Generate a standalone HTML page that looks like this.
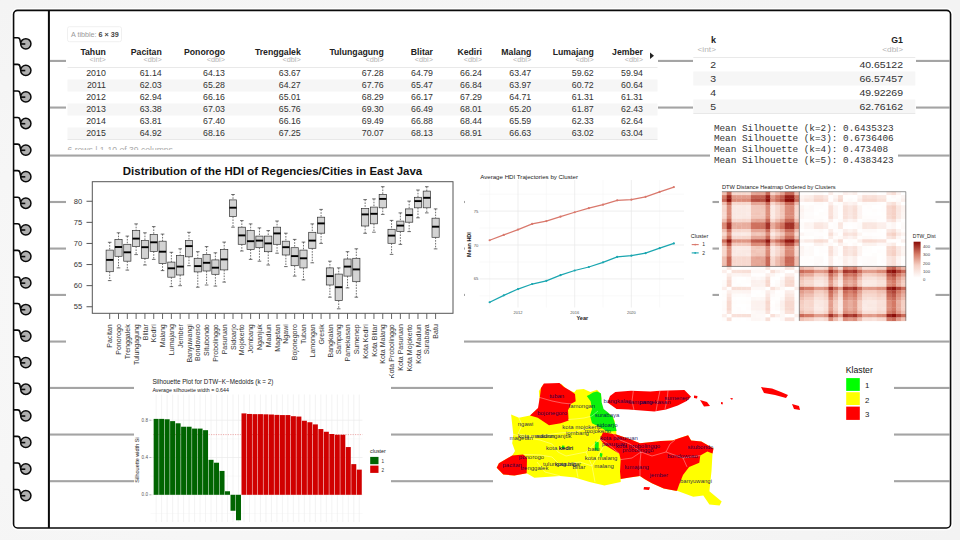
<!DOCTYPE html>
<html><head><meta charset="utf-8"><style>
html,body{margin:0;padding:0;width:960px;height:540px;overflow:hidden;background:#eee}
svg{display:block}
</style></head><body>
<svg width="960" height="540" viewBox="0 0 960 540" font-family="Liberation Sans, sans-serif">
<defs><radialGradient id="bgg" cx="30%" cy="60%" r="80%"><stop offset="0" stop-color="#f9f9f9"/><stop offset="1" stop-color="#f3f3f3"/></radialGradient></defs>
<rect x="0" y="0" width="960" height="540" fill="url(#bgg)"/>
<rect x="13.56" y="10.33" width="937" height="517.63" rx="4" fill="none" stroke="#ffffff" stroke-width="4.5"/>
<rect x="13.56" y="10.33" width="937" height="517.63" rx="4" fill="#fff" stroke="#0a0a0a" stroke-width="1.6"/>
<rect x="50" y="59.88" width="900" height="2.1" fill="#a4a4a4"/>
<rect x="50" y="106.51" width="900" height="2.1" fill="#a4a4a4"/>
<rect x="50" y="154.51" width="900" height="2.1" fill="#a4a4a4"/>
<rect x="50" y="200.95" width="900" height="2.1" fill="#a4a4a4"/>
<rect x="50" y="247.51" width="900" height="2.1" fill="#a4a4a4"/>
<rect x="50" y="293.88" width="900" height="2.1" fill="#a4a4a4"/>
<rect x="50" y="340.51" width="900" height="2.1" fill="#a4a4a4"/>
<rect x="50" y="386.88" width="900" height="2.1" fill="#a4a4a4"/>
<rect x="50" y="433.5" width="900" height="2.1" fill="#a4a4a4"/>
<rect x="50" y="480.14" width="900" height="2.1" fill="#a4a4a4"/>
<rect x="47.9" y="10.33" width="2" height="517.63" fill="#0a0a0a"/>
<path d="M13.8,37.78 H17.6 Q19.8,37.78 20.1,40.48 Q20.4,43.98 22,43.98 H25.3" fill="none" stroke="#0a0a0a" stroke-width="1.6"/>
<circle cx="25.8" cy="43.78" r="5.15" fill="#b0b0b0" stroke="#0a0a0a" stroke-width="1.5"/>
<path d="M20.6,43.98 H25.3" stroke="#0a0a0a" stroke-width="1.6"/>
<path d="M13.8,64.36 H17.6 Q19.8,64.36 20.1,67.06 Q20.4,70.56 22,70.56 H25.3" fill="none" stroke="#0a0a0a" stroke-width="1.6"/>
<circle cx="25.8" cy="70.36" r="5.15" fill="#b0b0b0" stroke="#0a0a0a" stroke-width="1.5"/>
<path d="M20.6,70.56 H25.3" stroke="#0a0a0a" stroke-width="1.6"/>
<path d="M13.8,90.93 H17.6 Q19.8,90.93 20.1,93.63 Q20.4,97.13 22,97.13 H25.3" fill="none" stroke="#0a0a0a" stroke-width="1.6"/>
<circle cx="25.8" cy="96.93" r="5.15" fill="#b0b0b0" stroke="#0a0a0a" stroke-width="1.5"/>
<path d="M20.6,97.13 H25.3" stroke="#0a0a0a" stroke-width="1.6"/>
<path d="M13.8,117.5 H17.6 Q19.8,117.5 20.1,120.2 Q20.4,123.7 22,123.7 H25.3" fill="none" stroke="#0a0a0a" stroke-width="1.6"/>
<circle cx="25.8" cy="123.5" r="5.15" fill="#b0b0b0" stroke="#0a0a0a" stroke-width="1.5"/>
<path d="M20.6,123.7 H25.3" stroke="#0a0a0a" stroke-width="1.6"/>
<path d="M13.8,144.08 H17.6 Q19.8,144.08 20.1,146.78 Q20.4,150.28 22,150.28 H25.3" fill="none" stroke="#0a0a0a" stroke-width="1.6"/>
<circle cx="25.8" cy="150.08" r="5.15" fill="#b0b0b0" stroke="#0a0a0a" stroke-width="1.5"/>
<path d="M20.6,150.28 H25.3" stroke="#0a0a0a" stroke-width="1.6"/>
<path d="M13.8,170.66 H17.6 Q19.8,170.66 20.1,173.35 Q20.4,176.85 22,176.85 H25.3" fill="none" stroke="#0a0a0a" stroke-width="1.6"/>
<circle cx="25.8" cy="176.66" r="5.15" fill="#b0b0b0" stroke="#0a0a0a" stroke-width="1.5"/>
<path d="M20.6,176.85 H25.3" stroke="#0a0a0a" stroke-width="1.6"/>
<path d="M13.8,197.23 H17.6 Q19.8,197.23 20.1,199.93 Q20.4,203.43 22,203.43 H25.3" fill="none" stroke="#0a0a0a" stroke-width="1.6"/>
<circle cx="25.8" cy="203.23" r="5.15" fill="#b0b0b0" stroke="#0a0a0a" stroke-width="1.5"/>
<path d="M20.6,203.43 H25.3" stroke="#0a0a0a" stroke-width="1.6"/>
<path d="M13.8,223.81 H17.6 Q19.8,223.81 20.1,226.5 Q20.4,230 22,230 H25.3" fill="none" stroke="#0a0a0a" stroke-width="1.6"/>
<circle cx="25.8" cy="229.81" r="5.15" fill="#b0b0b0" stroke="#0a0a0a" stroke-width="1.5"/>
<path d="M20.6,230 H25.3" stroke="#0a0a0a" stroke-width="1.6"/>
<path d="M13.8,250.38 H17.6 Q19.8,250.38 20.1,253.08 Q20.4,256.58 22,256.58 H25.3" fill="none" stroke="#0a0a0a" stroke-width="1.6"/>
<circle cx="25.8" cy="256.38" r="5.15" fill="#b0b0b0" stroke="#0a0a0a" stroke-width="1.5"/>
<path d="M20.6,256.58 H25.3" stroke="#0a0a0a" stroke-width="1.6"/>
<path d="M13.8,276.95 H17.6 Q19.8,276.95 20.1,279.65 Q20.4,283.15 22,283.15 H25.3" fill="none" stroke="#0a0a0a" stroke-width="1.6"/>
<circle cx="25.8" cy="282.95" r="5.15" fill="#b0b0b0" stroke="#0a0a0a" stroke-width="1.5"/>
<path d="M20.6,283.15 H25.3" stroke="#0a0a0a" stroke-width="1.6"/>
<path d="M13.8,303.53 H17.6 Q19.8,303.53 20.1,306.23 Q20.4,309.73 22,309.73 H25.3" fill="none" stroke="#0a0a0a" stroke-width="1.6"/>
<circle cx="25.8" cy="309.53" r="5.15" fill="#b0b0b0" stroke="#0a0a0a" stroke-width="1.5"/>
<path d="M20.6,309.73 H25.3" stroke="#0a0a0a" stroke-width="1.6"/>
<path d="M13.8,330.11 H17.6 Q19.8,330.11 20.1,332.81 Q20.4,336.31 22,336.31 H25.3" fill="none" stroke="#0a0a0a" stroke-width="1.6"/>
<circle cx="25.8" cy="336.11" r="5.15" fill="#b0b0b0" stroke="#0a0a0a" stroke-width="1.5"/>
<path d="M20.6,336.31 H25.3" stroke="#0a0a0a" stroke-width="1.6"/>
<path d="M13.8,356.68 H17.6 Q19.8,356.68 20.1,359.38 Q20.4,362.88 22,362.88 H25.3" fill="none" stroke="#0a0a0a" stroke-width="1.6"/>
<circle cx="25.8" cy="362.68" r="5.15" fill="#b0b0b0" stroke="#0a0a0a" stroke-width="1.5"/>
<path d="M20.6,362.88 H25.3" stroke="#0a0a0a" stroke-width="1.6"/>
<path d="M13.8,383.25 H17.6 Q19.8,383.25 20.1,385.95 Q20.4,389.45 22,389.45 H25.3" fill="none" stroke="#0a0a0a" stroke-width="1.6"/>
<circle cx="25.8" cy="389.25" r="5.15" fill="#b0b0b0" stroke="#0a0a0a" stroke-width="1.5"/>
<path d="M20.6,389.45 H25.3" stroke="#0a0a0a" stroke-width="1.6"/>
<path d="M13.8,409.83 H17.6 Q19.8,409.83 20.1,412.53 Q20.4,416.03 22,416.03 H25.3" fill="none" stroke="#0a0a0a" stroke-width="1.6"/>
<circle cx="25.8" cy="415.83" r="5.15" fill="#b0b0b0" stroke="#0a0a0a" stroke-width="1.5"/>
<path d="M20.6,416.03 H25.3" stroke="#0a0a0a" stroke-width="1.6"/>
<path d="M13.8,436.4 H17.6 Q19.8,436.4 20.1,439.1 Q20.4,442.6 22,442.6 H25.3" fill="none" stroke="#0a0a0a" stroke-width="1.6"/>
<circle cx="25.8" cy="442.4" r="5.15" fill="#b0b0b0" stroke="#0a0a0a" stroke-width="1.5"/>
<path d="M20.6,442.6 H25.3" stroke="#0a0a0a" stroke-width="1.6"/>
<path d="M13.8,462.98 H17.6 Q19.8,462.98 20.1,465.68 Q20.4,469.18 22,469.18 H25.3" fill="none" stroke="#0a0a0a" stroke-width="1.6"/>
<circle cx="25.8" cy="468.98" r="5.15" fill="#b0b0b0" stroke="#0a0a0a" stroke-width="1.5"/>
<path d="M20.6,469.18 H25.3" stroke="#0a0a0a" stroke-width="1.6"/>
<path d="M13.8,489.55 H17.6 Q19.8,489.55 20.1,492.25 Q20.4,495.75 22,495.75 H25.3" fill="none" stroke="#0a0a0a" stroke-width="1.6"/>
<circle cx="25.8" cy="495.55" r="5.15" fill="#b0b0b0" stroke="#0a0a0a" stroke-width="1.5"/>
<path d="M20.6,495.75 H25.3" stroke="#0a0a0a" stroke-width="1.6"/>
<rect x="66" y="14" width="592" height="136" fill="#fff"/>
<rect x="67.5" y="26.7" width="54" height="15" rx="2" fill="#fff" stroke="#ececec" stroke-width="0.8"/>
<text x="71" y="37.3" font-size="7.2" fill="#9a9a9a">A tibble: <tspan fill="#444" font-weight="bold">6 × 39</tspan></text>
<rect x="67.5" y="79.5" width="590" height="12" fill="#f6f6f6"/>
<rect x="67.5" y="103.5" width="590" height="12" fill="#f6f6f6"/>
<rect x="67.5" y="127.5" width="590" height="12" fill="#f6f6f6"/>
<rect x="67.5" y="67" width="590" height="0.8" fill="#e4e4e4"/>
<rect x="67.5" y="139.2" width="590" height="0.8" fill="#e4e4e4"/>
<text x="105.8" y="55.2" font-size="8.7" fill="#222" text-anchor="end" font-weight="bold" >Tahun</text>
<text x="105.8" y="62.2" font-size="7.3" fill="#b4b4b4" text-anchor="end" font-weight="normal" >&lt;int&gt;</text>
<text x="105.8" y="76.2" font-size="8.8" fill="#333" text-anchor="end" font-weight="normal" >2010</text>
<text x="105.8" y="88.2" font-size="8.8" fill="#333" text-anchor="end" font-weight="normal" >2011</text>
<text x="105.8" y="100.2" font-size="8.8" fill="#333" text-anchor="end" font-weight="normal" >2012</text>
<text x="105.8" y="112.2" font-size="8.8" fill="#333" text-anchor="end" font-weight="normal" >2013</text>
<text x="105.8" y="124.2" font-size="8.8" fill="#333" text-anchor="end" font-weight="normal" >2014</text>
<text x="105.8" y="136.2" font-size="8.8" fill="#333" text-anchor="end" font-weight="normal" >2015</text>
<text x="161.7" y="55.2" font-size="8.7" fill="#222" text-anchor="end" font-weight="bold" >Pacitan</text>
<text x="161.7" y="62.2" font-size="7.3" fill="#b4b4b4" text-anchor="end" font-weight="normal" >&lt;dbl&gt;</text>
<text x="161.7" y="76.2" font-size="8.8" fill="#333" text-anchor="end" font-weight="normal" >61.14</text>
<text x="161.7" y="88.2" font-size="8.8" fill="#333" text-anchor="end" font-weight="normal" >62.03</text>
<text x="161.7" y="100.2" font-size="8.8" fill="#333" text-anchor="end" font-weight="normal" >62.94</text>
<text x="161.7" y="112.2" font-size="8.8" fill="#333" text-anchor="end" font-weight="normal" >63.38</text>
<text x="161.7" y="124.2" font-size="8.8" fill="#333" text-anchor="end" font-weight="normal" >63.81</text>
<text x="161.7" y="136.2" font-size="8.8" fill="#333" text-anchor="end" font-weight="normal" >64.92</text>
<text x="225" y="55.2" font-size="8.7" fill="#222" text-anchor="end" font-weight="bold" >Ponorogo</text>
<text x="225" y="62.2" font-size="7.3" fill="#b4b4b4" text-anchor="end" font-weight="normal" >&lt;dbl&gt;</text>
<text x="225" y="76.2" font-size="8.8" fill="#333" text-anchor="end" font-weight="normal" >64.13</text>
<text x="225" y="88.2" font-size="8.8" fill="#333" text-anchor="end" font-weight="normal" >65.28</text>
<text x="225" y="100.2" font-size="8.8" fill="#333" text-anchor="end" font-weight="normal" >66.16</text>
<text x="225" y="112.2" font-size="8.8" fill="#333" text-anchor="end" font-weight="normal" >67.03</text>
<text x="225" y="124.2" font-size="8.8" fill="#333" text-anchor="end" font-weight="normal" >67.40</text>
<text x="225" y="136.2" font-size="8.8" fill="#333" text-anchor="end" font-weight="normal" >68.16</text>
<text x="300.75" y="55.2" font-size="8.7" fill="#222" text-anchor="end" font-weight="bold" >Trenggalek</text>
<text x="300.75" y="62.2" font-size="7.3" fill="#b4b4b4" text-anchor="end" font-weight="normal" >&lt;dbl&gt;</text>
<text x="300.75" y="76.2" font-size="8.8" fill="#333" text-anchor="end" font-weight="normal" >63.67</text>
<text x="300.75" y="88.2" font-size="8.8" fill="#333" text-anchor="end" font-weight="normal" >64.27</text>
<text x="300.75" y="100.2" font-size="8.8" fill="#333" text-anchor="end" font-weight="normal" >65.01</text>
<text x="300.75" y="112.2" font-size="8.8" fill="#333" text-anchor="end" font-weight="normal" >65.76</text>
<text x="300.75" y="124.2" font-size="8.8" fill="#333" text-anchor="end" font-weight="normal" >66.16</text>
<text x="300.75" y="136.2" font-size="8.8" fill="#333" text-anchor="end" font-weight="normal" >67.25</text>
<text x="383.75" y="55.2" font-size="8.7" fill="#222" text-anchor="end" font-weight="bold" >Tulungagung</text>
<text x="383.75" y="62.2" font-size="7.3" fill="#b4b4b4" text-anchor="end" font-weight="normal" >&lt;dbl&gt;</text>
<text x="383.75" y="76.2" font-size="8.8" fill="#333" text-anchor="end" font-weight="normal" >67.28</text>
<text x="383.75" y="88.2" font-size="8.8" fill="#333" text-anchor="end" font-weight="normal" >67.76</text>
<text x="383.75" y="100.2" font-size="8.8" fill="#333" text-anchor="end" font-weight="normal" >68.29</text>
<text x="383.75" y="112.2" font-size="8.8" fill="#333" text-anchor="end" font-weight="normal" >69.30</text>
<text x="383.75" y="124.2" font-size="8.8" fill="#333" text-anchor="end" font-weight="normal" >69.49</text>
<text x="383.75" y="136.2" font-size="8.8" fill="#333" text-anchor="end" font-weight="normal" >70.07</text>
<text x="433" y="55.2" font-size="8.7" fill="#222" text-anchor="end" font-weight="bold" >Blitar</text>
<text x="433" y="62.2" font-size="7.3" fill="#b4b4b4" text-anchor="end" font-weight="normal" >&lt;dbl&gt;</text>
<text x="433" y="76.2" font-size="8.8" fill="#333" text-anchor="end" font-weight="normal" >64.79</text>
<text x="433" y="88.2" font-size="8.8" fill="#333" text-anchor="end" font-weight="normal" >65.47</text>
<text x="433" y="100.2" font-size="8.8" fill="#333" text-anchor="end" font-weight="normal" >66.17</text>
<text x="433" y="112.2" font-size="8.8" fill="#333" text-anchor="end" font-weight="normal" >66.49</text>
<text x="433" y="124.2" font-size="8.8" fill="#333" text-anchor="end" font-weight="normal" >66.88</text>
<text x="433" y="136.2" font-size="8.8" fill="#333" text-anchor="end" font-weight="normal" >68.13</text>
<text x="482" y="55.2" font-size="8.7" fill="#222" text-anchor="end" font-weight="bold" >Kediri</text>
<text x="482" y="62.2" font-size="7.3" fill="#b4b4b4" text-anchor="end" font-weight="normal" >&lt;dbl&gt;</text>
<text x="482" y="76.2" font-size="8.8" fill="#333" text-anchor="end" font-weight="normal" >66.24</text>
<text x="482" y="88.2" font-size="8.8" fill="#333" text-anchor="end" font-weight="normal" >66.84</text>
<text x="482" y="100.2" font-size="8.8" fill="#333" text-anchor="end" font-weight="normal" >67.29</text>
<text x="482" y="112.2" font-size="8.8" fill="#333" text-anchor="end" font-weight="normal" >68.01</text>
<text x="482" y="124.2" font-size="8.8" fill="#333" text-anchor="end" font-weight="normal" >68.44</text>
<text x="482" y="136.2" font-size="8.8" fill="#333" text-anchor="end" font-weight="normal" >68.91</text>
<text x="531.25" y="55.2" font-size="8.7" fill="#222" text-anchor="end" font-weight="bold" >Malang</text>
<text x="531.25" y="62.2" font-size="7.3" fill="#b4b4b4" text-anchor="end" font-weight="normal" >&lt;dbl&gt;</text>
<text x="531.25" y="76.2" font-size="8.8" fill="#333" text-anchor="end" font-weight="normal" >63.47</text>
<text x="531.25" y="88.2" font-size="8.8" fill="#333" text-anchor="end" font-weight="normal" >63.97</text>
<text x="531.25" y="100.2" font-size="8.8" fill="#333" text-anchor="end" font-weight="normal" >64.71</text>
<text x="531.25" y="112.2" font-size="8.8" fill="#333" text-anchor="end" font-weight="normal" >65.20</text>
<text x="531.25" y="124.2" font-size="8.8" fill="#333" text-anchor="end" font-weight="normal" >65.59</text>
<text x="531.25" y="136.2" font-size="8.8" fill="#333" text-anchor="end" font-weight="normal" >66.63</text>
<text x="593.75" y="55.2" font-size="8.7" fill="#222" text-anchor="end" font-weight="bold" >Lumajang</text>
<text x="593.75" y="62.2" font-size="7.3" fill="#b4b4b4" text-anchor="end" font-weight="normal" >&lt;dbl&gt;</text>
<text x="593.75" y="76.2" font-size="8.8" fill="#333" text-anchor="end" font-weight="normal" >59.62</text>
<text x="593.75" y="88.2" font-size="8.8" fill="#333" text-anchor="end" font-weight="normal" >60.72</text>
<text x="593.75" y="100.2" font-size="8.8" fill="#333" text-anchor="end" font-weight="normal" >61.31</text>
<text x="593.75" y="112.2" font-size="8.8" fill="#333" text-anchor="end" font-weight="normal" >61.87</text>
<text x="593.75" y="124.2" font-size="8.8" fill="#333" text-anchor="end" font-weight="normal" >62.33</text>
<text x="593.75" y="136.2" font-size="8.8" fill="#333" text-anchor="end" font-weight="normal" >63.02</text>
<text x="643" y="55.2" font-size="8.7" fill="#222" text-anchor="end" font-weight="bold" >Jember</text>
<text x="643" y="62.2" font-size="7.3" fill="#b4b4b4" text-anchor="end" font-weight="normal" >&lt;dbl&gt;</text>
<text x="643" y="76.2" font-size="8.8" fill="#333" text-anchor="end" font-weight="normal" >59.94</text>
<text x="643" y="88.2" font-size="8.8" fill="#333" text-anchor="end" font-weight="normal" >60.64</text>
<text x="643" y="100.2" font-size="8.8" fill="#333" text-anchor="end" font-weight="normal" >61.31</text>
<text x="643" y="112.2" font-size="8.8" fill="#333" text-anchor="end" font-weight="normal" >62.43</text>
<text x="643" y="124.2" font-size="8.8" fill="#333" text-anchor="end" font-weight="normal" >62.64</text>
<text x="643" y="136.2" font-size="8.8" fill="#333" text-anchor="end" font-weight="normal" >63.04</text>
<path d="M650,52.5 L654,55.7 L650,58.9 Z" fill="#222"/>
<clipPath id="cp1"><rect x="60" y="140" width="600" height="10"/></clipPath>
<text x="67.5" y="152.5" font-size="8.6" fill="#aaa" text-anchor="start" font-weight="normal" clip-path="url(#cp1)">6 rows | 1-10 of 39 columns</text>
<rect x="693" y="14" width="223" height="103" fill="#fff"/>
<rect x="693.3" y="71.5" width="222" height="14" fill="#f6f6f6"/>
<rect x="693.3" y="99.5" width="222" height="14" fill="#f6f6f6"/>
<rect x="693.3" y="57.1" width="222" height="0.8" fill="#e4e4e4"/>
<rect x="693.3" y="113.1" width="222" height="0.8" fill="#e4e4e4"/>
<text transform="translate(716,43.3) scale(1.05,1)" font-size="8.6" fill="#222" text-anchor="end" font-weight="bold">k</text>
<text transform="translate(716,52.3) scale(1.19,1)" font-size="7.0" fill="#b4b4b4" text-anchor="end" font-weight="normal">&lt;int&gt;</text>
<text transform="translate(903,43.3) scale(1.02,1)" font-size="8.6" fill="#222" text-anchor="end" font-weight="bold">G1</text>
<text transform="translate(903,52.3) scale(1.19,1)" font-size="7.0" fill="#b4b4b4" text-anchor="end" font-weight="normal">&lt;dbl&gt;</text>
<text transform="translate(716,67.8) scale(1.19,1)" font-size="8.8" fill="#333" text-anchor="end" font-weight="normal">2</text>
<text transform="translate(903,67.8) scale(1.19,1)" font-size="8.8" fill="#333" text-anchor="end" font-weight="normal">40.65122</text>
<text transform="translate(716,81.8) scale(1.19,1)" font-size="8.8" fill="#333" text-anchor="end" font-weight="normal">3</text>
<text transform="translate(903,81.8) scale(1.19,1)" font-size="8.8" fill="#333" text-anchor="end" font-weight="normal">66.57457</text>
<text transform="translate(716,95.8) scale(1.19,1)" font-size="8.8" fill="#333" text-anchor="end" font-weight="normal">4</text>
<text transform="translate(903,95.8) scale(1.19,1)" font-size="8.8" fill="#333" text-anchor="end" font-weight="normal">49.92269</text>
<text transform="translate(716,109.8) scale(1.19,1)" font-size="8.8" fill="#333" text-anchor="end" font-weight="normal">5</text>
<text transform="translate(903,109.8) scale(1.19,1)" font-size="8.8" fill="#333" text-anchor="end" font-weight="normal">62.76162</text>
<rect x="710" y="118" width="188" height="48" fill="#fff"/>
<text x="713.9" y="130.7" font-size="9.37" fill="#333" font-family="Liberation Mono">Mean Silhouette (k=2): 0.6435323</text>
<text x="713.9" y="141.3" font-size="9.37" fill="#333" font-family="Liberation Mono">Mean Silhouette (k=3): 0.6736406</text>
<text x="713.9" y="151.9" font-size="9.37" fill="#333" font-family="Liberation Mono">Mean Silhouette (k=4): 0.473408</text>
<text x="713.9" y="162.5" font-size="9.37" fill="#333" font-family="Liberation Mono">Mean Silhouette (k=5): 0.4383423</text>
<rect x="66" y="157" width="398" height="223" fill="#fff"/>
<text x="272.5" y="175.3" font-size="11.45" font-weight="bold" fill="#111" text-anchor="middle">Distribution of the HDI of Regencies/Cities in East Java</text>
<rect x="92.3" y="181.7" width="360.7" height="131.6" fill="none" stroke="#555" stroke-width="1"/>
<path d="M86.5,306.75 H92.3" stroke="#555" stroke-width="1"/>
<text x="82.3" y="309.45" font-size="7.6" fill="#333" text-anchor="end" font-weight="normal" >55</text>
<path d="M86.5,285.65 H92.3" stroke="#555" stroke-width="1"/>
<text x="82.3" y="288.35" font-size="7.6" fill="#333" text-anchor="end" font-weight="normal" >60</text>
<path d="M86.5,264.55 H92.3" stroke="#555" stroke-width="1"/>
<text x="82.3" y="267.25" font-size="7.6" fill="#333" text-anchor="end" font-weight="normal" >65</text>
<path d="M86.5,243.45 H92.3" stroke="#555" stroke-width="1"/>
<text x="82.3" y="246.15" font-size="7.6" fill="#333" text-anchor="end" font-weight="normal" >70</text>
<path d="M86.5,222.35 H92.3" stroke="#555" stroke-width="1"/>
<text x="82.3" y="225.05" font-size="7.6" fill="#333" text-anchor="end" font-weight="normal" >75</text>
<path d="M86.5,201.25 H92.3" stroke="#555" stroke-width="1"/>
<text x="82.3" y="203.95" font-size="7.6" fill="#333" text-anchor="end" font-weight="normal" >80</text>
<clipPath id="cp3"><rect x="66" y="157" width="398" height="223"/></clipPath>
<g clip-path="url(#cp3)">
<path d="M109.7,242.3 V250.1 M109.7,271.7 V280.6" stroke="#333" stroke-width="0.7" stroke-dasharray="1.6,1.2"/>
<path d="M107.9,242.3 H111.5 M107.9,280.6 H111.5" stroke="#333" stroke-width="0.7"/>
<rect x="106.1" y="250.1" width="7.2" height="21.6" fill="#d3d3d3" stroke="#333" stroke-width="0.7"/>
<path d="M106.1,259.9 H113.3" stroke="#000" stroke-width="1.9"/>
<path d="M109.7,313.3 V319" stroke="#555" stroke-width="0.9"/>
<text transform="translate(112.3,324.2) rotate(-90)" font-size="7.05" fill="#333" text-anchor="end">Pacitan</text>
<path d="M118.51,232.8 V239.4 M118.51,256.3 V267.9" stroke="#333" stroke-width="0.7" stroke-dasharray="1.6,1.2"/>
<path d="M116.71,232.8 H120.31 M116.71,267.9 H120.31" stroke="#333" stroke-width="0.7"/>
<rect x="114.91" y="239.4" width="7.2" height="16.9" fill="#d3d3d3" stroke="#333" stroke-width="0.7"/>
<path d="M114.91,247 H122.11" stroke="#000" stroke-width="1.9"/>
<path d="M118.51,313.3 V319" stroke="#555" stroke-width="0.9"/>
<text transform="translate(121.11,324.2) rotate(-90)" font-size="7.05" fill="#333" text-anchor="end">Ponorogo</text>
<path d="M127.32,236.1 V244.3 M127.32,261.2 V270.1" stroke="#333" stroke-width="0.7" stroke-dasharray="1.6,1.2"/>
<path d="M125.52,236.1 H129.12 M125.52,270.1 H129.12" stroke="#333" stroke-width="0.7"/>
<rect x="123.72" y="244.3" width="7.2" height="16.9" fill="#d3d3d3" stroke="#333" stroke-width="0.7"/>
<path d="M123.72,252.3 H130.92" stroke="#000" stroke-width="1.9"/>
<path d="M127.32,313.3 V319" stroke="#555" stroke-width="0.9"/>
<text transform="translate(129.92,324.2) rotate(-90)" font-size="7.05" fill="#333" text-anchor="end">Trenggalek</text>
<path d="M136.12,223.9 V230.6 M136.12,246.6 V254.6" stroke="#333" stroke-width="0.7" stroke-dasharray="1.6,1.2"/>
<path d="M134.32,223.9 H137.92 M134.32,254.6 H137.92" stroke="#333" stroke-width="0.7"/>
<rect x="132.52" y="230.6" width="7.2" height="16" fill="#d3d3d3" stroke="#333" stroke-width="0.7"/>
<path d="M132.52,238.6 H139.72" stroke="#000" stroke-width="1.9"/>
<path d="M136.12,313.3 V319" stroke="#555" stroke-width="0.9"/>
<text transform="translate(138.72,324.2) rotate(-90)" font-size="7.05" fill="#333" text-anchor="end">Tulungagung</text>
<path d="M144.93,232.8 V240.6 M144.93,258.3 V265" stroke="#333" stroke-width="0.7" stroke-dasharray="1.6,1.2"/>
<path d="M143.13,232.8 H146.73 M143.13,265 H146.73" stroke="#333" stroke-width="0.7"/>
<rect x="141.33" y="240.6" width="7.2" height="17.7" fill="#d3d3d3" stroke="#333" stroke-width="0.7"/>
<path d="M141.33,247.2 H148.53" stroke="#000" stroke-width="1.9"/>
<path d="M144.93,313.3 V319" stroke="#555" stroke-width="0.9"/>
<text transform="translate(147.53,324.2) rotate(-90)" font-size="7.05" fill="#333" text-anchor="end">Blitar</text>
<path d="M153.74,226.6 V234.6 M153.74,251.4 V259.4" stroke="#333" stroke-width="0.7" stroke-dasharray="1.6,1.2"/>
<path d="M151.94,226.6 H155.54 M151.94,259.4 H155.54" stroke="#333" stroke-width="0.7"/>
<rect x="150.14" y="234.6" width="7.2" height="16.8" fill="#d3d3d3" stroke="#333" stroke-width="0.7"/>
<path d="M150.14,242.3 H157.34" stroke="#000" stroke-width="1.9"/>
<path d="M153.74,313.3 V319" stroke="#555" stroke-width="0.9"/>
<text transform="translate(156.34,324.2) rotate(-90)" font-size="7.05" fill="#333" text-anchor="end">Kediri</text>
<path d="M162.55,234.1 V241.2 M162.55,263.4 V270.6" stroke="#333" stroke-width="0.7" stroke-dasharray="1.6,1.2"/>
<path d="M160.75,234.1 H164.35 M160.75,270.6 H164.35" stroke="#333" stroke-width="0.7"/>
<rect x="158.95" y="241.2" width="7.2" height="22.2" fill="#d3d3d3" stroke="#333" stroke-width="0.7"/>
<path d="M158.95,251.7 H166.15" stroke="#000" stroke-width="1.9"/>
<path d="M162.55,313.3 V319" stroke="#555" stroke-width="0.9"/>
<text transform="translate(165.15,324.2) rotate(-90)" font-size="7.05" fill="#333" text-anchor="end">Malang</text>
<path d="M171.36,252.3 V262.1 M171.36,277.2 V286.6" stroke="#333" stroke-width="0.7" stroke-dasharray="1.6,1.2"/>
<path d="M169.56,252.3 H173.16 M169.56,286.6 H173.16" stroke="#333" stroke-width="0.7"/>
<rect x="167.76" y="262.1" width="7.2" height="15.1" fill="#d3d3d3" stroke="#333" stroke-width="0.7"/>
<path d="M167.76,268.3 H174.96" stroke="#000" stroke-width="1.9"/>
<path d="M171.36,313.3 V319" stroke="#555" stroke-width="0.9"/>
<text transform="translate(173.96,324.2) rotate(-90)" font-size="7.05" fill="#333" text-anchor="end">Lumajang</text>
<path d="M180.16,248.8 V255.4 M180.16,275 V285.7" stroke="#333" stroke-width="0.7" stroke-dasharray="1.6,1.2"/>
<path d="M178.36,248.8 H181.96 M178.36,285.7 H181.96" stroke="#333" stroke-width="0.7"/>
<rect x="176.56" y="255.4" width="7.2" height="19.6" fill="#d3d3d3" stroke="#333" stroke-width="0.7"/>
<path d="M176.56,266.6 H183.76" stroke="#000" stroke-width="1.9"/>
<path d="M180.16,313.3 V319" stroke="#555" stroke-width="0.9"/>
<text transform="translate(182.76,324.2) rotate(-90)" font-size="7.05" fill="#333" text-anchor="end">Jember</text>
<path d="M188.97,232.3 V240.6 M188.97,256.8 V265.7" stroke="#333" stroke-width="0.7" stroke-dasharray="1.6,1.2"/>
<path d="M187.17,232.3 H190.77 M187.17,265.7 H190.77" stroke="#333" stroke-width="0.7"/>
<rect x="185.37" y="240.6" width="7.2" height="16.2" fill="#d3d3d3" stroke="#333" stroke-width="0.7"/>
<path d="M185.37,246.1 H192.57" stroke="#000" stroke-width="1.9"/>
<path d="M188.97,313.3 V319" stroke="#555" stroke-width="0.9"/>
<text transform="translate(191.57,324.2) rotate(-90)" font-size="7.05" fill="#333" text-anchor="end">Banyuwangi</text>
<path d="M197.78,251.7 V258.3 M197.78,271.9 V287.2" stroke="#333" stroke-width="0.7" stroke-dasharray="1.6,1.2"/>
<path d="M195.98,251.7 H199.58 M195.98,287.2 H199.58" stroke="#333" stroke-width="0.7"/>
<rect x="194.18" y="258.3" width="7.2" height="13.6" fill="#d3d3d3" stroke="#333" stroke-width="0.7"/>
<path d="M194.18,266.1 H201.38" stroke="#000" stroke-width="1.9"/>
<path d="M197.78,313.3 V319" stroke="#555" stroke-width="0.9"/>
<text transform="translate(200.38,324.2) rotate(-90)" font-size="7.05" fill="#333" text-anchor="end">Bondowoso</text>
<path d="M206.59,246.6 V254.6 M206.59,271 V285" stroke="#333" stroke-width="0.7" stroke-dasharray="1.6,1.2"/>
<path d="M204.79,246.6 H208.39 M204.79,285 H208.39" stroke="#333" stroke-width="0.7"/>
<rect x="202.99" y="254.6" width="7.2" height="16.4" fill="#d3d3d3" stroke="#333" stroke-width="0.7"/>
<path d="M202.99,262.8 H210.19" stroke="#000" stroke-width="1.9"/>
<path d="M206.59,313.3 V319" stroke="#555" stroke-width="0.9"/>
<text transform="translate(209.19,324.2) rotate(-90)" font-size="7.05" fill="#333" text-anchor="end">Situbondo</text>
<path d="M215.4,252.8 V259.9 M215.4,274.3 V286.1" stroke="#333" stroke-width="0.7" stroke-dasharray="1.6,1.2"/>
<path d="M213.6,252.8 H217.2 M213.6,286.1 H217.2" stroke="#333" stroke-width="0.7"/>
<rect x="211.8" y="259.9" width="7.2" height="14.4" fill="#d3d3d3" stroke="#333" stroke-width="0.7"/>
<path d="M211.8,267.7 H219" stroke="#000" stroke-width="1.9"/>
<path d="M215.4,313.3 V319" stroke="#555" stroke-width="0.9"/>
<text transform="translate(218,324.2) rotate(-90)" font-size="7.05" fill="#333" text-anchor="end">Probolinggo</text>
<path d="M224.2,242.1 V249.4 M224.2,269.9 V282.1" stroke="#333" stroke-width="0.7" stroke-dasharray="1.6,1.2"/>
<path d="M222.4,242.1 H226 M222.4,282.1 H226" stroke="#333" stroke-width="0.7"/>
<rect x="220.6" y="249.4" width="7.2" height="20.5" fill="#d3d3d3" stroke="#333" stroke-width="0.7"/>
<path d="M220.6,259.4 H227.8" stroke="#000" stroke-width="1.9"/>
<path d="M224.2,313.3 V319" stroke="#555" stroke-width="0.9"/>
<text transform="translate(226.8,324.2) rotate(-90)" font-size="7.05" fill="#333" text-anchor="end">Pasuruan</text>
<path d="M233.01,194.5 V199.9 M233.01,216.6 V227.2" stroke="#333" stroke-width="0.7" stroke-dasharray="1.6,1.2"/>
<path d="M231.21,194.5 H234.81 M231.21,227.2 H234.81" stroke="#333" stroke-width="0.7"/>
<rect x="229.41" y="199.9" width="7.2" height="16.7" fill="#d3d3d3" stroke="#333" stroke-width="0.7"/>
<path d="M229.41,207.7 H236.61" stroke="#000" stroke-width="1.9"/>
<path d="M233.01,313.3 V319" stroke="#555" stroke-width="0.9"/>
<text transform="translate(235.61,324.2) rotate(-90)" font-size="7.05" fill="#333" text-anchor="end">Sidoarjo</text>
<path d="M241.82,220.6 V227.2 M241.82,244.3 V251" stroke="#333" stroke-width="0.7" stroke-dasharray="1.6,1.2"/>
<path d="M240.02,220.6 H243.62 M240.02,251 H243.62" stroke="#333" stroke-width="0.7"/>
<rect x="238.22" y="227.2" width="7.2" height="17.1" fill="#d3d3d3" stroke="#333" stroke-width="0.7"/>
<path d="M238.22,235.4 H245.42" stroke="#000" stroke-width="1.9"/>
<path d="M241.82,313.3 V319" stroke="#555" stroke-width="0.9"/>
<text transform="translate(244.42,324.2) rotate(-90)" font-size="7.05" fill="#333" text-anchor="end">Mojokerto</text>
<path d="M250.63,223.9 V230.6 M250.63,249.4 V259.4" stroke="#333" stroke-width="0.7" stroke-dasharray="1.6,1.2"/>
<path d="M248.83,223.9 H252.43 M248.83,259.4 H252.43" stroke="#333" stroke-width="0.7"/>
<rect x="247.03" y="230.6" width="7.2" height="18.8" fill="#d3d3d3" stroke="#333" stroke-width="0.7"/>
<path d="M247.03,241.2 H254.23" stroke="#000" stroke-width="1.9"/>
<path d="M250.63,313.3 V319" stroke="#555" stroke-width="0.9"/>
<text transform="translate(253.23,324.2) rotate(-90)" font-size="7.05" fill="#333" text-anchor="end">Jombang</text>
<path d="M259.44,227.9 V236.1 M259.44,247.7 V261.2" stroke="#333" stroke-width="0.7" stroke-dasharray="1.6,1.2"/>
<path d="M257.64,227.9 H261.24 M257.64,261.2 H261.24" stroke="#333" stroke-width="0.7"/>
<rect x="255.84" y="236.1" width="7.2" height="11.6" fill="#d3d3d3" stroke="#333" stroke-width="0.7"/>
<path d="M255.84,240.6 H263.04" stroke="#000" stroke-width="1.9"/>
<path d="M259.44,313.3 V319" stroke="#555" stroke-width="0.9"/>
<text transform="translate(262.04,324.2) rotate(-90)" font-size="7.05" fill="#333" text-anchor="end">Nganjuk</text>
<path d="M268.24,230.6 V236.1 M268.24,251.7 V265" stroke="#333" stroke-width="0.7" stroke-dasharray="1.6,1.2"/>
<path d="M266.44,230.6 H270.04 M266.44,265 H270.04" stroke="#333" stroke-width="0.7"/>
<rect x="264.64" y="236.1" width="7.2" height="15.6" fill="#d3d3d3" stroke="#333" stroke-width="0.7"/>
<path d="M264.64,243.4 H271.84" stroke="#000" stroke-width="1.9"/>
<path d="M268.24,313.3 V319" stroke="#555" stroke-width="0.9"/>
<text transform="translate(270.84,324.2) rotate(-90)" font-size="7.05" fill="#333" text-anchor="end">Madiun</text>
<path d="M277.05,221 V227.2 M277.05,244.3 V253.2" stroke="#333" stroke-width="0.7" stroke-dasharray="1.6,1.2"/>
<path d="M275.25,221 H278.85 M275.25,253.2 H278.85" stroke="#333" stroke-width="0.7"/>
<rect x="273.45" y="227.2" width="7.2" height="17.1" fill="#d3d3d3" stroke="#333" stroke-width="0.7"/>
<path d="M273.45,233.4 H280.65" stroke="#000" stroke-width="1.9"/>
<path d="M277.05,313.3 V319" stroke="#555" stroke-width="0.9"/>
<text transform="translate(279.65,324.2) rotate(-90)" font-size="7.05" fill="#333" text-anchor="end">Magetan</text>
<path d="M285.86,233.2 V241.2 M285.86,255 V266.6" stroke="#333" stroke-width="0.7" stroke-dasharray="1.6,1.2"/>
<path d="M284.06,233.2 H287.66 M284.06,266.6 H287.66" stroke="#333" stroke-width="0.7"/>
<rect x="282.26" y="241.2" width="7.2" height="13.8" fill="#d3d3d3" stroke="#333" stroke-width="0.7"/>
<path d="M282.26,247.2 H289.46" stroke="#000" stroke-width="1.9"/>
<path d="M285.86,313.3 V319" stroke="#555" stroke-width="0.9"/>
<text transform="translate(288.46,324.2) rotate(-90)" font-size="7.05" fill="#333" text-anchor="end">Ngawi</text>
<path d="M294.67,239.4 V247.7 M294.67,265.7 V276.1" stroke="#333" stroke-width="0.7" stroke-dasharray="1.6,1.2"/>
<path d="M292.87,239.4 H296.47 M292.87,276.1 H296.47" stroke="#333" stroke-width="0.7"/>
<rect x="291.07" y="247.7" width="7.2" height="18" fill="#d3d3d3" stroke="#333" stroke-width="0.7"/>
<path d="M291.07,256.1 H298.27" stroke="#000" stroke-width="1.9"/>
<path d="M294.67,313.3 V319" stroke="#555" stroke-width="0.9"/>
<text transform="translate(297.27,324.2) rotate(-90)" font-size="7.05" fill="#333" text-anchor="end">Bojonegoro</text>
<path d="M303.48,242.1 V250.1 M303.48,267.9 V279.9" stroke="#333" stroke-width="0.7" stroke-dasharray="1.6,1.2"/>
<path d="M301.68,242.1 H305.28 M301.68,279.9 H305.28" stroke="#333" stroke-width="0.7"/>
<rect x="299.88" y="250.1" width="7.2" height="17.8" fill="#d3d3d3" stroke="#333" stroke-width="0.7"/>
<path d="M299.88,258.3 H307.08" stroke="#000" stroke-width="1.9"/>
<path d="M303.48,313.3 V319" stroke="#555" stroke-width="0.9"/>
<text transform="translate(306.08,324.2) rotate(-90)" font-size="7.05" fill="#333" text-anchor="end">Tuban</text>
<path d="M312.28,223.9 V232.3 M312.28,248.3 V262.8" stroke="#333" stroke-width="0.7" stroke-dasharray="1.6,1.2"/>
<path d="M310.48,223.9 H314.08 M310.48,262.8 H314.08" stroke="#333" stroke-width="0.7"/>
<rect x="308.68" y="232.3" width="7.2" height="16" fill="#d3d3d3" stroke="#333" stroke-width="0.7"/>
<path d="M308.68,240.6 H315.88" stroke="#000" stroke-width="1.9"/>
<path d="M312.28,313.3 V319" stroke="#555" stroke-width="0.9"/>
<text transform="translate(314.88,324.2) rotate(-90)" font-size="7.05" fill="#333" text-anchor="end">Lamongan</text>
<path d="M321.09,209.4 V217.2 M321.09,233.2 V243.4" stroke="#333" stroke-width="0.7" stroke-dasharray="1.6,1.2"/>
<path d="M319.29,209.4 H322.89 M319.29,243.4 H322.89" stroke="#333" stroke-width="0.7"/>
<rect x="317.49" y="217.2" width="7.2" height="16" fill="#d3d3d3" stroke="#333" stroke-width="0.7"/>
<path d="M317.49,223.4 H324.69" stroke="#000" stroke-width="1.9"/>
<path d="M321.09,313.3 V319" stroke="#555" stroke-width="0.9"/>
<text transform="translate(323.69,324.2) rotate(-90)" font-size="7.05" fill="#333" text-anchor="end">Gresik</text>
<path d="M329.9,261.2 V267.9 M329.9,285 V297.2" stroke="#333" stroke-width="0.7" stroke-dasharray="1.6,1.2"/>
<path d="M328.1,261.2 H331.7 M328.1,297.2 H331.7" stroke="#333" stroke-width="0.7"/>
<rect x="326.3" y="267.9" width="7.2" height="17.1" fill="#d3d3d3" stroke="#333" stroke-width="0.7"/>
<path d="M326.3,276.1 H333.5" stroke="#000" stroke-width="1.9"/>
<path d="M329.9,313.3 V319" stroke="#555" stroke-width="0.9"/>
<text transform="translate(332.5,324.2) rotate(-90)" font-size="7.05" fill="#333" text-anchor="end">Bangkalan</text>
<path d="M338.71,267.9 V274.1 M338.71,300.6 V308.8" stroke="#333" stroke-width="0.7" stroke-dasharray="1.6,1.2"/>
<path d="M336.91,267.9 H340.51 M336.91,308.8 H340.51" stroke="#333" stroke-width="0.7"/>
<rect x="335.11" y="274.1" width="7.2" height="26.5" fill="#d3d3d3" stroke="#333" stroke-width="0.7"/>
<path d="M335.11,287.2 H342.31" stroke="#000" stroke-width="1.9"/>
<path d="M338.71,313.3 V319" stroke="#555" stroke-width="0.9"/>
<text transform="translate(341.31,324.2) rotate(-90)" font-size="7.05" fill="#333" text-anchor="end">Sampang</text>
<path d="M347.52,251.7 V259 M347.52,276.1 V287.9" stroke="#333" stroke-width="0.7" stroke-dasharray="1.6,1.2"/>
<path d="M345.72,251.7 H349.32 M345.72,287.9 H349.32" stroke="#333" stroke-width="0.7"/>
<rect x="343.92" y="259" width="7.2" height="17.1" fill="#d3d3d3" stroke="#333" stroke-width="0.7"/>
<path d="M343.92,266.6 H351.12" stroke="#000" stroke-width="1.9"/>
<path d="M347.52,313.3 V319" stroke="#555" stroke-width="0.9"/>
<text transform="translate(350.12,324.2) rotate(-90)" font-size="7.05" fill="#333" text-anchor="end">Pamekasan</text>
<path d="M356.32,248.8 V258.3 M356.32,281.7 V297.2" stroke="#333" stroke-width="0.7" stroke-dasharray="1.6,1.2"/>
<path d="M354.52,248.8 H358.12 M354.52,297.2 H358.12" stroke="#333" stroke-width="0.7"/>
<rect x="352.72" y="258.3" width="7.2" height="23.4" fill="#d3d3d3" stroke="#333" stroke-width="0.7"/>
<path d="M352.72,269.4 H359.92" stroke="#000" stroke-width="1.9"/>
<path d="M356.32,313.3 V319" stroke="#555" stroke-width="0.9"/>
<text transform="translate(358.92,324.2) rotate(-90)" font-size="7.05" fill="#333" text-anchor="end">Sumenep</text>
<path d="M365.13,199.6 V208.4 M365.13,226 V233.3" stroke="#333" stroke-width="0.7" stroke-dasharray="1.6,1.2"/>
<path d="M363.33,199.6 H366.93 M363.33,233.3 H366.93" stroke="#333" stroke-width="0.7"/>
<rect x="361.53" y="208.4" width="7.2" height="17.6" fill="#d3d3d3" stroke="#333" stroke-width="0.7"/>
<path d="M361.53,214.4 H368.73" stroke="#000" stroke-width="1.9"/>
<path d="M365.13,313.3 V319" stroke="#555" stroke-width="0.9"/>
<text transform="translate(367.73,324.2) rotate(-90)" font-size="7.05" fill="#333" text-anchor="end">Kota Kediri</text>
<path d="M373.94,198.9 V207.1 M373.94,223.8 V232.2" stroke="#333" stroke-width="0.7" stroke-dasharray="1.6,1.2"/>
<path d="M372.14,198.9 H375.74 M372.14,232.2 H375.74" stroke="#333" stroke-width="0.7"/>
<rect x="370.34" y="207.1" width="7.2" height="16.7" fill="#d3d3d3" stroke="#333" stroke-width="0.7"/>
<path d="M370.34,213.8 H377.54" stroke="#000" stroke-width="1.9"/>
<path d="M373.94,313.3 V319" stroke="#555" stroke-width="0.9"/>
<text transform="translate(376.54,324.2) rotate(-90)" font-size="7.05" fill="#333" text-anchor="end">Kota Blitar</text>
<path d="M382.75,186.7 V194.4 M382.75,207.8 V214.4" stroke="#333" stroke-width="0.7" stroke-dasharray="1.6,1.2"/>
<path d="M380.95,186.7 H384.55 M380.95,214.4 H384.55" stroke="#333" stroke-width="0.7"/>
<rect x="379.15" y="194.4" width="7.2" height="13.4" fill="#d3d3d3" stroke="#333" stroke-width="0.7"/>
<path d="M379.15,198.9 H386.35" stroke="#000" stroke-width="1.9"/>
<path d="M382.75,313.3 V319" stroke="#555" stroke-width="0.9"/>
<text transform="translate(385.35,324.2) rotate(-90)" font-size="7.05" fill="#333" text-anchor="end">Kota Malang</text>
<path d="M391.56,220.4 V229.3 M391.56,243.3 V254.4" stroke="#333" stroke-width="0.7" stroke-dasharray="1.6,1.2"/>
<path d="M389.76,220.4 H393.36 M389.76,254.4 H393.36" stroke="#333" stroke-width="0.7"/>
<rect x="387.96" y="229.3" width="7.2" height="14" fill="#d3d3d3" stroke="#333" stroke-width="0.7"/>
<path d="M387.96,235.6 H395.16" stroke="#000" stroke-width="1.9"/>
<path d="M391.56,313.3 V319" stroke="#555" stroke-width="0.9"/>
<text transform="translate(394.16,324.2) rotate(-90)" font-size="7.05" fill="#333" text-anchor="end">Kota Probolinggo</text>
<path d="M400.36,212.9 V221.1 M400.36,231.6 V244.4" stroke="#333" stroke-width="0.7" stroke-dasharray="1.6,1.2"/>
<path d="M398.56,212.9 H402.16 M398.56,244.4 H402.16" stroke="#333" stroke-width="0.7"/>
<rect x="396.76" y="221.1" width="7.2" height="10.5" fill="#d3d3d3" stroke="#333" stroke-width="0.7"/>
<path d="M396.76,225.6 H403.96" stroke="#000" stroke-width="1.9"/>
<path d="M400.36,313.3 V319" stroke="#555" stroke-width="0.9"/>
<text transform="translate(402.96,324.2) rotate(-90)" font-size="7.05" fill="#333" text-anchor="end">Kota Pasuruan</text>
<path d="M409.17,201.1 V208.9 M409.17,222.2 V231.6" stroke="#333" stroke-width="0.7" stroke-dasharray="1.6,1.2"/>
<path d="M407.37,201.1 H410.97 M407.37,231.6 H410.97" stroke="#333" stroke-width="0.7"/>
<rect x="405.57" y="208.9" width="7.2" height="13.3" fill="#d3d3d3" stroke="#333" stroke-width="0.7"/>
<path d="M405.57,215.1 H412.77" stroke="#000" stroke-width="1.9"/>
<path d="M409.17,313.3 V319" stroke="#555" stroke-width="0.9"/>
<text transform="translate(411.77,324.2) rotate(-90)" font-size="7.05" fill="#333" text-anchor="end">Kota Mojokerto</text>
<path d="M417.98,190 V197.3 M417.98,207.8 V217.8" stroke="#333" stroke-width="0.7" stroke-dasharray="1.6,1.2"/>
<path d="M416.18,190 H419.78 M416.18,217.8 H419.78" stroke="#333" stroke-width="0.7"/>
<rect x="414.38" y="197.3" width="7.2" height="10.5" fill="#d3d3d3" stroke="#333" stroke-width="0.7"/>
<path d="M414.38,201.1 H421.58" stroke="#000" stroke-width="1.9"/>
<path d="M417.98,313.3 V319" stroke="#555" stroke-width="0.9"/>
<text transform="translate(420.58,324.2) rotate(-90)" font-size="7.05" fill="#333" text-anchor="end">Kota Madiun</text>
<path d="M426.79,186.7 V191.1 M426.79,207.8 V212.9" stroke="#333" stroke-width="0.7" stroke-dasharray="1.6,1.2"/>
<path d="M424.99,186.7 H428.59 M424.99,212.9 H428.59" stroke="#333" stroke-width="0.7"/>
<rect x="423.19" y="191.1" width="7.2" height="16.7" fill="#d3d3d3" stroke="#333" stroke-width="0.7"/>
<path d="M423.19,197.8 H430.39" stroke="#000" stroke-width="1.9"/>
<path d="M426.79,313.3 V319" stroke="#555" stroke-width="0.9"/>
<text transform="translate(429.39,324.2) rotate(-90)" font-size="7.05" fill="#333" text-anchor="end">Surabaya</text>
<path d="M435.6,208.9 V218.2 M435.6,237.3 V248.9" stroke="#333" stroke-width="0.7" stroke-dasharray="1.6,1.2"/>
<path d="M433.8,208.9 H437.4 M433.8,248.9 H437.4" stroke="#333" stroke-width="0.7"/>
<rect x="432" y="218.2" width="7.2" height="19.1" fill="#d3d3d3" stroke="#333" stroke-width="0.7"/>
<path d="M432,226.7 H439.2" stroke="#000" stroke-width="1.9"/>
<path d="M435.6,313.3 V319" stroke="#555" stroke-width="0.9"/>
<text transform="translate(438.2,324.2) rotate(-90)" font-size="7.05" fill="#333" text-anchor="end">Batu</text>
</g>
<rect x="465" y="160" width="247.5" height="165" fill="#fff"/>
<path d="M479.5,295.85 H684" stroke="#f2f2f2" stroke-width="0.5"/>
<path d="M479.5,261.95 H684" stroke="#f2f2f2" stroke-width="0.5"/>
<path d="M479.5,228.05 H684" stroke="#f2f2f2" stroke-width="0.5"/>
<path d="M479.5,194.15 H684" stroke="#f2f2f2" stroke-width="0.5"/>
<path d="M489.66,180 V307.5" stroke="#f2f2f2" stroke-width="0.5"/>
<path d="M546.34,180 V307.5" stroke="#f2f2f2" stroke-width="0.5"/>
<path d="M603.02,180 V307.5" stroke="#f2f2f2" stroke-width="0.5"/>
<path d="M659.7,180 V307.5" stroke="#f2f2f2" stroke-width="0.5"/>
<path d="M479.5,278.9 H684" stroke="#e8e8e8" stroke-width="0.7"/>
<text x="478.4" y="280.4" font-size="4.2" fill="#555" text-anchor="end" font-weight="normal" >65</text>
<path d="M479.5,245 H684" stroke="#e8e8e8" stroke-width="0.7"/>
<text x="478.4" y="246.5" font-size="4.2" fill="#555" text-anchor="end" font-weight="normal" >70</text>
<path d="M479.5,211.1 H684" stroke="#e8e8e8" stroke-width="0.7"/>
<text x="478.4" y="212.6" font-size="4.2" fill="#555" text-anchor="end" font-weight="normal" >75</text>
<path d="M518,180 V307.5" stroke="#e8e8e8" stroke-width="0.7"/>
<text x="518" y="313.7" font-size="4.0" fill="#555" text-anchor="middle" font-weight="normal" >2012</text>
<path d="M574.68,180 V307.5" stroke="#e8e8e8" stroke-width="0.7"/>
<text x="574.68" y="313.7" font-size="4.0" fill="#555" text-anchor="middle" font-weight="normal" >2016</text>
<path d="M631.36,180 V307.5" stroke="#e8e8e8" stroke-width="0.7"/>
<text x="631.36" y="313.7" font-size="4.0" fill="#555" text-anchor="middle" font-weight="normal" >2020</text>
<text x="480.2" y="178.6" font-size="6.15" fill="#222">Average HDI Trajectories by Cluster</text>
<text x="582.3" y="320.2" font-size="5.6" fill="#222" text-anchor="middle" font-weight="bold" >Year</text>
<text transform="translate(471.4,244.6) rotate(-90)" font-size="5.4" fill="#222" text-anchor="middle" font-weight="bold">Mean HDI</text>
<polyline points="489.66,240.26 503.83,234.91 518,229.56 532.17,223.9 546.34,221.06 560.51,216.66 574.68,212.25 588.85,208.16 603.02,204.7 617.19,200.29 631.36,199.66 645.53,196.83 659.7,191.79 673.87,187.07" fill="none" stroke="#d9786c" stroke-width="1.25"/>
<circle cx="489.66" cy="240.26" r="1.1" fill="#d9786c"/>
<circle cx="503.83" cy="234.91" r="1.1" fill="#d9786c"/>
<circle cx="518" cy="229.56" r="1.1" fill="#d9786c"/>
<circle cx="532.17" cy="223.9" r="1.1" fill="#d9786c"/>
<circle cx="546.34" cy="221.06" r="1.1" fill="#d9786c"/>
<circle cx="560.51" cy="216.66" r="1.1" fill="#d9786c"/>
<circle cx="574.68" cy="212.25" r="1.1" fill="#d9786c"/>
<circle cx="588.85" cy="208.16" r="1.1" fill="#d9786c"/>
<circle cx="603.02" cy="204.7" r="1.1" fill="#d9786c"/>
<circle cx="617.19" cy="200.29" r="1.1" fill="#d9786c"/>
<circle cx="631.36" cy="199.66" r="1.1" fill="#d9786c"/>
<circle cx="645.53" cy="196.83" r="1.1" fill="#d9786c"/>
<circle cx="659.7" cy="191.79" r="1.1" fill="#d9786c"/>
<circle cx="673.87" cy="187.07" r="1.1" fill="#d9786c"/>
<polyline points="489.66,302.27 503.83,295.35 518,289.05 532.17,284.02 546.34,280.87 560.51,275.2 574.68,270.48 588.85,267.02 603.02,262.3 617.19,256.95 631.36,255.69 645.53,253.17 659.7,248.13 673.87,243.41" fill="none" stroke="#1aa6b0" stroke-width="1.25"/>
<circle cx="489.66" cy="302.27" r="1.1" fill="#1aa6b0"/>
<circle cx="503.83" cy="295.35" r="1.1" fill="#1aa6b0"/>
<circle cx="518" cy="289.05" r="1.1" fill="#1aa6b0"/>
<circle cx="532.17" cy="284.02" r="1.1" fill="#1aa6b0"/>
<circle cx="546.34" cy="280.87" r="1.1" fill="#1aa6b0"/>
<circle cx="560.51" cy="275.2" r="1.1" fill="#1aa6b0"/>
<circle cx="574.68" cy="270.48" r="1.1" fill="#1aa6b0"/>
<circle cx="588.85" cy="267.02" r="1.1" fill="#1aa6b0"/>
<circle cx="603.02" cy="262.3" r="1.1" fill="#1aa6b0"/>
<circle cx="617.19" cy="256.95" r="1.1" fill="#1aa6b0"/>
<circle cx="631.36" cy="255.69" r="1.1" fill="#1aa6b0"/>
<circle cx="645.53" cy="253.17" r="1.1" fill="#1aa6b0"/>
<circle cx="659.7" cy="248.13" r="1.1" fill="#1aa6b0"/>
<circle cx="673.87" cy="243.41" r="1.1" fill="#1aa6b0"/>
<text x="690.8" y="237.7" font-size="5.5" fill="#222" text-anchor="start" font-weight="normal" >Cluster</text>
<path d="M691.7,244.6 H698.7" stroke="#d9786c" stroke-width="1.1"/><circle cx="695.2" cy="244.6" r="0.9" fill="#d9786c"/>
<text x="702.3" y="246.4" font-size="5" fill="#333" text-anchor="start" font-weight="normal" >1</text>
<path d="M691.7,252.9 H698.7" stroke="#1aa6b0" stroke-width="1.1"/><circle cx="695.2" cy="252.9" r="0.9" fill="#1aa6b0"/>
<text x="702.3" y="254.7" font-size="5" fill="#333" text-anchor="start" font-weight="normal" >2</text>
<rect x="719" y="170" width="216.5" height="155" fill="#fff"/>
<text x="721.9" y="188.9" font-size="5.7" fill="#222">DTW Distance Heatmap Ordered by Clusters</text>
<rect x="721.9" y="191.7" width="5.14" height="3.7" fill="#efc0b2"/>
<rect x="726.74" y="191.7" width="5.14" height="3.7" fill="#c96957"/>
<rect x="731.58" y="191.7" width="5.14" height="3.7" fill="#f7d8cf"/>
<rect x="736.42" y="191.7" width="5.14" height="3.7" fill="#f7d8ce"/>
<rect x="741.26" y="191.7" width="5.14" height="3.7" fill="#f7d8ce"/>
<rect x="746.1" y="191.7" width="5.14" height="3.7" fill="#f7dad0"/>
<rect x="750.94" y="191.7" width="5.14" height="3.7" fill="#e7a999"/>
<rect x="755.78" y="191.7" width="5.14" height="3.7" fill="#e5a393"/>
<rect x="760.62" y="191.7" width="5.14" height="3.7" fill="#e6a797"/>
<rect x="765.46" y="191.7" width="5.14" height="3.7" fill="#cb6b59"/>
<rect x="770.29" y="191.7" width="5.14" height="3.7" fill="#f7d6cc"/>
<rect x="775.13" y="191.7" width="5.14" height="3.7" fill="#efbeb1"/>
<rect x="779.97" y="191.7" width="5.14" height="3.7" fill="#e5a393"/>
<rect x="784.81" y="191.7" width="5.14" height="3.7" fill="#ca6958"/>
<rect x="789.65" y="191.7" width="5.14" height="3.7" fill="#c96857"/>
<rect x="794.49" y="191.7" width="5.14" height="3.7" fill="#f0c0b3"/>
<rect x="799.33" y="191.7" width="5.14" height="3.7" fill="#fffdfd"/>
<rect x="804.17" y="191.7" width="5.14" height="3.7" fill="#fffdfc"/>
<rect x="809.01" y="191.7" width="5.14" height="3.7" fill="#fffefd"/>
<rect x="813.85" y="191.7" width="5.14" height="3.7" fill="#fefaf9"/>
<rect x="818.69" y="191.7" width="5.14" height="3.7" fill="#fefaf9"/>
<rect x="823.53" y="191.7" width="5.14" height="3.7" fill="#ffffff"/>
<rect x="828.37" y="191.7" width="5.14" height="3.7" fill="#fbede9"/>
<rect x="833.21" y="191.7" width="5.14" height="3.7" fill="#fffefd"/>
<rect x="838.05" y="191.7" width="5.14" height="3.7" fill="#fefcfb"/>
<rect x="842.89" y="191.7" width="5.14" height="3.7" fill="#fcefec"/>
<rect x="847.73" y="191.7" width="5.14" height="3.7" fill="#fdf4f1"/>
<rect x="852.57" y="191.7" width="5.14" height="3.7" fill="#fbeeea"/>
<rect x="857.41" y="191.7" width="5.14" height="3.7" fill="#fffdfd"/>
<rect x="862.24" y="191.7" width="5.14" height="3.7" fill="#fefaf9"/>
<rect x="867.08" y="191.7" width="5.14" height="3.7" fill="#fefaf9"/>
<rect x="871.92" y="191.7" width="5.14" height="3.7" fill="#fefaf8"/>
<rect x="876.76" y="191.7" width="5.14" height="3.7" fill="#fffefe"/>
<rect x="881.6" y="191.7" width="5.14" height="3.7" fill="#fffdfd"/>
<rect x="886.44" y="191.7" width="5.14" height="3.7" fill="#fae7e1"/>
<rect x="891.28" y="191.7" width="5.14" height="3.7" fill="#f8ded6"/>
<rect x="896.12" y="191.7" width="5.14" height="3.7" fill="#fdf3f1"/>
<rect x="900.96" y="191.7" width="5.14" height="3.7" fill="#ffffff"/>
<rect x="721.9" y="195.1" width="5.14" height="3.7" fill="#d77d6a"/>
<rect x="726.74" y="195.1" width="5.14" height="3.7" fill="#9a231a"/>
<rect x="731.58" y="195.1" width="5.14" height="3.7" fill="#e19a89"/>
<rect x="736.42" y="195.1" width="5.14" height="3.7" fill="#e29d8d"/>
<rect x="741.26" y="195.1" width="5.14" height="3.7" fill="#e29c8b"/>
<rect x="746.1" y="195.1" width="5.14" height="3.7" fill="#e39e8e"/>
<rect x="750.94" y="195.1" width="5.14" height="3.7" fill="#c36050"/>
<rect x="755.78" y="195.1" width="5.14" height="3.7" fill="#c46151"/>
<rect x="760.62" y="195.1" width="5.14" height="3.7" fill="#c46151"/>
<rect x="765.46" y="195.1" width="5.14" height="3.7" fill="#992018"/>
<rect x="770.29" y="195.1" width="5.14" height="3.7" fill="#e29d8c"/>
<rect x="775.13" y="195.1" width="5.14" height="3.7" fill="#d47865"/>
<rect x="779.97" y="195.1" width="5.14" height="3.7" fill="#c35f4f"/>
<rect x="784.81" y="195.1" width="5.14" height="3.7" fill="#971e16"/>
<rect x="789.65" y="195.1" width="5.14" height="3.7" fill="#971e17"/>
<rect x="794.49" y="195.1" width="5.14" height="3.7" fill="#d37864"/>
<rect x="799.33" y="195.1" width="5.14" height="3.7" fill="#fdf4f1"/>
<rect x="804.17" y="195.1" width="5.14" height="3.7" fill="#fcefeb"/>
<rect x="809.01" y="195.1" width="5.14" height="3.7" fill="#fbede8"/>
<rect x="813.85" y="195.1" width="5.14" height="3.7" fill="#f8ded6"/>
<rect x="818.69" y="195.1" width="5.14" height="3.7" fill="#f8ded6"/>
<rect x="823.53" y="195.1" width="5.14" height="3.7" fill="#fae7e1"/>
<rect x="828.37" y="195.1" width="5.14" height="3.7" fill="#fffdfd"/>
<rect x="833.21" y="195.1" width="5.14" height="3.7" fill="#fdf6f3"/>
<rect x="838.05" y="195.1" width="5.14" height="3.7" fill="#f8dfd7"/>
<rect x="842.89" y="195.1" width="5.14" height="3.7" fill="#fffefd"/>
<rect x="847.73" y="195.1" width="5.14" height="3.7" fill="#fffefe"/>
<rect x="852.57" y="195.1" width="5.14" height="3.7" fill="#ffffff"/>
<rect x="857.41" y="195.1" width="5.14" height="3.7" fill="#fdf4f1"/>
<rect x="862.24" y="195.1" width="5.14" height="3.7" fill="#f8ded6"/>
<rect x="867.08" y="195.1" width="5.14" height="3.7" fill="#f9e1da"/>
<rect x="871.92" y="195.1" width="5.14" height="3.7" fill="#f8dfd7"/>
<rect x="876.76" y="195.1" width="5.14" height="3.7" fill="#fae7e1"/>
<rect x="881.6" y="195.1" width="5.14" height="3.7" fill="#fae8e2"/>
<rect x="886.44" y="195.1" width="5.14" height="3.7" fill="#fffefe"/>
<rect x="891.28" y="195.1" width="5.14" height="3.7" fill="#fefaf9"/>
<rect x="896.12" y="195.1" width="5.14" height="3.7" fill="#fffdfc"/>
<rect x="900.96" y="195.1" width="5.14" height="3.7" fill="#fdf6f4"/>
<rect x="721.9" y="198.49" width="5.14" height="3.7" fill="#c96857"/>
<rect x="726.74" y="198.49" width="5.14" height="3.7" fill="#8f120c"/>
<rect x="731.58" y="198.49" width="5.14" height="3.7" fill="#db8b78"/>
<rect x="736.42" y="198.49" width="5.14" height="3.7" fill="#dc8d7b"/>
<rect x="741.26" y="198.49" width="5.14" height="3.7" fill="#db8a77"/>
<rect x="746.1" y="198.49" width="5.14" height="3.7" fill="#db8976"/>
<rect x="750.94" y="198.49" width="5.14" height="3.7" fill="#b84e40"/>
<rect x="755.78" y="198.49" width="5.14" height="3.7" fill="#b54b3d"/>
<rect x="760.62" y="198.49" width="5.14" height="3.7" fill="#b85041"/>
<rect x="765.46" y="198.49" width="5.14" height="3.7" fill="#8f110b"/>
<rect x="770.29" y="198.49" width="5.14" height="3.7" fill="#dc8b79"/>
<rect x="775.13" y="198.49" width="5.14" height="3.7" fill="#cc6c5a"/>
<rect x="779.97" y="198.49" width="5.14" height="3.7" fill="#b95042"/>
<rect x="784.81" y="198.49" width="5.14" height="3.7" fill="#8d0f09"/>
<rect x="789.65" y="198.49" width="5.14" height="3.7" fill="#8c0d08"/>
<rect x="794.49" y="198.49" width="5.14" height="3.7" fill="#cb6c5a"/>
<rect x="799.33" y="198.49" width="5.14" height="3.7" fill="#fcefec"/>
<rect x="804.17" y="198.49" width="5.14" height="3.7" fill="#fae6df"/>
<rect x="809.01" y="198.49" width="5.14" height="3.7" fill="#fae8e2"/>
<rect x="813.85" y="198.49" width="5.14" height="3.7" fill="#f7d7cd"/>
<rect x="818.69" y="198.49" width="5.14" height="3.7" fill="#f7d7cd"/>
<rect x="823.53" y="198.49" width="5.14" height="3.7" fill="#f9e0d9"/>
<rect x="828.37" y="198.49" width="5.14" height="3.7" fill="#fffefe"/>
<rect x="833.21" y="198.49" width="5.14" height="3.7" fill="#fbeeea"/>
<rect x="838.05" y="198.49" width="5.14" height="3.7" fill="#f7d8ce"/>
<rect x="842.89" y="198.49" width="5.14" height="3.7" fill="#fffefd"/>
<rect x="847.73" y="198.49" width="5.14" height="3.7" fill="#fefbfa"/>
<rect x="852.57" y="198.49" width="5.14" height="3.7" fill="#fffefd"/>
<rect x="857.41" y="198.49" width="5.14" height="3.7" fill="#fbece8"/>
<rect x="862.24" y="198.49" width="5.14" height="3.7" fill="#f7d8cf"/>
<rect x="867.08" y="198.49" width="5.14" height="3.7" fill="#f7d9cf"/>
<rect x="871.92" y="198.49" width="5.14" height="3.7" fill="#f7d8ce"/>
<rect x="876.76" y="198.49" width="5.14" height="3.7" fill="#f9e1d9"/>
<rect x="881.6" y="198.49" width="5.14" height="3.7" fill="#f9e1d9"/>
<rect x="886.44" y="198.49" width="5.14" height="3.7" fill="#fefdfc"/>
<rect x="891.28" y="198.49" width="5.14" height="3.7" fill="#fffefd"/>
<rect x="896.12" y="198.49" width="5.14" height="3.7" fill="#fefbfa"/>
<rect x="900.96" y="198.49" width="5.14" height="3.7" fill="#fcf0ec"/>
<rect x="721.9" y="201.89" width="5.14" height="3.7" fill="#efbfb1"/>
<rect x="726.74" y="201.89" width="5.14" height="3.7" fill="#c96957"/>
<rect x="731.58" y="201.89" width="5.14" height="3.7" fill="#f7dad0"/>
<rect x="736.42" y="201.89" width="5.14" height="3.7" fill="#f7d8ce"/>
<rect x="741.26" y="201.89" width="5.14" height="3.7" fill="#f7d8ce"/>
<rect x="746.1" y="201.89" width="5.14" height="3.7" fill="#f7dad0"/>
<rect x="750.94" y="201.89" width="5.14" height="3.7" fill="#e5a595"/>
<rect x="755.78" y="201.89" width="5.14" height="3.7" fill="#e6a696"/>
<rect x="760.62" y="201.89" width="5.14" height="3.7" fill="#e5a494"/>
<rect x="765.46" y="201.89" width="5.14" height="3.7" fill="#ca6a59"/>
<rect x="770.29" y="201.89" width="5.14" height="3.7" fill="#f7d7cd"/>
<rect x="775.13" y="201.89" width="5.14" height="3.7" fill="#eebdaf"/>
<rect x="779.97" y="201.89" width="5.14" height="3.7" fill="#e7a999"/>
<rect x="784.81" y="201.89" width="5.14" height="3.7" fill="#cc6c5a"/>
<rect x="789.65" y="201.89" width="5.14" height="3.7" fill="#c96857"/>
<rect x="794.49" y="201.89" width="5.14" height="3.7" fill="#eebbad"/>
<rect x="799.33" y="201.89" width="5.14" height="3.7" fill="#fffefe"/>
<rect x="804.17" y="201.89" width="5.14" height="3.7" fill="#fffefe"/>
<rect x="809.01" y="201.89" width="5.14" height="3.7" fill="#fffefd"/>
<rect x="813.85" y="201.89" width="5.14" height="3.7" fill="#fefbfb"/>
<rect x="818.69" y="201.89" width="5.14" height="3.7" fill="#fefbfa"/>
<rect x="823.53" y="201.89" width="5.14" height="3.7" fill="#fffefe"/>
<rect x="828.37" y="201.89" width="5.14" height="3.7" fill="#fceeea"/>
<rect x="833.21" y="201.89" width="5.14" height="3.7" fill="#fffefd"/>
<rect x="838.05" y="201.89" width="5.14" height="3.7" fill="#fefcfb"/>
<rect x="842.89" y="201.89" width="5.14" height="3.7" fill="#fceeea"/>
<rect x="847.73" y="201.89" width="5.14" height="3.7" fill="#fdf4f1"/>
<rect x="852.57" y="201.89" width="5.14" height="3.7" fill="#fcefec"/>
<rect x="857.41" y="201.89" width="5.14" height="3.7" fill="#fffefd"/>
<rect x="862.24" y="201.89" width="5.14" height="3.7" fill="#fefaf9"/>
<rect x="867.08" y="201.89" width="5.14" height="3.7" fill="#fefcfb"/>
<rect x="871.92" y="201.89" width="5.14" height="3.7" fill="#fefcfb"/>
<rect x="876.76" y="201.89" width="5.14" height="3.7" fill="#fffdfd"/>
<rect x="881.6" y="201.89" width="5.14" height="3.7" fill="#fffefe"/>
<rect x="886.44" y="201.89" width="5.14" height="3.7" fill="#fae8e2"/>
<rect x="891.28" y="201.89" width="5.14" height="3.7" fill="#f9e0d8"/>
<rect x="896.12" y="201.89" width="5.14" height="3.7" fill="#fdf4f1"/>
<rect x="900.96" y="201.89" width="5.14" height="3.7" fill="#ffffff"/>
<rect x="721.9" y="205.29" width="5.14" height="3.7" fill="#f7d9cf"/>
<rect x="726.74" y="205.29" width="5.14" height="3.7" fill="#dc8d7b"/>
<rect x="731.58" y="205.29" width="5.14" height="3.7" fill="#fae9e3"/>
<rect x="736.42" y="205.29" width="5.14" height="3.7" fill="#fbeae5"/>
<rect x="741.26" y="205.29" width="5.14" height="3.7" fill="#fae9e3"/>
<rect x="746.1" y="205.29" width="5.14" height="3.7" fill="#fbebe6"/>
<rect x="750.94" y="205.29" width="5.14" height="3.7" fill="#f2c7bb"/>
<rect x="755.78" y="205.29" width="5.14" height="3.7" fill="#f1c6b9"/>
<rect x="760.62" y="205.29" width="5.14" height="3.7" fill="#f1c4b7"/>
<rect x="765.46" y="205.29" width="5.14" height="3.7" fill="#dc8c7a"/>
<rect x="770.29" y="205.29" width="5.14" height="3.7" fill="#fbebe6"/>
<rect x="775.13" y="205.29" width="5.14" height="3.7" fill="#f7d9d0"/>
<rect x="779.97" y="205.29" width="5.14" height="3.7" fill="#f2c6b9"/>
<rect x="784.81" y="205.29" width="5.14" height="3.7" fill="#dd8e7c"/>
<rect x="789.65" y="205.29" width="5.14" height="3.7" fill="#db8a77"/>
<rect x="794.49" y="205.29" width="5.14" height="3.7" fill="#f7d7cd"/>
<rect x="799.33" y="205.29" width="5.14" height="3.7" fill="#fdf6f3"/>
<rect x="804.17" y="205.29" width="5.14" height="3.7" fill="#fefcfb"/>
<rect x="809.01" y="205.29" width="5.14" height="3.7" fill="#fefaf9"/>
<rect x="813.85" y="205.29" width="5.14" height="3.7" fill="#fffdfd"/>
<rect x="818.69" y="205.29" width="5.14" height="3.7" fill="#fffdfd"/>
<rect x="823.53" y="205.29" width="5.14" height="3.7" fill="#fffefe"/>
<rect x="828.37" y="205.29" width="5.14" height="3.7" fill="#f9e1da"/>
<rect x="833.21" y="205.29" width="5.14" height="3.7" fill="#fdf5f3"/>
<rect x="838.05" y="205.29" width="5.14" height="3.7" fill="#fffdfd"/>
<rect x="842.89" y="205.29" width="5.14" height="3.7" fill="#f9e1d9"/>
<rect x="847.73" y="205.29" width="5.14" height="3.7" fill="#fae7e2"/>
<rect x="852.57" y="205.29" width="5.14" height="3.7" fill="#f9e0d8"/>
<rect x="857.41" y="205.29" width="5.14" height="3.7" fill="#fdf5f2"/>
<rect x="862.24" y="205.29" width="5.14" height="3.7" fill="#fffefe"/>
<rect x="867.08" y="205.29" width="5.14" height="3.7" fill="#fffdfc"/>
<rect x="871.92" y="205.29" width="5.14" height="3.7" fill="#ffffff"/>
<rect x="876.76" y="205.29" width="5.14" height="3.7" fill="#ffffff"/>
<rect x="881.6" y="205.29" width="5.14" height="3.7" fill="#fffdfc"/>
<rect x="886.44" y="205.29" width="5.14" height="3.7" fill="#f7d7cd"/>
<rect x="891.28" y="205.29" width="5.14" height="3.7" fill="#f5cfc3"/>
<rect x="896.12" y="205.29" width="5.14" height="3.7" fill="#fae7e1"/>
<rect x="900.96" y="205.29" width="5.14" height="3.7" fill="#fdf3f0"/>
<rect x="721.9" y="208.69" width="5.14" height="3.7" fill="#f7d6cc"/>
<rect x="726.74" y="208.69" width="5.14" height="3.7" fill="#dd8e7c"/>
<rect x="731.58" y="208.69" width="5.14" height="3.7" fill="#fae9e4"/>
<rect x="736.42" y="208.69" width="5.14" height="3.7" fill="#fae9e3"/>
<rect x="741.26" y="208.69" width="5.14" height="3.7" fill="#fae9e4"/>
<rect x="746.1" y="208.69" width="5.14" height="3.7" fill="#fbeae4"/>
<rect x="750.94" y="208.69" width="5.14" height="3.7" fill="#f2c8bb"/>
<rect x="755.78" y="208.69" width="5.14" height="3.7" fill="#f2c7bb"/>
<rect x="760.62" y="208.69" width="5.14" height="3.7" fill="#f2c8bb"/>
<rect x="765.46" y="208.69" width="5.14" height="3.7" fill="#dd8f7d"/>
<rect x="770.29" y="208.69" width="5.14" height="3.7" fill="#fbeae4"/>
<rect x="775.13" y="208.69" width="5.14" height="3.7" fill="#f7d9cf"/>
<rect x="779.97" y="208.69" width="5.14" height="3.7" fill="#f1c5b7"/>
<rect x="784.81" y="208.69" width="5.14" height="3.7" fill="#dd8f7d"/>
<rect x="789.65" y="208.69" width="5.14" height="3.7" fill="#db8977"/>
<rect x="794.49" y="208.69" width="5.14" height="3.7" fill="#f7d7cd"/>
<rect x="799.33" y="208.69" width="5.14" height="3.7" fill="#fdf3f0"/>
<rect x="804.17" y="208.69" width="5.14" height="3.7" fill="#fefaf9"/>
<rect x="809.01" y="208.69" width="5.14" height="3.7" fill="#fefaf9"/>
<rect x="813.85" y="208.69" width="5.14" height="3.7" fill="#fffefd"/>
<rect x="818.69" y="208.69" width="5.14" height="3.7" fill="#ffffff"/>
<rect x="823.53" y="208.69" width="5.14" height="3.7" fill="#fffdfd"/>
<rect x="828.37" y="208.69" width="5.14" height="3.7" fill="#f9e1d9"/>
<rect x="833.21" y="208.69" width="5.14" height="3.7" fill="#fdf5f3"/>
<rect x="838.05" y="208.69" width="5.14" height="3.7" fill="#fffdfd"/>
<rect x="842.89" y="208.69" width="5.14" height="3.7" fill="#f8e0d8"/>
<rect x="847.73" y="208.69" width="5.14" height="3.7" fill="#fae7e1"/>
<rect x="852.57" y="208.69" width="5.14" height="3.7" fill="#f8ded6"/>
<rect x="857.41" y="208.69" width="5.14" height="3.7" fill="#fdf4f2"/>
<rect x="862.24" y="208.69" width="5.14" height="3.7" fill="#fffefe"/>
<rect x="867.08" y="208.69" width="5.14" height="3.7" fill="#fffefe"/>
<rect x="871.92" y="208.69" width="5.14" height="3.7" fill="#fffdfc"/>
<rect x="876.76" y="208.69" width="5.14" height="3.7" fill="#fffefe"/>
<rect x="881.6" y="208.69" width="5.14" height="3.7" fill="#fffdfd"/>
<rect x="886.44" y="208.69" width="5.14" height="3.7" fill="#f7d9d0"/>
<rect x="891.28" y="208.69" width="5.14" height="3.7" fill="#f6d2c7"/>
<rect x="896.12" y="208.69" width="5.14" height="3.7" fill="#fae7e1"/>
<rect x="900.96" y="208.69" width="5.14" height="3.7" fill="#fdf4f1"/>
<rect x="721.9" y="212.08" width="5.14" height="3.7" fill="#f7d9d0"/>
<rect x="726.74" y="212.08" width="5.14" height="3.7" fill="#db8a78"/>
<rect x="731.58" y="212.08" width="5.14" height="3.7" fill="#fae8e3"/>
<rect x="736.42" y="212.08" width="5.14" height="3.7" fill="#fae9e3"/>
<rect x="741.26" y="212.08" width="5.14" height="3.7" fill="#fae9e3"/>
<rect x="746.1" y="212.08" width="5.14" height="3.7" fill="#fbebe7"/>
<rect x="750.94" y="212.08" width="5.14" height="3.7" fill="#f2c6b9"/>
<rect x="755.78" y="212.08" width="5.14" height="3.7" fill="#f1c4b7"/>
<rect x="760.62" y="212.08" width="5.14" height="3.7" fill="#f3c9bd"/>
<rect x="765.46" y="212.08" width="5.14" height="3.7" fill="#dd8e7b"/>
<rect x="770.29" y="212.08" width="5.14" height="3.7" fill="#fbebe5"/>
<rect x="775.13" y="212.08" width="5.14" height="3.7" fill="#f7d8ce"/>
<rect x="779.97" y="212.08" width="5.14" height="3.7" fill="#f2c7ba"/>
<rect x="784.81" y="212.08" width="5.14" height="3.7" fill="#dc8c7a"/>
<rect x="789.65" y="212.08" width="5.14" height="3.7" fill="#db8a78"/>
<rect x="794.49" y="212.08" width="5.14" height="3.7" fill="#f7dad0"/>
<rect x="799.33" y="212.08" width="5.14" height="3.7" fill="#fdf6f4"/>
<rect x="804.17" y="212.08" width="5.14" height="3.7" fill="#fefcfb"/>
<rect x="809.01" y="212.08" width="5.14" height="3.7" fill="#fefcfb"/>
<rect x="813.85" y="212.08" width="5.14" height="3.7" fill="#ffffff"/>
<rect x="818.69" y="212.08" width="5.14" height="3.7" fill="#fefdfc"/>
<rect x="823.53" y="212.08" width="5.14" height="3.7" fill="#fffdfc"/>
<rect x="828.37" y="212.08" width="5.14" height="3.7" fill="#f9e1da"/>
<rect x="833.21" y="212.08" width="5.14" height="3.7" fill="#fdf5f2"/>
<rect x="838.05" y="212.08" width="5.14" height="3.7" fill="#fffefe"/>
<rect x="842.89" y="212.08" width="5.14" height="3.7" fill="#f9e0d9"/>
<rect x="847.73" y="212.08" width="5.14" height="3.7" fill="#fae7e2"/>
<rect x="852.57" y="212.08" width="5.14" height="3.7" fill="#f8dfd7"/>
<rect x="857.41" y="212.08" width="5.14" height="3.7" fill="#fdf4f2"/>
<rect x="862.24" y="212.08" width="5.14" height="3.7" fill="#fffefe"/>
<rect x="867.08" y="212.08" width="5.14" height="3.7" fill="#fffffe"/>
<rect x="871.92" y="212.08" width="5.14" height="3.7" fill="#fffefe"/>
<rect x="876.76" y="212.08" width="5.14" height="3.7" fill="#ffffff"/>
<rect x="881.6" y="212.08" width="5.14" height="3.7" fill="#fffefd"/>
<rect x="886.44" y="212.08" width="5.14" height="3.7" fill="#f7d8ce"/>
<rect x="891.28" y="212.08" width="5.14" height="3.7" fill="#f6d1c6"/>
<rect x="896.12" y="212.08" width="5.14" height="3.7" fill="#fae8e3"/>
<rect x="900.96" y="212.08" width="5.14" height="3.7" fill="#fdf6f3"/>
<rect x="721.9" y="215.48" width="5.14" height="3.7" fill="#f7d8cf"/>
<rect x="726.74" y="215.48" width="5.14" height="3.7" fill="#dc8b79"/>
<rect x="731.58" y="215.48" width="5.14" height="3.7" fill="#fae9e3"/>
<rect x="736.42" y="215.48" width="5.14" height="3.7" fill="#fbeae5"/>
<rect x="741.26" y="215.48" width="5.14" height="3.7" fill="#fae9e3"/>
<rect x="746.1" y="215.48" width="5.14" height="3.7" fill="#fbe9e4"/>
<rect x="750.94" y="215.48" width="5.14" height="3.7" fill="#f2c7ba"/>
<rect x="755.78" y="215.48" width="5.14" height="3.7" fill="#f2c7ba"/>
<rect x="760.62" y="215.48" width="5.14" height="3.7" fill="#f2c6ba"/>
<rect x="765.46" y="215.48" width="5.14" height="3.7" fill="#dc8b78"/>
<rect x="770.29" y="215.48" width="5.14" height="3.7" fill="#fbeae5"/>
<rect x="775.13" y="215.48" width="5.14" height="3.7" fill="#f7d7cd"/>
<rect x="779.97" y="215.48" width="5.14" height="3.7" fill="#f2c7ba"/>
<rect x="784.81" y="215.48" width="5.14" height="3.7" fill="#dd8e7c"/>
<rect x="789.65" y="215.48" width="5.14" height="3.7" fill="#dc8c79"/>
<rect x="794.49" y="215.48" width="5.14" height="3.7" fill="#f7d7cd"/>
<rect x="799.33" y="215.48" width="5.14" height="3.7" fill="#fdf6f4"/>
<rect x="804.17" y="215.48" width="5.14" height="3.7" fill="#fefbfa"/>
<rect x="809.01" y="215.48" width="5.14" height="3.7" fill="#fefbfa"/>
<rect x="813.85" y="215.48" width="5.14" height="3.7" fill="#fffdfc"/>
<rect x="818.69" y="215.48" width="5.14" height="3.7" fill="#fffdfc"/>
<rect x="823.53" y="215.48" width="5.14" height="3.7" fill="#fffefe"/>
<rect x="828.37" y="215.48" width="5.14" height="3.7" fill="#f8ded6"/>
<rect x="833.21" y="215.48" width="5.14" height="3.7" fill="#fdf4f1"/>
<rect x="838.05" y="215.48" width="5.14" height="3.7" fill="#fffefe"/>
<rect x="842.89" y="215.48" width="5.14" height="3.7" fill="#f9e0d8"/>
<rect x="847.73" y="215.48" width="5.14" height="3.7" fill="#fae8e3"/>
<rect x="852.57" y="215.48" width="5.14" height="3.7" fill="#f8dfd7"/>
<rect x="857.41" y="215.48" width="5.14" height="3.7" fill="#fdf4f1"/>
<rect x="862.24" y="215.48" width="5.14" height="3.7" fill="#fffdfc"/>
<rect x="867.08" y="215.48" width="5.14" height="3.7" fill="#fffdfd"/>
<rect x="871.92" y="215.48" width="5.14" height="3.7" fill="#fffdfd"/>
<rect x="876.76" y="215.48" width="5.14" height="3.7" fill="#fffdfd"/>
<rect x="881.6" y="215.48" width="5.14" height="3.7" fill="#fffefd"/>
<rect x="886.44" y="215.48" width="5.14" height="3.7" fill="#f7dad1"/>
<rect x="891.28" y="215.48" width="5.14" height="3.7" fill="#f5d1c5"/>
<rect x="896.12" y="215.48" width="5.14" height="3.7" fill="#fae9e3"/>
<rect x="900.96" y="215.48" width="5.14" height="3.7" fill="#fdf6f3"/>
<rect x="721.9" y="218.88" width="5.14" height="3.7" fill="#eebdaf"/>
<rect x="726.74" y="218.88" width="5.14" height="3.7" fill="#cc6c5a"/>
<rect x="731.58" y="218.88" width="5.14" height="3.7" fill="#f7d9d0"/>
<rect x="736.42" y="218.88" width="5.14" height="3.7" fill="#f7d9d0"/>
<rect x="741.26" y="218.88" width="5.14" height="3.7" fill="#f7d7cd"/>
<rect x="746.1" y="218.88" width="5.14" height="3.7" fill="#f7d9d0"/>
<rect x="750.94" y="218.88" width="5.14" height="3.7" fill="#e7a999"/>
<rect x="755.78" y="218.88" width="5.14" height="3.7" fill="#e5a393"/>
<rect x="760.62" y="218.88" width="5.14" height="3.7" fill="#e6a898"/>
<rect x="765.46" y="218.88" width="5.14" height="3.7" fill="#c86756"/>
<rect x="770.29" y="218.88" width="5.14" height="3.7" fill="#f7d7cd"/>
<rect x="775.13" y="218.88" width="5.14" height="3.7" fill="#eebcae"/>
<rect x="779.97" y="218.88" width="5.14" height="3.7" fill="#e4a392"/>
<rect x="784.81" y="218.88" width="5.14" height="3.7" fill="#c96957"/>
<rect x="789.65" y="218.88" width="5.14" height="3.7" fill="#c86756"/>
<rect x="794.49" y="218.88" width="5.14" height="3.7" fill="#f0c1b4"/>
<rect x="799.33" y="218.88" width="5.14" height="3.7" fill="#fffdfd"/>
<rect x="804.17" y="218.88" width="5.14" height="3.7" fill="#fffefe"/>
<rect x="809.01" y="218.88" width="5.14" height="3.7" fill="#fffdfd"/>
<rect x="813.85" y="218.88" width="5.14" height="3.7" fill="#fefcfb"/>
<rect x="818.69" y="218.88" width="5.14" height="3.7" fill="#fefaf9"/>
<rect x="823.53" y="218.88" width="5.14" height="3.7" fill="#fffdfc"/>
<rect x="828.37" y="218.88" width="5.14" height="3.7" fill="#fcefeb"/>
<rect x="833.21" y="218.88" width="5.14" height="3.7" fill="#fffefe"/>
<rect x="838.05" y="218.88" width="5.14" height="3.7" fill="#fefbfa"/>
<rect x="842.89" y="218.88" width="5.14" height="3.7" fill="#fbede8"/>
<rect x="847.73" y="218.88" width="5.14" height="3.7" fill="#fdf5f3"/>
<rect x="852.57" y="218.88" width="5.14" height="3.7" fill="#fcefeb"/>
<rect x="857.41" y="218.88" width="5.14" height="3.7" fill="#fffefe"/>
<rect x="862.24" y="218.88" width="5.14" height="3.7" fill="#fefbfa"/>
<rect x="867.08" y="218.88" width="5.14" height="3.7" fill="#fefaf9"/>
<rect x="871.92" y="218.88" width="5.14" height="3.7" fill="#fefbfa"/>
<rect x="876.76" y="218.88" width="5.14" height="3.7" fill="#fffefe"/>
<rect x="881.6" y="218.88" width="5.14" height="3.7" fill="#fffefe"/>
<rect x="886.44" y="218.88" width="5.14" height="3.7" fill="#fae7e2"/>
<rect x="891.28" y="218.88" width="5.14" height="3.7" fill="#f9e0d8"/>
<rect x="896.12" y="218.88" width="5.14" height="3.7" fill="#fdf6f4"/>
<rect x="900.96" y="218.88" width="5.14" height="3.7" fill="#fffefe"/>
<rect x="721.9" y="222.28" width="5.14" height="3.7" fill="#db8976"/>
<rect x="726.74" y="222.28" width="5.14" height="3.7" fill="#a63429"/>
<rect x="731.58" y="222.28" width="5.14" height="3.7" fill="#e8ac9d"/>
<rect x="736.42" y="222.28" width="5.14" height="3.7" fill="#e9b0a1"/>
<rect x="741.26" y="222.28" width="5.14" height="3.7" fill="#e8ad9d"/>
<rect x="746.1" y="222.28" width="5.14" height="3.7" fill="#e8ac9d"/>
<rect x="750.94" y="222.28" width="5.14" height="3.7" fill="#cf715e"/>
<rect x="755.78" y="222.28" width="5.14" height="3.7" fill="#cf725f"/>
<rect x="760.62" y="222.28" width="5.14" height="3.7" fill="#d07260"/>
<rect x="765.46" y="222.28" width="5.14" height="3.7" fill="#a53228"/>
<rect x="770.29" y="222.28" width="5.14" height="3.7" fill="#e8ab9c"/>
<rect x="775.13" y="222.28" width="5.14" height="3.7" fill="#dd8e7c"/>
<rect x="779.97" y="222.28" width="5.14" height="3.7" fill="#d17562"/>
<rect x="784.81" y="222.28" width="5.14" height="3.7" fill="#a43127"/>
<rect x="789.65" y="222.28" width="5.14" height="3.7" fill="#a33026"/>
<rect x="794.49" y="222.28" width="5.14" height="3.7" fill="#dc8c7a"/>
<rect x="799.33" y="222.28" width="5.14" height="3.7" fill="#fefbfa"/>
<rect x="804.17" y="222.28" width="5.14" height="3.7" fill="#fdf4f1"/>
<rect x="809.01" y="222.28" width="5.14" height="3.7" fill="#fdf6f3"/>
<rect x="813.85" y="222.28" width="5.14" height="3.7" fill="#fae8e2"/>
<rect x="818.69" y="222.28" width="5.14" height="3.7" fill="#fae8e2"/>
<rect x="823.53" y="222.28" width="5.14" height="3.7" fill="#fbeee9"/>
<rect x="828.37" y="222.28" width="5.14" height="3.7" fill="#fffefe"/>
<rect x="833.21" y="222.28" width="5.14" height="3.7" fill="#fefcfb"/>
<rect x="838.05" y="222.28" width="5.14" height="3.7" fill="#fae6e0"/>
<rect x="842.89" y="222.28" width="5.14" height="3.7" fill="#fffdfc"/>
<rect x="847.73" y="222.28" width="5.14" height="3.7" fill="#fffefe"/>
<rect x="852.57" y="222.28" width="5.14" height="3.7" fill="#fffdfd"/>
<rect x="857.41" y="222.28" width="5.14" height="3.7" fill="#fefbfa"/>
<rect x="862.24" y="222.28" width="5.14" height="3.7" fill="#fae6df"/>
<rect x="867.08" y="222.28" width="5.14" height="3.7" fill="#fae7e1"/>
<rect x="871.92" y="222.28" width="5.14" height="3.7" fill="#fae8e2"/>
<rect x="876.76" y="222.28" width="5.14" height="3.7" fill="#fcefeb"/>
<rect x="881.6" y="222.28" width="5.14" height="3.7" fill="#fcefec"/>
<rect x="886.44" y="222.28" width="5.14" height="3.7" fill="#fefbfa"/>
<rect x="891.28" y="222.28" width="5.14" height="3.7" fill="#fdf5f3"/>
<rect x="896.12" y="222.28" width="5.14" height="3.7" fill="#ffffff"/>
<rect x="900.96" y="222.28" width="5.14" height="3.7" fill="#fefbfa"/>
<rect x="721.9" y="225.67" width="5.14" height="3.7" fill="#dc8d7b"/>
<rect x="726.74" y="225.67" width="5.14" height="3.7" fill="#a43127"/>
<rect x="731.58" y="225.67" width="5.14" height="3.7" fill="#e9b0a1"/>
<rect x="736.42" y="225.67" width="5.14" height="3.7" fill="#e7ab9b"/>
<rect x="741.26" y="225.67" width="5.14" height="3.7" fill="#e9ae9f"/>
<rect x="746.1" y="225.67" width="5.14" height="3.7" fill="#e8ad9e"/>
<rect x="750.94" y="225.67" width="5.14" height="3.7" fill="#d07260"/>
<rect x="755.78" y="225.67" width="5.14" height="3.7" fill="#ce705d"/>
<rect x="760.62" y="225.67" width="5.14" height="3.7" fill="#ce705e"/>
<rect x="765.46" y="225.67" width="5.14" height="3.7" fill="#a53328"/>
<rect x="770.29" y="225.67" width="5.14" height="3.7" fill="#e9ae9f"/>
<rect x="775.13" y="225.67" width="5.14" height="3.7" fill="#db8b78"/>
<rect x="779.97" y="225.67" width="5.14" height="3.7" fill="#ce705d"/>
<rect x="784.81" y="225.67" width="5.14" height="3.7" fill="#a63429"/>
<rect x="789.65" y="225.67" width="5.14" height="3.7" fill="#a43127"/>
<rect x="794.49" y="225.67" width="5.14" height="3.7" fill="#db8976"/>
<rect x="799.33" y="225.67" width="5.14" height="3.7" fill="#fefbfa"/>
<rect x="804.17" y="225.67" width="5.14" height="3.7" fill="#fdf5f3"/>
<rect x="809.01" y="225.67" width="5.14" height="3.7" fill="#fdf5f3"/>
<rect x="813.85" y="225.67" width="5.14" height="3.7" fill="#fae6e0"/>
<rect x="818.69" y="225.67" width="5.14" height="3.7" fill="#fae6e0"/>
<rect x="823.53" y="225.67" width="5.14" height="3.7" fill="#fbece8"/>
<rect x="828.37" y="225.67" width="5.14" height="3.7" fill="#fffdfc"/>
<rect x="833.21" y="225.67" width="5.14" height="3.7" fill="#fefcfb"/>
<rect x="838.05" y="225.67" width="5.14" height="3.7" fill="#fae8e2"/>
<rect x="842.89" y="225.67" width="5.14" height="3.7" fill="#fffefe"/>
<rect x="847.73" y="225.67" width="5.14" height="3.7" fill="#ffffff"/>
<rect x="852.57" y="225.67" width="5.14" height="3.7" fill="#fffdfd"/>
<rect x="857.41" y="225.67" width="5.14" height="3.7" fill="#fefaf9"/>
<rect x="862.24" y="225.67" width="5.14" height="3.7" fill="#fae6df"/>
<rect x="867.08" y="225.67" width="5.14" height="3.7" fill="#fae8e2"/>
<rect x="871.92" y="225.67" width="5.14" height="3.7" fill="#fae6df"/>
<rect x="876.76" y="225.67" width="5.14" height="3.7" fill="#fcefea"/>
<rect x="881.6" y="225.67" width="5.14" height="3.7" fill="#fbeeea"/>
<rect x="886.44" y="225.67" width="5.14" height="3.7" fill="#fefaf9"/>
<rect x="891.28" y="225.67" width="5.14" height="3.7" fill="#fdf6f4"/>
<rect x="896.12" y="225.67" width="5.14" height="3.7" fill="#ffffff"/>
<rect x="900.96" y="225.67" width="5.14" height="3.7" fill="#fefaf9"/>
<rect x="721.9" y="229.07" width="5.14" height="3.7" fill="#efc0b2"/>
<rect x="726.74" y="229.07" width="5.14" height="3.7" fill="#ca6a59"/>
<rect x="731.58" y="229.07" width="5.14" height="3.7" fill="#f7d8ce"/>
<rect x="736.42" y="229.07" width="5.14" height="3.7" fill="#f7d7cd"/>
<rect x="741.26" y="229.07" width="5.14" height="3.7" fill="#f7dad0"/>
<rect x="746.1" y="229.07" width="5.14" height="3.7" fill="#f7d9cf"/>
<rect x="750.94" y="229.07" width="5.14" height="3.7" fill="#e6a696"/>
<rect x="755.78" y="229.07" width="5.14" height="3.7" fill="#e6a696"/>
<rect x="760.62" y="229.07" width="5.14" height="3.7" fill="#e6a797"/>
<rect x="765.46" y="229.07" width="5.14" height="3.7" fill="#c96957"/>
<rect x="770.29" y="229.07" width="5.14" height="3.7" fill="#f7d6cc"/>
<rect x="775.13" y="229.07" width="5.14" height="3.7" fill="#efbfb1"/>
<rect x="779.97" y="229.07" width="5.14" height="3.7" fill="#e5a595"/>
<rect x="784.81" y="229.07" width="5.14" height="3.7" fill="#cb6c5a"/>
<rect x="789.65" y="229.07" width="5.14" height="3.7" fill="#cb6b59"/>
<rect x="794.49" y="229.07" width="5.14" height="3.7" fill="#eebdb0"/>
<rect x="799.33" y="229.07" width="5.14" height="3.7" fill="#ffffff"/>
<rect x="804.17" y="229.07" width="5.14" height="3.7" fill="#fffdfc"/>
<rect x="809.01" y="229.07" width="5.14" height="3.7" fill="#fffdfc"/>
<rect x="813.85" y="229.07" width="5.14" height="3.7" fill="#fefcfb"/>
<rect x="818.69" y="229.07" width="5.14" height="3.7" fill="#fefaf8"/>
<rect x="823.53" y="229.07" width="5.14" height="3.7" fill="#fffefe"/>
<rect x="828.37" y="229.07" width="5.14" height="3.7" fill="#fbede9"/>
<rect x="833.21" y="229.07" width="5.14" height="3.7" fill="#fffdfd"/>
<rect x="838.05" y="229.07" width="5.14" height="3.7" fill="#fefcfb"/>
<rect x="842.89" y="229.07" width="5.14" height="3.7" fill="#fbede9"/>
<rect x="847.73" y="229.07" width="5.14" height="3.7" fill="#fdf4f1"/>
<rect x="852.57" y="229.07" width="5.14" height="3.7" fill="#fbede8"/>
<rect x="857.41" y="229.07" width="5.14" height="3.7" fill="#fffefe"/>
<rect x="862.24" y="229.07" width="5.14" height="3.7" fill="#fefaf9"/>
<rect x="867.08" y="229.07" width="5.14" height="3.7" fill="#fefaf8"/>
<rect x="871.92" y="229.07" width="5.14" height="3.7" fill="#fefaf9"/>
<rect x="876.76" y="229.07" width="5.14" height="3.7" fill="#fffefd"/>
<rect x="881.6" y="229.07" width="5.14" height="3.7" fill="#ffffff"/>
<rect x="886.44" y="229.07" width="5.14" height="3.7" fill="#fae7e1"/>
<rect x="891.28" y="229.07" width="5.14" height="3.7" fill="#f9e0d9"/>
<rect x="896.12" y="229.07" width="5.14" height="3.7" fill="#fdf4f1"/>
<rect x="900.96" y="229.07" width="5.14" height="3.7" fill="#fffdfd"/>
<rect x="721.9" y="232.47" width="5.14" height="3.7" fill="#f7d8ce"/>
<rect x="726.74" y="232.47" width="5.14" height="3.7" fill="#dd8e7c"/>
<rect x="731.58" y="232.47" width="5.14" height="3.7" fill="#fae9e4"/>
<rect x="736.42" y="232.47" width="5.14" height="3.7" fill="#fae9e4"/>
<rect x="741.26" y="232.47" width="5.14" height="3.7" fill="#fbebe6"/>
<rect x="746.1" y="232.47" width="5.14" height="3.7" fill="#fae9e3"/>
<rect x="750.94" y="232.47" width="5.14" height="3.7" fill="#f1c5b9"/>
<rect x="755.78" y="232.47" width="5.14" height="3.7" fill="#f3c9bc"/>
<rect x="760.62" y="232.47" width="5.14" height="3.7" fill="#f1c4b7"/>
<rect x="765.46" y="232.47" width="5.14" height="3.7" fill="#dd8e7c"/>
<rect x="770.29" y="232.47" width="5.14" height="3.7" fill="#fbeae5"/>
<rect x="775.13" y="232.47" width="5.14" height="3.7" fill="#f7d7cd"/>
<rect x="779.97" y="232.47" width="5.14" height="3.7" fill="#f2c6b9"/>
<rect x="784.81" y="232.47" width="5.14" height="3.7" fill="#dc8c79"/>
<rect x="789.65" y="232.47" width="5.14" height="3.7" fill="#dc8b79"/>
<rect x="794.49" y="232.47" width="5.14" height="3.7" fill="#f7d8ce"/>
<rect x="799.33" y="232.47" width="5.14" height="3.7" fill="#fdf5f3"/>
<rect x="804.17" y="232.47" width="5.14" height="3.7" fill="#fefcfb"/>
<rect x="809.01" y="232.47" width="5.14" height="3.7" fill="#fefcfb"/>
<rect x="813.85" y="232.47" width="5.14" height="3.7" fill="#fffdfd"/>
<rect x="818.69" y="232.47" width="5.14" height="3.7" fill="#fffdfd"/>
<rect x="823.53" y="232.47" width="5.14" height="3.7" fill="#fffefd"/>
<rect x="828.37" y="232.47" width="5.14" height="3.7" fill="#f8dfd7"/>
<rect x="833.21" y="232.47" width="5.14" height="3.7" fill="#fdf5f3"/>
<rect x="838.05" y="232.47" width="5.14" height="3.7" fill="#fffefe"/>
<rect x="842.89" y="232.47" width="5.14" height="3.7" fill="#f9e0d9"/>
<rect x="847.73" y="232.47" width="5.14" height="3.7" fill="#fae6df"/>
<rect x="852.57" y="232.47" width="5.14" height="3.7" fill="#f9e1da"/>
<rect x="857.41" y="232.47" width="5.14" height="3.7" fill="#fdf5f2"/>
<rect x="862.24" y="232.47" width="5.14" height="3.7" fill="#fffefe"/>
<rect x="867.08" y="232.47" width="5.14" height="3.7" fill="#fffdfd"/>
<rect x="871.92" y="232.47" width="5.14" height="3.7" fill="#fffefe"/>
<rect x="876.76" y="232.47" width="5.14" height="3.7" fill="#fffefe"/>
<rect x="881.6" y="232.47" width="5.14" height="3.7" fill="#fffefe"/>
<rect x="886.44" y="232.47" width="5.14" height="3.7" fill="#f7d8cf"/>
<rect x="891.28" y="232.47" width="5.14" height="3.7" fill="#f5d0c4"/>
<rect x="896.12" y="232.47" width="5.14" height="3.7" fill="#fae7e2"/>
<rect x="900.96" y="232.47" width="5.14" height="3.7" fill="#fdf4f1"/>
<rect x="721.9" y="235.87" width="5.14" height="3.7" fill="#f0c1b3"/>
<rect x="726.74" y="235.87" width="5.14" height="3.7" fill="#cb6b59"/>
<rect x="731.58" y="235.87" width="5.14" height="3.7" fill="#f7d9d0"/>
<rect x="736.42" y="235.87" width="5.14" height="3.7" fill="#f7d9d0"/>
<rect x="741.26" y="235.87" width="5.14" height="3.7" fill="#f7d7cd"/>
<rect x="746.1" y="235.87" width="5.14" height="3.7" fill="#f7d7cd"/>
<rect x="750.94" y="235.87" width="5.14" height="3.7" fill="#e6a798"/>
<rect x="755.78" y="235.87" width="5.14" height="3.7" fill="#e6a798"/>
<rect x="760.62" y="235.87" width="5.14" height="3.7" fill="#e6a696"/>
<rect x="765.46" y="235.87" width="5.14" height="3.7" fill="#c86856"/>
<rect x="770.29" y="235.87" width="5.14" height="3.7" fill="#f7d7cd"/>
<rect x="775.13" y="235.87" width="5.14" height="3.7" fill="#eebdaf"/>
<rect x="779.97" y="235.87" width="5.14" height="3.7" fill="#e5a595"/>
<rect x="784.81" y="235.87" width="5.14" height="3.7" fill="#cb6c5a"/>
<rect x="789.65" y="235.87" width="5.14" height="3.7" fill="#ca6a58"/>
<rect x="794.49" y="235.87" width="5.14" height="3.7" fill="#efc0b3"/>
<rect x="799.33" y="235.87" width="5.14" height="3.7" fill="#fffefd"/>
<rect x="804.17" y="235.87" width="5.14" height="3.7" fill="#fffefd"/>
<rect x="809.01" y="235.87" width="5.14" height="3.7" fill="#fffffe"/>
<rect x="813.85" y="235.87" width="5.14" height="3.7" fill="#fefcfb"/>
<rect x="818.69" y="235.87" width="5.14" height="3.7" fill="#fefaf9"/>
<rect x="823.53" y="235.87" width="5.14" height="3.7" fill="#ffffff"/>
<rect x="828.37" y="235.87" width="5.14" height="3.7" fill="#fbede8"/>
<rect x="833.21" y="235.87" width="5.14" height="3.7" fill="#fffdfc"/>
<rect x="838.05" y="235.87" width="5.14" height="3.7" fill="#fefaf8"/>
<rect x="842.89" y="235.87" width="5.14" height="3.7" fill="#fceeea"/>
<rect x="847.73" y="235.87" width="5.14" height="3.7" fill="#fdf4f2"/>
<rect x="852.57" y="235.87" width="5.14" height="3.7" fill="#fbeee9"/>
<rect x="857.41" y="235.87" width="5.14" height="3.7" fill="#fffdfd"/>
<rect x="862.24" y="235.87" width="5.14" height="3.7" fill="#fefaf8"/>
<rect x="867.08" y="235.87" width="5.14" height="3.7" fill="#fefaf9"/>
<rect x="871.92" y="235.87" width="5.14" height="3.7" fill="#fefcfb"/>
<rect x="876.76" y="235.87" width="5.14" height="3.7" fill="#fffdfc"/>
<rect x="881.6" y="235.87" width="5.14" height="3.7" fill="#fffefe"/>
<rect x="886.44" y="235.87" width="5.14" height="3.7" fill="#fae7e1"/>
<rect x="891.28" y="235.87" width="5.14" height="3.7" fill="#f8dfd7"/>
<rect x="896.12" y="235.87" width="5.14" height="3.7" fill="#fdf6f4"/>
<rect x="900.96" y="235.87" width="5.14" height="3.7" fill="#fffdfd"/>
<rect x="721.9" y="239.26" width="5.14" height="3.7" fill="#cf715e"/>
<rect x="726.74" y="239.26" width="5.14" height="3.7" fill="#931811"/>
<rect x="731.58" y="239.26" width="5.14" height="3.7" fill="#df9483"/>
<rect x="736.42" y="239.26" width="5.14" height="3.7" fill="#df9583"/>
<rect x="741.26" y="239.26" width="5.14" height="3.7" fill="#e09785"/>
<rect x="746.1" y="239.26" width="5.14" height="3.7" fill="#df9483"/>
<rect x="750.94" y="239.26" width="5.14" height="3.7" fill="#c05b4b"/>
<rect x="755.78" y="239.26" width="5.14" height="3.7" fill="#be5748"/>
<rect x="760.62" y="239.26" width="5.14" height="3.7" fill="#bd5647"/>
<rect x="765.46" y="239.26" width="5.14" height="3.7" fill="#931811"/>
<rect x="770.29" y="239.26" width="5.14" height="3.7" fill="#df9483"/>
<rect x="775.13" y="239.26" width="5.14" height="3.7" fill="#cd6f5d"/>
<rect x="779.97" y="239.26" width="5.14" height="3.7" fill="#bc5546"/>
<rect x="784.81" y="239.26" width="5.14" height="3.7" fill="#951a13"/>
<rect x="789.65" y="239.26" width="5.14" height="3.7" fill="#92150f"/>
<rect x="794.49" y="239.26" width="5.14" height="3.7" fill="#cf715f"/>
<rect x="799.33" y="239.26" width="5.14" height="3.7" fill="#fcf3f0"/>
<rect x="804.17" y="239.26" width="5.14" height="3.7" fill="#fbebe6"/>
<rect x="809.01" y="239.26" width="5.14" height="3.7" fill="#fbebe6"/>
<rect x="813.85" y="239.26" width="5.14" height="3.7" fill="#f8ded5"/>
<rect x="818.69" y="239.26" width="5.14" height="3.7" fill="#f8dcd3"/>
<rect x="823.53" y="239.26" width="5.14" height="3.7" fill="#f9e2db"/>
<rect x="828.37" y="239.26" width="5.14" height="3.7" fill="#fffefe"/>
<rect x="833.21" y="239.26" width="5.14" height="3.7" fill="#fcf0ec"/>
<rect x="838.05" y="239.26" width="5.14" height="3.7" fill="#f8dbd3"/>
<rect x="842.89" y="239.26" width="5.14" height="3.7" fill="#ffffff"/>
<rect x="847.73" y="239.26" width="5.14" height="3.7" fill="#fffdfc"/>
<rect x="852.57" y="239.26" width="5.14" height="3.7" fill="#fffefd"/>
<rect x="857.41" y="239.26" width="5.14" height="3.7" fill="#fcf0ec"/>
<rect x="862.24" y="239.26" width="5.14" height="3.7" fill="#f8dbd3"/>
<rect x="867.08" y="239.26" width="5.14" height="3.7" fill="#f8dbd2"/>
<rect x="871.92" y="239.26" width="5.14" height="3.7" fill="#f8ddd4"/>
<rect x="876.76" y="239.26" width="5.14" height="3.7" fill="#f9e2db"/>
<rect x="881.6" y="239.26" width="5.14" height="3.7" fill="#f9e2db"/>
<rect x="886.44" y="239.26" width="5.14" height="3.7" fill="#fffdfc"/>
<rect x="891.28" y="239.26" width="5.14" height="3.7" fill="#fffefe"/>
<rect x="896.12" y="239.26" width="5.14" height="3.7" fill="#fffdfd"/>
<rect x="900.96" y="239.26" width="5.14" height="3.7" fill="#fcf1ee"/>
<rect x="721.9" y="242.66" width="5.14" height="3.7" fill="#e6a898"/>
<rect x="726.74" y="242.66" width="5.14" height="3.7" fill="#ba5143"/>
<rect x="731.58" y="242.66" width="5.14" height="3.7" fill="#f3c9bd"/>
<rect x="736.42" y="242.66" width="5.14" height="3.7" fill="#f3c8bc"/>
<rect x="741.26" y="242.66" width="5.14" height="3.7" fill="#f3c9bc"/>
<rect x="746.1" y="242.66" width="5.14" height="3.7" fill="#f2c6ba"/>
<rect x="750.94" y="242.66" width="5.14" height="3.7" fill="#dc8b78"/>
<rect x="755.78" y="242.66" width="5.14" height="3.7" fill="#dc8c79"/>
<rect x="760.62" y="242.66" width="5.14" height="3.7" fill="#dc8d7a"/>
<rect x="765.46" y="242.66" width="5.14" height="3.7" fill="#b74d3f"/>
<rect x="770.29" y="242.66" width="5.14" height="3.7" fill="#f2c8bb"/>
<rect x="775.13" y="242.66" width="5.14" height="3.7" fill="#e6a696"/>
<rect x="779.97" y="242.66" width="5.14" height="3.7" fill="#db8a78"/>
<rect x="784.81" y="242.66" width="5.14" height="3.7" fill="#b84f41"/>
<rect x="789.65" y="242.66" width="5.14" height="3.7" fill="#b95142"/>
<rect x="794.49" y="242.66" width="5.14" height="3.7" fill="#e5a393"/>
<rect x="799.33" y="242.66" width="5.14" height="3.7" fill="#fffdfd"/>
<rect x="804.17" y="242.66" width="5.14" height="3.7" fill="#fffefe"/>
<rect x="809.01" y="242.66" width="5.14" height="3.7" fill="#fffefe"/>
<rect x="813.85" y="242.66" width="5.14" height="3.7" fill="#fcf1ee"/>
<rect x="818.69" y="242.66" width="5.14" height="3.7" fill="#fcf1ee"/>
<rect x="823.53" y="242.66" width="5.14" height="3.7" fill="#fef9f7"/>
<rect x="828.37" y="242.66" width="5.14" height="3.7" fill="#fef9f8"/>
<rect x="833.21" y="242.66" width="5.14" height="3.7" fill="#fffffe"/>
<rect x="838.05" y="242.66" width="5.14" height="3.7" fill="#fcf0ed"/>
<rect x="842.89" y="242.66" width="5.14" height="3.7" fill="#fef9f7"/>
<rect x="847.73" y="242.66" width="5.14" height="3.7" fill="#fffefe"/>
<rect x="852.57" y="242.66" width="5.14" height="3.7" fill="#fef9f7"/>
<rect x="857.41" y="242.66" width="5.14" height="3.7" fill="#fffffe"/>
<rect x="862.24" y="242.66" width="5.14" height="3.7" fill="#fcf2ef"/>
<rect x="867.08" y="242.66" width="5.14" height="3.7" fill="#fcf2ee"/>
<rect x="871.92" y="242.66" width="5.14" height="3.7" fill="#fcf2ef"/>
<rect x="876.76" y="242.66" width="5.14" height="3.7" fill="#fef9f8"/>
<rect x="881.6" y="242.66" width="5.14" height="3.7" fill="#fef9f8"/>
<rect x="886.44" y="242.66" width="5.14" height="3.7" fill="#fcf2ef"/>
<rect x="891.28" y="242.66" width="5.14" height="3.7" fill="#fbebe5"/>
<rect x="896.12" y="242.66" width="5.14" height="3.7" fill="#ffffff"/>
<rect x="900.96" y="242.66" width="5.14" height="3.7" fill="#ffffff"/>
<rect x="721.9" y="246.06" width="5.14" height="3.7" fill="#f7d8ce"/>
<rect x="726.74" y="246.06" width="5.14" height="3.7" fill="#dc8d7a"/>
<rect x="731.58" y="246.06" width="5.14" height="3.7" fill="#fae9e4"/>
<rect x="736.42" y="246.06" width="5.14" height="3.7" fill="#fbebe6"/>
<rect x="741.26" y="246.06" width="5.14" height="3.7" fill="#fbeae5"/>
<rect x="746.1" y="246.06" width="5.14" height="3.7" fill="#fbeae5"/>
<rect x="750.94" y="246.06" width="5.14" height="3.7" fill="#f3c9bd"/>
<rect x="755.78" y="246.06" width="5.14" height="3.7" fill="#f1c4b6"/>
<rect x="760.62" y="246.06" width="5.14" height="3.7" fill="#f2c8bc"/>
<rect x="765.46" y="246.06" width="5.14" height="3.7" fill="#dd8f7d"/>
<rect x="770.29" y="246.06" width="5.14" height="3.7" fill="#fbeae5"/>
<rect x="775.13" y="246.06" width="5.14" height="3.7" fill="#f7d9d0"/>
<rect x="779.97" y="246.06" width="5.14" height="3.7" fill="#f2c6b9"/>
<rect x="784.81" y="246.06" width="5.14" height="3.7" fill="#dc8d7b"/>
<rect x="789.65" y="246.06" width="5.14" height="3.7" fill="#dd8f7c"/>
<rect x="794.49" y="246.06" width="5.14" height="3.7" fill="#f7dad0"/>
<rect x="799.33" y="246.06" width="5.14" height="3.7" fill="#fdf4f1"/>
<rect x="804.17" y="246.06" width="5.14" height="3.7" fill="#fefcfb"/>
<rect x="809.01" y="246.06" width="5.14" height="3.7" fill="#fefaf9"/>
<rect x="813.85" y="246.06" width="5.14" height="3.7" fill="#fffefe"/>
<rect x="818.69" y="246.06" width="5.14" height="3.7" fill="#fffdfc"/>
<rect x="823.53" y="246.06" width="5.14" height="3.7" fill="#fffefe"/>
<rect x="828.37" y="246.06" width="5.14" height="3.7" fill="#f9e1d9"/>
<rect x="833.21" y="246.06" width="5.14" height="3.7" fill="#fdf5f3"/>
<rect x="838.05" y="246.06" width="5.14" height="3.7" fill="#fffdfd"/>
<rect x="842.89" y="246.06" width="5.14" height="3.7" fill="#f8dfd7"/>
<rect x="847.73" y="246.06" width="5.14" height="3.7" fill="#fae7e2"/>
<rect x="852.57" y="246.06" width="5.14" height="3.7" fill="#f9e1da"/>
<rect x="857.41" y="246.06" width="5.14" height="3.7" fill="#fdf4f1"/>
<rect x="862.24" y="246.06" width="5.14" height="3.7" fill="#fefdfc"/>
<rect x="867.08" y="246.06" width="5.14" height="3.7" fill="#fffefd"/>
<rect x="871.92" y="246.06" width="5.14" height="3.7" fill="#ffffff"/>
<rect x="876.76" y="246.06" width="5.14" height="3.7" fill="#ffffff"/>
<rect x="881.6" y="246.06" width="5.14" height="3.7" fill="#ffffff"/>
<rect x="886.44" y="246.06" width="5.14" height="3.7" fill="#f7dad0"/>
<rect x="891.28" y="246.06" width="5.14" height="3.7" fill="#f6d3c8"/>
<rect x="896.12" y="246.06" width="5.14" height="3.7" fill="#fae8e3"/>
<rect x="900.96" y="246.06" width="5.14" height="3.7" fill="#fdf4f1"/>
<rect x="721.9" y="249.46" width="5.14" height="3.7" fill="#f7d7cc"/>
<rect x="726.74" y="249.46" width="5.14" height="3.7" fill="#dd8e7c"/>
<rect x="731.58" y="249.46" width="5.14" height="3.7" fill="#fae8e3"/>
<rect x="736.42" y="249.46" width="5.14" height="3.7" fill="#fbeae5"/>
<rect x="741.26" y="249.46" width="5.14" height="3.7" fill="#fae9e3"/>
<rect x="746.1" y="249.46" width="5.14" height="3.7" fill="#fae8e3"/>
<rect x="750.94" y="249.46" width="5.14" height="3.7" fill="#f1c4b7"/>
<rect x="755.78" y="249.46" width="5.14" height="3.7" fill="#f3c9bd"/>
<rect x="760.62" y="249.46" width="5.14" height="3.7" fill="#f2c8bb"/>
<rect x="765.46" y="249.46" width="5.14" height="3.7" fill="#dc8b79"/>
<rect x="770.29" y="249.46" width="5.14" height="3.7" fill="#fae8e3"/>
<rect x="775.13" y="249.46" width="5.14" height="3.7" fill="#f7d9d0"/>
<rect x="779.97" y="249.46" width="5.14" height="3.7" fill="#f2c8bb"/>
<rect x="784.81" y="249.46" width="5.14" height="3.7" fill="#db8a77"/>
<rect x="789.65" y="249.46" width="5.14" height="3.7" fill="#dd8f7c"/>
<rect x="794.49" y="249.46" width="5.14" height="3.7" fill="#f7d8cf"/>
<rect x="799.33" y="249.46" width="5.14" height="3.7" fill="#fdf5f3"/>
<rect x="804.17" y="249.46" width="5.14" height="3.7" fill="#fefaf9"/>
<rect x="809.01" y="249.46" width="5.14" height="3.7" fill="#fefaf8"/>
<rect x="813.85" y="249.46" width="5.14" height="3.7" fill="#ffffff"/>
<rect x="818.69" y="249.46" width="5.14" height="3.7" fill="#fffdfd"/>
<rect x="823.53" y="249.46" width="5.14" height="3.7" fill="#fffdfd"/>
<rect x="828.37" y="249.46" width="5.14" height="3.7" fill="#f8dfd7"/>
<rect x="833.21" y="249.46" width="5.14" height="3.7" fill="#fdf4f2"/>
<rect x="838.05" y="249.46" width="5.14" height="3.7" fill="#fffdfc"/>
<rect x="842.89" y="249.46" width="5.14" height="3.7" fill="#f9e0d9"/>
<rect x="847.73" y="249.46" width="5.14" height="3.7" fill="#fae7e1"/>
<rect x="852.57" y="249.46" width="5.14" height="3.7" fill="#f9e1d9"/>
<rect x="857.41" y="249.46" width="5.14" height="3.7" fill="#fdf4f1"/>
<rect x="862.24" y="249.46" width="5.14" height="3.7" fill="#fffefe"/>
<rect x="867.08" y="249.46" width="5.14" height="3.7" fill="#fffefe"/>
<rect x="871.92" y="249.46" width="5.14" height="3.7" fill="#ffffff"/>
<rect x="876.76" y="249.46" width="5.14" height="3.7" fill="#fffdfd"/>
<rect x="881.6" y="249.46" width="5.14" height="3.7" fill="#fffefd"/>
<rect x="886.44" y="249.46" width="5.14" height="3.7" fill="#f7d8ce"/>
<rect x="891.28" y="249.46" width="5.14" height="3.7" fill="#f6d1c6"/>
<rect x="896.12" y="249.46" width="5.14" height="3.7" fill="#fae7e1"/>
<rect x="900.96" y="249.46" width="5.14" height="3.7" fill="#fdf6f3"/>
<rect x="721.9" y="252.85" width="5.14" height="3.7" fill="#f7d7cd"/>
<rect x="726.74" y="252.85" width="5.14" height="3.7" fill="#dd8f7d"/>
<rect x="731.58" y="252.85" width="5.14" height="3.7" fill="#fbeae5"/>
<rect x="736.42" y="252.85" width="5.14" height="3.7" fill="#fae9e3"/>
<rect x="741.26" y="252.85" width="5.14" height="3.7" fill="#fae9e4"/>
<rect x="746.1" y="252.85" width="5.14" height="3.7" fill="#fbebe6"/>
<rect x="750.94" y="252.85" width="5.14" height="3.7" fill="#f2c8bb"/>
<rect x="755.78" y="252.85" width="5.14" height="3.7" fill="#f1c4b7"/>
<rect x="760.62" y="252.85" width="5.14" height="3.7" fill="#f1c6b9"/>
<rect x="765.46" y="252.85" width="5.14" height="3.7" fill="#db8a77"/>
<rect x="770.29" y="252.85" width="5.14" height="3.7" fill="#fae9e3"/>
<rect x="775.13" y="252.85" width="5.14" height="3.7" fill="#f7d8ce"/>
<rect x="779.97" y="252.85" width="5.14" height="3.7" fill="#f1c4b7"/>
<rect x="784.81" y="252.85" width="5.14" height="3.7" fill="#db8b78"/>
<rect x="789.65" y="252.85" width="5.14" height="3.7" fill="#dc8d7b"/>
<rect x="794.49" y="252.85" width="5.14" height="3.7" fill="#f7d8cf"/>
<rect x="799.33" y="252.85" width="5.14" height="3.7" fill="#fdf6f4"/>
<rect x="804.17" y="252.85" width="5.14" height="3.7" fill="#fefbfa"/>
<rect x="809.01" y="252.85" width="5.14" height="3.7" fill="#fefaf8"/>
<rect x="813.85" y="252.85" width="5.14" height="3.7" fill="#ffffff"/>
<rect x="818.69" y="252.85" width="5.14" height="3.7" fill="#fffefd"/>
<rect x="823.53" y="252.85" width="5.14" height="3.7" fill="#ffffff"/>
<rect x="828.37" y="252.85" width="5.14" height="3.7" fill="#f9e1da"/>
<rect x="833.21" y="252.85" width="5.14" height="3.7" fill="#fdf4f1"/>
<rect x="838.05" y="252.85" width="5.14" height="3.7" fill="#fffefe"/>
<rect x="842.89" y="252.85" width="5.14" height="3.7" fill="#f9e1da"/>
<rect x="847.73" y="252.85" width="5.14" height="3.7" fill="#fae8e2"/>
<rect x="852.57" y="252.85" width="5.14" height="3.7" fill="#f8dfd7"/>
<rect x="857.41" y="252.85" width="5.14" height="3.7" fill="#fdf4f2"/>
<rect x="862.24" y="252.85" width="5.14" height="3.7" fill="#ffffff"/>
<rect x="867.08" y="252.85" width="5.14" height="3.7" fill="#fffffe"/>
<rect x="871.92" y="252.85" width="5.14" height="3.7" fill="#fefdfc"/>
<rect x="876.76" y="252.85" width="5.14" height="3.7" fill="#fffffe"/>
<rect x="881.6" y="252.85" width="5.14" height="3.7" fill="#fffefd"/>
<rect x="886.44" y="252.85" width="5.14" height="3.7" fill="#f7d9cf"/>
<rect x="891.28" y="252.85" width="5.14" height="3.7" fill="#f5d0c4"/>
<rect x="896.12" y="252.85" width="5.14" height="3.7" fill="#fae7e1"/>
<rect x="900.96" y="252.85" width="5.14" height="3.7" fill="#fdf4f1"/>
<rect x="721.9" y="256.25" width="5.14" height="3.7" fill="#efbeb0"/>
<rect x="726.74" y="256.25" width="5.14" height="3.7" fill="#cb6b5a"/>
<rect x="731.58" y="256.25" width="5.14" height="3.7" fill="#f7d9d0"/>
<rect x="736.42" y="256.25" width="5.14" height="3.7" fill="#f7d9d0"/>
<rect x="741.26" y="256.25" width="5.14" height="3.7" fill="#f7d7cd"/>
<rect x="746.1" y="256.25" width="5.14" height="3.7" fill="#f7d9d0"/>
<rect x="750.94" y="256.25" width="5.14" height="3.7" fill="#e7a899"/>
<rect x="755.78" y="256.25" width="5.14" height="3.7" fill="#e4a292"/>
<rect x="760.62" y="256.25" width="5.14" height="3.7" fill="#e6a798"/>
<rect x="765.46" y="256.25" width="5.14" height="3.7" fill="#c86755"/>
<rect x="770.29" y="256.25" width="5.14" height="3.7" fill="#f7d9d0"/>
<rect x="775.13" y="256.25" width="5.14" height="3.7" fill="#efbfb1"/>
<rect x="779.97" y="256.25" width="5.14" height="3.7" fill="#e6a797"/>
<rect x="784.81" y="256.25" width="5.14" height="3.7" fill="#c86756"/>
<rect x="789.65" y="256.25" width="5.14" height="3.7" fill="#c96857"/>
<rect x="794.49" y="256.25" width="5.14" height="3.7" fill="#eebdb0"/>
<rect x="799.33" y="256.25" width="5.14" height="3.7" fill="#fffdfd"/>
<rect x="804.17" y="256.25" width="5.14" height="3.7" fill="#fffdfc"/>
<rect x="809.01" y="256.25" width="5.14" height="3.7" fill="#fffefe"/>
<rect x="813.85" y="256.25" width="5.14" height="3.7" fill="#fefbfa"/>
<rect x="818.69" y="256.25" width="5.14" height="3.7" fill="#fefbfa"/>
<rect x="823.53" y="256.25" width="5.14" height="3.7" fill="#ffffff"/>
<rect x="828.37" y="256.25" width="5.14" height="3.7" fill="#fbede8"/>
<rect x="833.21" y="256.25" width="5.14" height="3.7" fill="#fffefd"/>
<rect x="838.05" y="256.25" width="5.14" height="3.7" fill="#fefaf9"/>
<rect x="842.89" y="256.25" width="5.14" height="3.7" fill="#fcefeb"/>
<rect x="847.73" y="256.25" width="5.14" height="3.7" fill="#fdf5f2"/>
<rect x="852.57" y="256.25" width="5.14" height="3.7" fill="#fbeeea"/>
<rect x="857.41" y="256.25" width="5.14" height="3.7" fill="#fffdfd"/>
<rect x="862.24" y="256.25" width="5.14" height="3.7" fill="#fefcfb"/>
<rect x="867.08" y="256.25" width="5.14" height="3.7" fill="#fefbfb"/>
<rect x="871.92" y="256.25" width="5.14" height="3.7" fill="#fefbfa"/>
<rect x="876.76" y="256.25" width="5.14" height="3.7" fill="#ffffff"/>
<rect x="881.6" y="256.25" width="5.14" height="3.7" fill="#fffefd"/>
<rect x="886.44" y="256.25" width="5.14" height="3.7" fill="#fae6e0"/>
<rect x="891.28" y="256.25" width="5.14" height="3.7" fill="#f9e0d8"/>
<rect x="896.12" y="256.25" width="5.14" height="3.7" fill="#fdf4f1"/>
<rect x="900.96" y="256.25" width="5.14" height="3.7" fill="#fffefd"/>
<rect x="721.9" y="259.65" width="5.14" height="3.7" fill="#efc0b3"/>
<rect x="726.74" y="259.65" width="5.14" height="3.7" fill="#ca6a59"/>
<rect x="731.58" y="259.65" width="5.14" height="3.7" fill="#f7d6cc"/>
<rect x="736.42" y="259.65" width="5.14" height="3.7" fill="#f7d9cf"/>
<rect x="741.26" y="259.65" width="5.14" height="3.7" fill="#f7d8cf"/>
<rect x="746.1" y="259.65" width="5.14" height="3.7" fill="#f7d9d0"/>
<rect x="750.94" y="259.65" width="5.14" height="3.7" fill="#e6a797"/>
<rect x="755.78" y="259.65" width="5.14" height="3.7" fill="#e6a898"/>
<rect x="760.62" y="259.65" width="5.14" height="3.7" fill="#e4a392"/>
<rect x="765.46" y="259.65" width="5.14" height="3.7" fill="#c86856"/>
<rect x="770.29" y="259.65" width="5.14" height="3.7" fill="#f7d7cd"/>
<rect x="775.13" y="259.65" width="5.14" height="3.7" fill="#eebbad"/>
<rect x="779.97" y="259.65" width="5.14" height="3.7" fill="#e5a595"/>
<rect x="784.81" y="259.65" width="5.14" height="3.7" fill="#c86655"/>
<rect x="789.65" y="259.65" width="5.14" height="3.7" fill="#c96957"/>
<rect x="794.49" y="259.65" width="5.14" height="3.7" fill="#efbfb1"/>
<rect x="799.33" y="259.65" width="5.14" height="3.7" fill="#fffdfc"/>
<rect x="804.17" y="259.65" width="5.14" height="3.7" fill="#fffdfc"/>
<rect x="809.01" y="259.65" width="5.14" height="3.7" fill="#fffdfc"/>
<rect x="813.85" y="259.65" width="5.14" height="3.7" fill="#fefbfa"/>
<rect x="818.69" y="259.65" width="5.14" height="3.7" fill="#fefaf9"/>
<rect x="823.53" y="259.65" width="5.14" height="3.7" fill="#fffefe"/>
<rect x="828.37" y="259.65" width="5.14" height="3.7" fill="#fbece8"/>
<rect x="833.21" y="259.65" width="5.14" height="3.7" fill="#fffdfc"/>
<rect x="838.05" y="259.65" width="5.14" height="3.7" fill="#fefcfb"/>
<rect x="842.89" y="259.65" width="5.14" height="3.7" fill="#fbede8"/>
<rect x="847.73" y="259.65" width="5.14" height="3.7" fill="#fdf6f3"/>
<rect x="852.57" y="259.65" width="5.14" height="3.7" fill="#fcefeb"/>
<rect x="857.41" y="259.65" width="5.14" height="3.7" fill="#fffdfd"/>
<rect x="862.24" y="259.65" width="5.14" height="3.7" fill="#fefcfb"/>
<rect x="867.08" y="259.65" width="5.14" height="3.7" fill="#fefbfa"/>
<rect x="871.92" y="259.65" width="5.14" height="3.7" fill="#fefbf9"/>
<rect x="876.76" y="259.65" width="5.14" height="3.7" fill="#ffffff"/>
<rect x="881.6" y="259.65" width="5.14" height="3.7" fill="#fffdfd"/>
<rect x="886.44" y="259.65" width="5.14" height="3.7" fill="#fae8e2"/>
<rect x="891.28" y="259.65" width="5.14" height="3.7" fill="#f9e0d8"/>
<rect x="896.12" y="259.65" width="5.14" height="3.7" fill="#fdf5f3"/>
<rect x="900.96" y="259.65" width="5.14" height="3.7" fill="#fffdfd"/>
<rect x="721.9" y="263.04" width="5.14" height="3.7" fill="#eebdaf"/>
<rect x="726.74" y="263.04" width="5.14" height="3.7" fill="#ca6b59"/>
<rect x="731.58" y="263.04" width="5.14" height="3.7" fill="#f7d9d0"/>
<rect x="736.42" y="263.04" width="5.14" height="3.7" fill="#f7d9cf"/>
<rect x="741.26" y="263.04" width="5.14" height="3.7" fill="#f7d8cf"/>
<rect x="746.1" y="263.04" width="5.14" height="3.7" fill="#f7d9d0"/>
<rect x="750.94" y="263.04" width="5.14" height="3.7" fill="#e6a898"/>
<rect x="755.78" y="263.04" width="5.14" height="3.7" fill="#e5a494"/>
<rect x="760.62" y="263.04" width="5.14" height="3.7" fill="#e5a494"/>
<rect x="765.46" y="263.04" width="5.14" height="3.7" fill="#c76655"/>
<rect x="770.29" y="263.04" width="5.14" height="3.7" fill="#f7d6cc"/>
<rect x="775.13" y="263.04" width="5.14" height="3.7" fill="#eebcae"/>
<rect x="779.97" y="263.04" width="5.14" height="3.7" fill="#e6a696"/>
<rect x="784.81" y="263.04" width="5.14" height="3.7" fill="#cb6c5a"/>
<rect x="789.65" y="263.04" width="5.14" height="3.7" fill="#ca6b59"/>
<rect x="794.49" y="263.04" width="5.14" height="3.7" fill="#efbfb1"/>
<rect x="799.33" y="263.04" width="5.14" height="3.7" fill="#fffefd"/>
<rect x="804.17" y="263.04" width="5.14" height="3.7" fill="#fffefd"/>
<rect x="809.01" y="263.04" width="5.14" height="3.7" fill="#fffefe"/>
<rect x="813.85" y="263.04" width="5.14" height="3.7" fill="#fefaf9"/>
<rect x="818.69" y="263.04" width="5.14" height="3.7" fill="#fefcfb"/>
<rect x="823.53" y="263.04" width="5.14" height="3.7" fill="#fffefe"/>
<rect x="828.37" y="263.04" width="5.14" height="3.7" fill="#fbede8"/>
<rect x="833.21" y="263.04" width="5.14" height="3.7" fill="#fffdfd"/>
<rect x="838.05" y="263.04" width="5.14" height="3.7" fill="#fefcfb"/>
<rect x="842.89" y="263.04" width="5.14" height="3.7" fill="#fcefeb"/>
<rect x="847.73" y="263.04" width="5.14" height="3.7" fill="#fdf4f1"/>
<rect x="852.57" y="263.04" width="5.14" height="3.7" fill="#fcf0ec"/>
<rect x="857.41" y="263.04" width="5.14" height="3.7" fill="#ffffff"/>
<rect x="862.24" y="263.04" width="5.14" height="3.7" fill="#fefbfa"/>
<rect x="867.08" y="263.04" width="5.14" height="3.7" fill="#fefbfa"/>
<rect x="871.92" y="263.04" width="5.14" height="3.7" fill="#fefcfb"/>
<rect x="876.76" y="263.04" width="5.14" height="3.7" fill="#ffffff"/>
<rect x="881.6" y="263.04" width="5.14" height="3.7" fill="#fffffe"/>
<rect x="886.44" y="263.04" width="5.14" height="3.7" fill="#fae6e0"/>
<rect x="891.28" y="263.04" width="5.14" height="3.7" fill="#f9e0d8"/>
<rect x="896.12" y="263.04" width="5.14" height="3.7" fill="#fdf3f0"/>
<rect x="900.96" y="263.04" width="5.14" height="3.7" fill="#fffdfd"/>
<rect x="721.9" y="266.44" width="5.14" height="3.7" fill="#fefdfc"/>
<rect x="726.74" y="266.44" width="5.14" height="3.7" fill="#fae5de"/>
<rect x="731.58" y="266.44" width="5.14" height="3.7" fill="#ffffff"/>
<rect x="736.42" y="266.44" width="5.14" height="3.7" fill="#ffffff"/>
<rect x="741.26" y="266.44" width="5.14" height="3.7" fill="#fffefe"/>
<rect x="746.1" y="266.44" width="5.14" height="3.7" fill="#fffefe"/>
<rect x="750.94" y="266.44" width="5.14" height="3.7" fill="#fefcfc"/>
<rect x="755.78" y="266.44" width="5.14" height="3.7" fill="#fefbfa"/>
<rect x="760.62" y="266.44" width="5.14" height="3.7" fill="#fefcfb"/>
<rect x="765.46" y="266.44" width="5.14" height="3.7" fill="#f9e4dd"/>
<rect x="770.29" y="266.44" width="5.14" height="3.7" fill="#fffefe"/>
<rect x="775.13" y="266.44" width="5.14" height="3.7" fill="#fffdfd"/>
<rect x="779.97" y="266.44" width="5.14" height="3.7" fill="#fefbfa"/>
<rect x="784.81" y="266.44" width="5.14" height="3.7" fill="#f9e4de"/>
<rect x="789.65" y="266.44" width="5.14" height="3.7" fill="#fae5de"/>
<rect x="794.49" y="266.44" width="5.14" height="3.7" fill="#fffefe"/>
<rect x="799.33" y="266.44" width="5.14" height="3.7" fill="#ebb5a7"/>
<rect x="804.17" y="266.44" width="5.14" height="3.7" fill="#f1c5b8"/>
<rect x="809.01" y="266.44" width="5.14" height="3.7" fill="#f1c4b7"/>
<rect x="813.85" y="266.44" width="5.14" height="3.7" fill="#f8dbd3"/>
<rect x="818.69" y="266.44" width="5.14" height="3.7" fill="#f8ddd5"/>
<rect x="823.53" y="266.44" width="5.14" height="3.7" fill="#f6d5ca"/>
<rect x="828.37" y="266.44" width="5.14" height="3.7" fill="#d8826e"/>
<rect x="833.21" y="266.44" width="5.14" height="3.7" fill="#ebb4a6"/>
<rect x="838.05" y="266.44" width="5.14" height="3.7" fill="#f8dcd4"/>
<rect x="842.89" y="266.44" width="5.14" height="3.7" fill="#d8816e"/>
<rect x="847.73" y="266.44" width="5.14" height="3.7" fill="#df9483"/>
<rect x="852.57" y="266.44" width="5.14" height="3.7" fill="#d98572"/>
<rect x="857.41" y="266.44" width="5.14" height="3.7" fill="#ecb8aa"/>
<rect x="862.24" y="266.44" width="5.14" height="3.7" fill="#f8ded6"/>
<rect x="867.08" y="266.44" width="5.14" height="3.7" fill="#f8dcd3"/>
<rect x="871.92" y="266.44" width="5.14" height="3.7" fill="#f8dbd2"/>
<rect x="876.76" y="266.44" width="5.14" height="3.7" fill="#f6d2c7"/>
<rect x="881.6" y="266.44" width="5.14" height="3.7" fill="#f6d3c9"/>
<rect x="886.44" y="266.44" width="5.14" height="3.7" fill="#cf715e"/>
<rect x="891.28" y="266.44" width="5.14" height="3.7" fill="#c25d4d"/>
<rect x="896.12" y="266.44" width="5.14" height="3.7" fill="#de9381"/>
<rect x="900.96" y="266.44" width="5.14" height="3.7" fill="#ebb5a7"/>
<rect x="721.9" y="269.84" width="5.14" height="3.7" fill="#fceeea"/>
<rect x="726.74" y="269.84" width="5.14" height="3.7" fill="#fffefd"/>
<rect x="731.58" y="269.84" width="5.14" height="3.7" fill="#f9e1d9"/>
<rect x="736.42" y="269.84" width="5.14" height="3.7" fill="#f9e1d9"/>
<rect x="741.26" y="269.84" width="5.14" height="3.7" fill="#f8dfd7"/>
<rect x="746.1" y="269.84" width="5.14" height="3.7" fill="#f8ded6"/>
<rect x="750.94" y="269.84" width="5.14" height="3.7" fill="#fdf8f6"/>
<rect x="755.78" y="269.84" width="5.14" height="3.7" fill="#fef8f6"/>
<rect x="760.62" y="269.84" width="5.14" height="3.7" fill="#fef8f7"/>
<rect x="765.46" y="269.84" width="5.14" height="3.7" fill="#fffefe"/>
<rect x="770.29" y="269.84" width="5.14" height="3.7" fill="#f8dfd7"/>
<rect x="775.13" y="269.84" width="5.14" height="3.7" fill="#fbeeea"/>
<rect x="779.97" y="269.84" width="5.14" height="3.7" fill="#fdf6f4"/>
<rect x="784.81" y="269.84" width="5.14" height="3.7" fill="#ffffff"/>
<rect x="789.65" y="269.84" width="5.14" height="3.7" fill="#fffefe"/>
<rect x="794.49" y="269.84" width="5.14" height="3.7" fill="#fbeeea"/>
<rect x="799.33" y="269.84" width="5.14" height="3.7" fill="#ca6a58"/>
<rect x="804.17" y="269.84" width="5.14" height="3.7" fill="#d47965"/>
<rect x="809.01" y="269.84" width="5.14" height="3.7" fill="#d47965"/>
<rect x="813.85" y="269.84" width="5.14" height="3.7" fill="#e19a89"/>
<rect x="818.69" y="269.84" width="5.14" height="3.7" fill="#e29c8b"/>
<rect x="823.53" y="269.84" width="5.14" height="3.7" fill="#dd8f7d"/>
<rect x="828.37" y="269.84" width="5.14" height="3.7" fill="#a53328"/>
<rect x="833.21" y="269.84" width="5.14" height="3.7" fill="#c96957"/>
<rect x="838.05" y="269.84" width="5.14" height="3.7" fill="#e29d8c"/>
<rect x="842.89" y="269.84" width="5.14" height="3.7" fill="#a6352a"/>
<rect x="847.73" y="269.84" width="5.14" height="3.7" fill="#b14437"/>
<rect x="852.57" y="269.84" width="5.14" height="3.7" fill="#a33026"/>
<rect x="857.41" y="269.84" width="5.14" height="3.7" fill="#cb6c5a"/>
<rect x="862.24" y="269.84" width="5.14" height="3.7" fill="#e29c8b"/>
<rect x="867.08" y="269.84" width="5.14" height="3.7" fill="#e39e8d"/>
<rect x="871.92" y="269.84" width="5.14" height="3.7" fill="#e29d8c"/>
<rect x="876.76" y="269.84" width="5.14" height="3.7" fill="#db8a77"/>
<rect x="881.6" y="269.84" width="5.14" height="3.7" fill="#db8976"/>
<rect x="886.44" y="269.84" width="5.14" height="3.7" fill="#982018"/>
<rect x="891.28" y="269.84" width="5.14" height="3.7" fill="#8e100b"/>
<rect x="896.12" y="269.84" width="5.14" height="3.7" fill="#b04236"/>
<rect x="900.96" y="269.84" width="5.14" height="3.7" fill="#cb6b5a"/>
<rect x="721.9" y="273.24" width="5.14" height="3.7" fill="#fffefe"/>
<rect x="726.74" y="273.24" width="5.14" height="3.7" fill="#fbede8"/>
<rect x="731.58" y="273.24" width="5.14" height="3.7" fill="#fdf5f3"/>
<rect x="736.42" y="273.24" width="5.14" height="3.7" fill="#fdf5f3"/>
<rect x="741.26" y="273.24" width="5.14" height="3.7" fill="#fdf3f0"/>
<rect x="746.1" y="273.24" width="5.14" height="3.7" fill="#fdf3f0"/>
<rect x="750.94" y="273.24" width="5.14" height="3.7" fill="#fffefe"/>
<rect x="755.78" y="273.24" width="5.14" height="3.7" fill="#fffefe"/>
<rect x="760.62" y="273.24" width="5.14" height="3.7" fill="#fffefe"/>
<rect x="765.46" y="273.24" width="5.14" height="3.7" fill="#fcefeb"/>
<rect x="770.29" y="273.24" width="5.14" height="3.7" fill="#fdf5f3"/>
<rect x="775.13" y="273.24" width="5.14" height="3.7" fill="#fefdfc"/>
<rect x="779.97" y="273.24" width="5.14" height="3.7" fill="#ffffff"/>
<rect x="784.81" y="273.24" width="5.14" height="3.7" fill="#fcefeb"/>
<rect x="789.65" y="273.24" width="5.14" height="3.7" fill="#fcefeb"/>
<rect x="794.49" y="273.24" width="5.14" height="3.7" fill="#ffffff"/>
<rect x="799.33" y="273.24" width="5.14" height="3.7" fill="#e29d8c"/>
<rect x="804.17" y="273.24" width="5.14" height="3.7" fill="#e8ac9d"/>
<rect x="809.01" y="273.24" width="5.14" height="3.7" fill="#e8ac9c"/>
<rect x="813.85" y="273.24" width="5.14" height="3.7" fill="#f5cec2"/>
<rect x="818.69" y="273.24" width="5.14" height="3.7" fill="#f4cdc0"/>
<rect x="823.53" y="273.24" width="5.14" height="3.7" fill="#f0c1b4"/>
<rect x="828.37" y="273.24" width="5.14" height="3.7" fill="#ca6b59"/>
<rect x="833.21" y="273.24" width="5.14" height="3.7" fill="#e19a89"/>
<rect x="838.05" y="273.24" width="5.14" height="3.7" fill="#f5d0c5"/>
<rect x="842.89" y="273.24" width="5.14" height="3.7" fill="#cb6b59"/>
<rect x="847.73" y="273.24" width="5.14" height="3.7" fill="#d57b67"/>
<rect x="852.57" y="273.24" width="5.14" height="3.7" fill="#cb6b59"/>
<rect x="857.41" y="273.24" width="5.14" height="3.7" fill="#e29d8c"/>
<rect x="862.24" y="273.24" width="5.14" height="3.7" fill="#f5d0c5"/>
<rect x="867.08" y="273.24" width="5.14" height="3.7" fill="#f5d0c4"/>
<rect x="871.92" y="273.24" width="5.14" height="3.7" fill="#f4ccbf"/>
<rect x="876.76" y="273.24" width="5.14" height="3.7" fill="#f0c1b3"/>
<rect x="881.6" y="273.24" width="5.14" height="3.7" fill="#eebcae"/>
<rect x="886.44" y="273.24" width="5.14" height="3.7" fill="#bf5a4a"/>
<rect x="891.28" y="273.24" width="5.14" height="3.7" fill="#af4235"/>
<rect x="896.12" y="273.24" width="5.14" height="3.7" fill="#d57a66"/>
<rect x="900.96" y="273.24" width="5.14" height="3.7" fill="#e29c8b"/>
<rect x="721.9" y="276.63" width="5.14" height="3.7" fill="#ffffff"/>
<rect x="726.74" y="276.63" width="5.14" height="3.7" fill="#f9e1da"/>
<rect x="731.58" y="276.63" width="5.14" height="3.7" fill="#fffdfd"/>
<rect x="736.42" y="276.63" width="5.14" height="3.7" fill="#ffffff"/>
<rect x="741.26" y="276.63" width="5.14" height="3.7" fill="#ffffff"/>
<rect x="746.1" y="276.63" width="5.14" height="3.7" fill="#fffdfc"/>
<rect x="750.94" y="276.63" width="5.14" height="3.7" fill="#fdf7f5"/>
<rect x="755.78" y="276.63" width="5.14" height="3.7" fill="#fef9f8"/>
<rect x="760.62" y="276.63" width="5.14" height="3.7" fill="#fdf6f4"/>
<rect x="765.46" y="276.63" width="5.14" height="3.7" fill="#f8e0d8"/>
<rect x="770.29" y="276.63" width="5.14" height="3.7" fill="#fffefe"/>
<rect x="775.13" y="276.63" width="5.14" height="3.7" fill="#ffffff"/>
<rect x="779.97" y="276.63" width="5.14" height="3.7" fill="#fef8f7"/>
<rect x="784.81" y="276.63" width="5.14" height="3.7" fill="#f8ded6"/>
<rect x="789.65" y="276.63" width="5.14" height="3.7" fill="#f9e1d9"/>
<rect x="794.49" y="276.63" width="5.14" height="3.7" fill="#ffffff"/>
<rect x="799.33" y="276.63" width="5.14" height="3.7" fill="#f0c1b3"/>
<rect x="804.17" y="276.63" width="5.14" height="3.7" fill="#f5d0c4"/>
<rect x="809.01" y="276.63" width="5.14" height="3.7" fill="#f5cfc3"/>
<rect x="813.85" y="276.63" width="5.14" height="3.7" fill="#f8e0d8"/>
<rect x="818.69" y="276.63" width="5.14" height="3.7" fill="#f9e2db"/>
<rect x="823.53" y="276.63" width="5.14" height="3.7" fill="#f7d9d0"/>
<rect x="828.37" y="276.63" width="5.14" height="3.7" fill="#db8977"/>
<rect x="833.21" y="276.63" width="5.14" height="3.7" fill="#eebbad"/>
<rect x="838.05" y="276.63" width="5.14" height="3.7" fill="#f8dfd7"/>
<rect x="842.89" y="276.63" width="5.14" height="3.7" fill="#dd8e7c"/>
<rect x="847.73" y="276.63" width="5.14" height="3.7" fill="#e39e8d"/>
<rect x="852.57" y="276.63" width="5.14" height="3.7" fill="#db8976"/>
<rect x="857.41" y="276.63" width="5.14" height="3.7" fill="#efbeb1"/>
<rect x="862.24" y="276.63" width="5.14" height="3.7" fill="#f9e0d9"/>
<rect x="867.08" y="276.63" width="5.14" height="3.7" fill="#f9e2da"/>
<rect x="871.92" y="276.63" width="5.14" height="3.7" fill="#f9e3dc"/>
<rect x="876.76" y="276.63" width="5.14" height="3.7" fill="#f7d9cf"/>
<rect x="881.6" y="276.63" width="5.14" height="3.7" fill="#f7d7cd"/>
<rect x="886.44" y="276.63" width="5.14" height="3.7" fill="#d47965"/>
<rect x="891.28" y="276.63" width="5.14" height="3.7" fill="#c96957"/>
<rect x="896.12" y="276.63" width="5.14" height="3.7" fill="#e29d8c"/>
<rect x="900.96" y="276.63" width="5.14" height="3.7" fill="#efbeb0"/>
<rect x="721.9" y="280.03" width="5.14" height="3.7" fill="#fefbfa"/>
<rect x="726.74" y="280.03" width="5.14" height="3.7" fill="#f7d8cf"/>
<rect x="731.58" y="280.03" width="5.14" height="3.7" fill="#fffdfc"/>
<rect x="736.42" y="280.03" width="5.14" height="3.7" fill="#fffffe"/>
<rect x="741.26" y="280.03" width="5.14" height="3.7" fill="#fffefd"/>
<rect x="746.1" y="280.03" width="5.14" height="3.7" fill="#fffdfc"/>
<rect x="750.94" y="280.03" width="5.14" height="3.7" fill="#fcf0ed"/>
<rect x="755.78" y="280.03" width="5.14" height="3.7" fill="#fcf2ef"/>
<rect x="760.62" y="280.03" width="5.14" height="3.7" fill="#fcf0ec"/>
<rect x="765.46" y="280.03" width="5.14" height="3.7" fill="#f7d7cd"/>
<rect x="770.29" y="280.03" width="5.14" height="3.7" fill="#ffffff"/>
<rect x="775.13" y="280.03" width="5.14" height="3.7" fill="#fefcfb"/>
<rect x="779.97" y="280.03" width="5.14" height="3.7" fill="#fcf2ef"/>
<rect x="784.81" y="280.03" width="5.14" height="3.7" fill="#f7dad1"/>
<rect x="789.65" y="280.03" width="5.14" height="3.7" fill="#f7d7cd"/>
<rect x="794.49" y="280.03" width="5.14" height="3.7" fill="#fefbfa"/>
<rect x="799.33" y="280.03" width="5.14" height="3.7" fill="#f4ccc0"/>
<rect x="804.17" y="280.03" width="5.14" height="3.7" fill="#f7d9d0"/>
<rect x="809.01" y="280.03" width="5.14" height="3.7" fill="#f7dad0"/>
<rect x="813.85" y="280.03" width="5.14" height="3.7" fill="#fae9e3"/>
<rect x="818.69" y="280.03" width="5.14" height="3.7" fill="#fae9e3"/>
<rect x="823.53" y="280.03" width="5.14" height="3.7" fill="#f8dfd7"/>
<rect x="828.37" y="280.03" width="5.14" height="3.7" fill="#e29c8b"/>
<rect x="833.21" y="280.03" width="5.14" height="3.7" fill="#f5cec2"/>
<rect x="838.05" y="280.03" width="5.14" height="3.7" fill="#fae9e3"/>
<rect x="842.89" y="280.03" width="5.14" height="3.7" fill="#e3a08f"/>
<rect x="847.73" y="280.03" width="5.14" height="3.7" fill="#e8ae9e"/>
<rect x="852.57" y="280.03" width="5.14" height="3.7" fill="#e29d8d"/>
<rect x="857.41" y="280.03" width="5.14" height="3.7" fill="#f5d0c4"/>
<rect x="862.24" y="280.03" width="5.14" height="3.7" fill="#fbe9e4"/>
<rect x="867.08" y="280.03" width="5.14" height="3.7" fill="#fbeae5"/>
<rect x="871.92" y="280.03" width="5.14" height="3.7" fill="#fbeae4"/>
<rect x="876.76" y="280.03" width="5.14" height="3.7" fill="#f9e1da"/>
<rect x="881.6" y="280.03" width="5.14" height="3.7" fill="#f9e2da"/>
<rect x="886.44" y="280.03" width="5.14" height="3.7" fill="#dc8d7b"/>
<rect x="891.28" y="280.03" width="5.14" height="3.7" fill="#d57a67"/>
<rect x="896.12" y="280.03" width="5.14" height="3.7" fill="#e7ab9b"/>
<rect x="900.96" y="280.03" width="5.14" height="3.7" fill="#f4ccc0"/>
<rect x="721.9" y="283.43" width="5.14" height="3.7" fill="#fefaf9"/>
<rect x="726.74" y="283.43" width="5.14" height="3.7" fill="#f7d7cd"/>
<rect x="731.58" y="283.43" width="5.14" height="3.7" fill="#fffefe"/>
<rect x="736.42" y="283.43" width="5.14" height="3.7" fill="#fefdfc"/>
<rect x="741.26" y="283.43" width="5.14" height="3.7" fill="#fffefe"/>
<rect x="746.1" y="283.43" width="5.14" height="3.7" fill="#ffffff"/>
<rect x="750.94" y="283.43" width="5.14" height="3.7" fill="#fcf1ee"/>
<rect x="755.78" y="283.43" width="5.14" height="3.7" fill="#fcf1ed"/>
<rect x="760.62" y="283.43" width="5.14" height="3.7" fill="#fcf2ef"/>
<rect x="765.46" y="283.43" width="5.14" height="3.7" fill="#f7d8ce"/>
<rect x="770.29" y="283.43" width="5.14" height="3.7" fill="#fffefe"/>
<rect x="775.13" y="283.43" width="5.14" height="3.7" fill="#fefaf8"/>
<rect x="779.97" y="283.43" width="5.14" height="3.7" fill="#fcf1ee"/>
<rect x="784.81" y="283.43" width="5.14" height="3.7" fill="#f7d9cf"/>
<rect x="789.65" y="283.43" width="5.14" height="3.7" fill="#f7d8cf"/>
<rect x="794.49" y="283.43" width="5.14" height="3.7" fill="#fefaf9"/>
<rect x="799.33" y="283.43" width="5.14" height="3.7" fill="#f4ccbf"/>
<rect x="804.17" y="283.43" width="5.14" height="3.7" fill="#f7d8ce"/>
<rect x="809.01" y="283.43" width="5.14" height="3.7" fill="#f7d8ce"/>
<rect x="813.85" y="283.43" width="5.14" height="3.7" fill="#fbe9e4"/>
<rect x="818.69" y="283.43" width="5.14" height="3.7" fill="#fbebe6"/>
<rect x="823.53" y="283.43" width="5.14" height="3.7" fill="#f9e1da"/>
<rect x="828.37" y="283.43" width="5.14" height="3.7" fill="#e29b8a"/>
<rect x="833.21" y="283.43" width="5.14" height="3.7" fill="#f4cdc1"/>
<rect x="838.05" y="283.43" width="5.14" height="3.7" fill="#fbebe6"/>
<rect x="842.89" y="283.43" width="5.14" height="3.7" fill="#e19b8a"/>
<rect x="847.73" y="283.43" width="5.14" height="3.7" fill="#e9af9f"/>
<rect x="852.57" y="283.43" width="5.14" height="3.7" fill="#e19a89"/>
<rect x="857.41" y="283.43" width="5.14" height="3.7" fill="#f5cfc3"/>
<rect x="862.24" y="283.43" width="5.14" height="3.7" fill="#fbebe6"/>
<rect x="867.08" y="283.43" width="5.14" height="3.7" fill="#fbeae4"/>
<rect x="871.92" y="283.43" width="5.14" height="3.7" fill="#fae9e3"/>
<rect x="876.76" y="283.43" width="5.14" height="3.7" fill="#f9e1da"/>
<rect x="881.6" y="283.43" width="5.14" height="3.7" fill="#f8e0d8"/>
<rect x="886.44" y="283.43" width="5.14" height="3.7" fill="#dc8b78"/>
<rect x="891.28" y="283.43" width="5.14" height="3.7" fill="#d67c68"/>
<rect x="896.12" y="283.43" width="5.14" height="3.7" fill="#e9afa0"/>
<rect x="900.96" y="283.43" width="5.14" height="3.7" fill="#f5cfc2"/>
<rect x="721.9" y="286.83" width="5.14" height="3.7" fill="#fceeea"/>
<rect x="726.74" y="286.83" width="5.14" height="3.7" fill="#fffefe"/>
<rect x="731.58" y="286.83" width="5.14" height="3.7" fill="#f8dfd7"/>
<rect x="736.42" y="286.83" width="5.14" height="3.7" fill="#f8dfd6"/>
<rect x="741.26" y="286.83" width="5.14" height="3.7" fill="#f8e0d8"/>
<rect x="746.1" y="286.83" width="5.14" height="3.7" fill="#f9e1da"/>
<rect x="750.94" y="286.83" width="5.14" height="3.7" fill="#fef9f7"/>
<rect x="755.78" y="286.83" width="5.14" height="3.7" fill="#fef8f7"/>
<rect x="760.62" y="286.83" width="5.14" height="3.7" fill="#fdf8f6"/>
<rect x="765.46" y="286.83" width="5.14" height="3.7" fill="#ffffff"/>
<rect x="770.29" y="286.83" width="5.14" height="3.7" fill="#f9e1da"/>
<rect x="775.13" y="286.83" width="5.14" height="3.7" fill="#fcefea"/>
<rect x="779.97" y="286.83" width="5.14" height="3.7" fill="#fef9f7"/>
<rect x="784.81" y="286.83" width="5.14" height="3.7" fill="#ffffff"/>
<rect x="789.65" y="286.83" width="5.14" height="3.7" fill="#fffefd"/>
<rect x="794.49" y="286.83" width="5.14" height="3.7" fill="#fbede8"/>
<rect x="799.33" y="286.83" width="5.14" height="3.7" fill="#c96958"/>
<rect x="804.17" y="286.83" width="5.14" height="3.7" fill="#d47966"/>
<rect x="809.01" y="286.83" width="5.14" height="3.7" fill="#d47965"/>
<rect x="813.85" y="286.83" width="5.14" height="3.7" fill="#e29b8a"/>
<rect x="818.69" y="286.83" width="5.14" height="3.7" fill="#e19a89"/>
<rect x="823.53" y="286.83" width="5.14" height="3.7" fill="#dc8d7a"/>
<rect x="828.37" y="286.83" width="5.14" height="3.7" fill="#a53228"/>
<rect x="833.21" y="286.83" width="5.14" height="3.7" fill="#cb6c5a"/>
<rect x="838.05" y="286.83" width="5.14" height="3.7" fill="#e19b8a"/>
<rect x="842.89" y="286.83" width="5.14" height="3.7" fill="#a63429"/>
<rect x="847.73" y="286.83" width="5.14" height="3.7" fill="#b24539"/>
<rect x="852.57" y="286.83" width="5.14" height="3.7" fill="#a43026"/>
<rect x="857.41" y="286.83" width="5.14" height="3.7" fill="#ca6b59"/>
<rect x="862.24" y="286.83" width="5.14" height="3.7" fill="#e39f8e"/>
<rect x="867.08" y="286.83" width="5.14" height="3.7" fill="#e29b8a"/>
<rect x="871.92" y="286.83" width="5.14" height="3.7" fill="#e29c8c"/>
<rect x="876.76" y="286.83" width="5.14" height="3.7" fill="#dd8f7d"/>
<rect x="881.6" y="286.83" width="5.14" height="3.7" fill="#dd8f7d"/>
<rect x="886.44" y="286.83" width="5.14" height="3.7" fill="#9a221a"/>
<rect x="891.28" y="286.83" width="5.14" height="3.7" fill="#8f120c"/>
<rect x="896.12" y="286.83" width="5.14" height="3.7" fill="#b04336"/>
<rect x="900.96" y="286.83" width="5.14" height="3.7" fill="#cb6b5a"/>
<rect x="721.9" y="290.22" width="5.14" height="3.7" fill="#fffefe"/>
<rect x="726.74" y="290.22" width="5.14" height="3.7" fill="#fceeea"/>
<rect x="731.58" y="290.22" width="5.14" height="3.7" fill="#fdf5f2"/>
<rect x="736.42" y="290.22" width="5.14" height="3.7" fill="#fdf5f2"/>
<rect x="741.26" y="290.22" width="5.14" height="3.7" fill="#fdf4f2"/>
<rect x="746.1" y="290.22" width="5.14" height="3.7" fill="#fdf4f1"/>
<rect x="750.94" y="290.22" width="5.14" height="3.7" fill="#fffefe"/>
<rect x="755.78" y="290.22" width="5.14" height="3.7" fill="#ffffff"/>
<rect x="760.62" y="290.22" width="5.14" height="3.7" fill="#fefdfc"/>
<rect x="765.46" y="290.22" width="5.14" height="3.7" fill="#fbede9"/>
<rect x="770.29" y="290.22" width="5.14" height="3.7" fill="#fdf6f4"/>
<rect x="775.13" y="290.22" width="5.14" height="3.7" fill="#fffefe"/>
<rect x="779.97" y="290.22" width="5.14" height="3.7" fill="#fffdfd"/>
<rect x="784.81" y="290.22" width="5.14" height="3.7" fill="#fbece8"/>
<rect x="789.65" y="290.22" width="5.14" height="3.7" fill="#fcefeb"/>
<rect x="794.49" y="290.22" width="5.14" height="3.7" fill="#ffffff"/>
<rect x="799.33" y="290.22" width="5.14" height="3.7" fill="#e29d8c"/>
<rect x="804.17" y="290.22" width="5.14" height="3.7" fill="#e9ae9f"/>
<rect x="809.01" y="290.22" width="5.14" height="3.7" fill="#e8ab9c"/>
<rect x="813.85" y="290.22" width="5.14" height="3.7" fill="#f4cdc0"/>
<rect x="818.69" y="290.22" width="5.14" height="3.7" fill="#f5cfc3"/>
<rect x="823.53" y="290.22" width="5.14" height="3.7" fill="#efbfb1"/>
<rect x="828.37" y="290.22" width="5.14" height="3.7" fill="#c96957"/>
<rect x="833.21" y="290.22" width="5.14" height="3.7" fill="#e19b8a"/>
<rect x="838.05" y="290.22" width="5.14" height="3.7" fill="#f5d0c4"/>
<rect x="842.89" y="290.22" width="5.14" height="3.7" fill="#ca6a58"/>
<rect x="847.73" y="290.22" width="5.14" height="3.7" fill="#d77e6a"/>
<rect x="852.57" y="290.22" width="5.14" height="3.7" fill="#c96857"/>
<rect x="857.41" y="290.22" width="5.14" height="3.7" fill="#e3a090"/>
<rect x="862.24" y="290.22" width="5.14" height="3.7" fill="#f4ccc0"/>
<rect x="867.08" y="290.22" width="5.14" height="3.7" fill="#f5cec2"/>
<rect x="871.92" y="290.22" width="5.14" height="3.7" fill="#f5cec2"/>
<rect x="876.76" y="290.22" width="5.14" height="3.7" fill="#f0c1b4"/>
<rect x="881.6" y="290.22" width="5.14" height="3.7" fill="#efc0b3"/>
<rect x="886.44" y="290.22" width="5.14" height="3.7" fill="#be5848"/>
<rect x="891.28" y="290.22" width="5.14" height="3.7" fill="#b04336"/>
<rect x="896.12" y="290.22" width="5.14" height="3.7" fill="#d57b67"/>
<rect x="900.96" y="290.22" width="5.14" height="3.7" fill="#e39e8e"/>
<rect x="721.9" y="293.62" width="5.14" height="3.7" fill="#fefdfc"/>
<rect x="726.74" y="293.62" width="5.14" height="3.7" fill="#fae6e0"/>
<rect x="731.58" y="293.62" width="5.14" height="3.7" fill="#fefbfa"/>
<rect x="736.42" y="293.62" width="5.14" height="3.7" fill="#fefcfb"/>
<rect x="741.26" y="293.62" width="5.14" height="3.7" fill="#fefcfb"/>
<rect x="746.1" y="293.62" width="5.14" height="3.7" fill="#fefaf9"/>
<rect x="750.94" y="293.62" width="5.14" height="3.7" fill="#ffffff"/>
<rect x="755.78" y="293.62" width="5.14" height="3.7" fill="#fffefd"/>
<rect x="760.62" y="293.62" width="5.14" height="3.7" fill="#fffefd"/>
<rect x="765.46" y="293.62" width="5.14" height="3.7" fill="#fae7e2"/>
<rect x="770.29" y="293.62" width="5.14" height="3.7" fill="#fefaf9"/>
<rect x="775.13" y="293.62" width="5.14" height="3.7" fill="#fffdfc"/>
<rect x="779.97" y="293.62" width="5.14" height="3.7" fill="#fffdfc"/>
<rect x="784.81" y="293.62" width="5.14" height="3.7" fill="#fae6e0"/>
<rect x="789.65" y="293.62" width="5.14" height="3.7" fill="#fae8e2"/>
<rect x="794.49" y="293.62" width="5.14" height="3.7" fill="#ffffff"/>
<rect x="799.33" y="293.62" width="5.14" height="3.7" fill="#e9ae9f"/>
<rect x="804.17" y="293.62" width="5.14" height="3.7" fill="#efbfb2"/>
<rect x="809.01" y="293.62" width="5.14" height="3.7" fill="#efc0b3"/>
<rect x="813.85" y="293.62" width="5.14" height="3.7" fill="#f7d7cd"/>
<rect x="818.69" y="293.62" width="5.14" height="3.7" fill="#f7d9cf"/>
<rect x="823.53" y="293.62" width="5.14" height="3.7" fill="#f4cdc0"/>
<rect x="828.37" y="293.62" width="5.14" height="3.7" fill="#d37865"/>
<rect x="833.21" y="293.62" width="5.14" height="3.7" fill="#e9b0a1"/>
<rect x="838.05" y="293.62" width="5.14" height="3.7" fill="#f7d7cc"/>
<rect x="842.89" y="293.62" width="5.14" height="3.7" fill="#d67c68"/>
<rect x="847.73" y="293.62" width="5.14" height="3.7" fill="#dd8e7c"/>
<rect x="852.57" y="293.62" width="5.14" height="3.7" fill="#d67d69"/>
<rect x="857.41" y="293.62" width="5.14" height="3.7" fill="#eab1a2"/>
<rect x="862.24" y="293.62" width="5.14" height="3.7" fill="#f7d8ce"/>
<rect x="867.08" y="293.62" width="5.14" height="3.7" fill="#f7d8cf"/>
<rect x="871.92" y="293.62" width="5.14" height="3.7" fill="#f7d7cd"/>
<rect x="876.76" y="293.62" width="5.14" height="3.7" fill="#f4ccc0"/>
<rect x="881.6" y="293.62" width="5.14" height="3.7" fill="#f5d0c5"/>
<rect x="886.44" y="293.62" width="5.14" height="3.7" fill="#ca6a58"/>
<rect x="891.28" y="293.62" width="5.14" height="3.7" fill="#be5849"/>
<rect x="896.12" y="293.62" width="5.14" height="3.7" fill="#dd8e7c"/>
<rect x="900.96" y="293.62" width="5.14" height="3.7" fill="#e9afa0"/>
<rect x="721.9" y="297.02" width="5.14" height="3.7" fill="#fffefe"/>
<rect x="726.74" y="297.02" width="5.14" height="3.7" fill="#f8dfd7"/>
<rect x="731.58" y="297.02" width="5.14" height="3.7" fill="#fffefe"/>
<rect x="736.42" y="297.02" width="5.14" height="3.7" fill="#ffffff"/>
<rect x="741.26" y="297.02" width="5.14" height="3.7" fill="#fffffe"/>
<rect x="746.1" y="297.02" width="5.14" height="3.7" fill="#fffefe"/>
<rect x="750.94" y="297.02" width="5.14" height="3.7" fill="#fdf8f6"/>
<rect x="755.78" y="297.02" width="5.14" height="3.7" fill="#fef9f7"/>
<rect x="760.62" y="297.02" width="5.14" height="3.7" fill="#fdf7f5"/>
<rect x="765.46" y="297.02" width="5.14" height="3.7" fill="#f9e1d9"/>
<rect x="770.29" y="297.02" width="5.14" height="3.7" fill="#fffdfd"/>
<rect x="775.13" y="297.02" width="5.14" height="3.7" fill="#fffefd"/>
<rect x="779.97" y="297.02" width="5.14" height="3.7" fill="#fef9f7"/>
<rect x="784.81" y="297.02" width="5.14" height="3.7" fill="#f8dfd7"/>
<rect x="789.65" y="297.02" width="5.14" height="3.7" fill="#f9e0d8"/>
<rect x="794.49" y="297.02" width="5.14" height="3.7" fill="#fffefd"/>
<rect x="799.33" y="297.02" width="5.14" height="3.7" fill="#efbeb0"/>
<rect x="804.17" y="297.02" width="5.14" height="3.7" fill="#f5cec2"/>
<rect x="809.01" y="297.02" width="5.14" height="3.7" fill="#f5cfc3"/>
<rect x="813.85" y="297.02" width="5.14" height="3.7" fill="#f9e3db"/>
<rect x="818.69" y="297.02" width="5.14" height="3.7" fill="#f9e0d8"/>
<rect x="823.53" y="297.02" width="5.14" height="3.7" fill="#f7d7cd"/>
<rect x="828.37" y="297.02" width="5.14" height="3.7" fill="#dc8c7a"/>
<rect x="833.21" y="297.02" width="5.14" height="3.7" fill="#efbeb0"/>
<rect x="838.05" y="297.02" width="5.14" height="3.7" fill="#f9e2db"/>
<rect x="842.89" y="297.02" width="5.14" height="3.7" fill="#db8a77"/>
<rect x="847.73" y="297.02" width="5.14" height="3.7" fill="#e29c8b"/>
<rect x="852.57" y="297.02" width="5.14" height="3.7" fill="#dd8e7c"/>
<rect x="857.41" y="297.02" width="5.14" height="3.7" fill="#eebcae"/>
<rect x="862.24" y="297.02" width="5.14" height="3.7" fill="#f8dfd7"/>
<rect x="867.08" y="297.02" width="5.14" height="3.7" fill="#f9e2da"/>
<rect x="871.92" y="297.02" width="5.14" height="3.7" fill="#f8dfd7"/>
<rect x="876.76" y="297.02" width="5.14" height="3.7" fill="#f7d8ce"/>
<rect x="881.6" y="297.02" width="5.14" height="3.7" fill="#f7d9d0"/>
<rect x="886.44" y="297.02" width="5.14" height="3.7" fill="#d47a66"/>
<rect x="891.28" y="297.02" width="5.14" height="3.7" fill="#ca6a59"/>
<rect x="896.12" y="297.02" width="5.14" height="3.7" fill="#e29c8b"/>
<rect x="900.96" y="297.02" width="5.14" height="3.7" fill="#efbeb0"/>
<rect x="721.9" y="300.42" width="5.14" height="3.7" fill="#fefcfb"/>
<rect x="726.74" y="300.42" width="5.14" height="3.7" fill="#f7d8cf"/>
<rect x="731.58" y="300.42" width="5.14" height="3.7" fill="#fffdfc"/>
<rect x="736.42" y="300.42" width="5.14" height="3.7" fill="#fffefe"/>
<rect x="741.26" y="300.42" width="5.14" height="3.7" fill="#fffefd"/>
<rect x="746.1" y="300.42" width="5.14" height="3.7" fill="#fffdfc"/>
<rect x="750.94" y="300.42" width="5.14" height="3.7" fill="#fcf2ee"/>
<rect x="755.78" y="300.42" width="5.14" height="3.7" fill="#fcf1ee"/>
<rect x="760.62" y="300.42" width="5.14" height="3.7" fill="#fcf1ee"/>
<rect x="765.46" y="300.42" width="5.14" height="3.7" fill="#f7d7cd"/>
<rect x="770.29" y="300.42" width="5.14" height="3.7" fill="#fffffe"/>
<rect x="775.13" y="300.42" width="5.14" height="3.7" fill="#fefcfb"/>
<rect x="779.97" y="300.42" width="5.14" height="3.7" fill="#fcf0ed"/>
<rect x="784.81" y="300.42" width="5.14" height="3.7" fill="#f7d8cf"/>
<rect x="789.65" y="300.42" width="5.14" height="3.7" fill="#f7d9d0"/>
<rect x="794.49" y="300.42" width="5.14" height="3.7" fill="#fefaf9"/>
<rect x="799.33" y="300.42" width="5.14" height="3.7" fill="#f4ccc0"/>
<rect x="804.17" y="300.42" width="5.14" height="3.7" fill="#f7d8ce"/>
<rect x="809.01" y="300.42" width="5.14" height="3.7" fill="#f7d6cc"/>
<rect x="813.85" y="300.42" width="5.14" height="3.7" fill="#fae9e3"/>
<rect x="818.69" y="300.42" width="5.14" height="3.7" fill="#fae9e3"/>
<rect x="823.53" y="300.42" width="5.14" height="3.7" fill="#f9e2da"/>
<rect x="828.37" y="300.42" width="5.14" height="3.7" fill="#e4a090"/>
<rect x="833.21" y="300.42" width="5.14" height="3.7" fill="#f4cdc1"/>
<rect x="838.05" y="300.42" width="5.14" height="3.7" fill="#fae9e4"/>
<rect x="842.89" y="300.42" width="5.14" height="3.7" fill="#e39e8d"/>
<rect x="847.73" y="300.42" width="5.14" height="3.7" fill="#e9ae9f"/>
<rect x="852.57" y="300.42" width="5.14" height="3.7" fill="#e29d8c"/>
<rect x="857.41" y="300.42" width="5.14" height="3.7" fill="#f5d0c4"/>
<rect x="862.24" y="300.42" width="5.14" height="3.7" fill="#fae9e4"/>
<rect x="867.08" y="300.42" width="5.14" height="3.7" fill="#fbeae4"/>
<rect x="871.92" y="300.42" width="5.14" height="3.7" fill="#fbeae5"/>
<rect x="876.76" y="300.42" width="5.14" height="3.7" fill="#f9e2db"/>
<rect x="881.6" y="300.42" width="5.14" height="3.7" fill="#f9e1d9"/>
<rect x="886.44" y="300.42" width="5.14" height="3.7" fill="#dc8d7b"/>
<rect x="891.28" y="300.42" width="5.14" height="3.7" fill="#d47966"/>
<rect x="896.12" y="300.42" width="5.14" height="3.7" fill="#e9b0a1"/>
<rect x="900.96" y="300.42" width="5.14" height="3.7" fill="#f5cfc3"/>
<rect x="721.9" y="303.81" width="5.14" height="3.7" fill="#fefcfb"/>
<rect x="726.74" y="303.81" width="5.14" height="3.7" fill="#f7d9cf"/>
<rect x="731.58" y="303.81" width="5.14" height="3.7" fill="#fffefd"/>
<rect x="736.42" y="303.81" width="5.14" height="3.7" fill="#ffffff"/>
<rect x="741.26" y="303.81" width="5.14" height="3.7" fill="#ffffff"/>
<rect x="746.1" y="303.81" width="5.14" height="3.7" fill="#fffefe"/>
<rect x="750.94" y="303.81" width="5.14" height="3.7" fill="#fcf2ef"/>
<rect x="755.78" y="303.81" width="5.14" height="3.7" fill="#fcf1ee"/>
<rect x="760.62" y="303.81" width="5.14" height="3.7" fill="#fcf2ef"/>
<rect x="765.46" y="303.81" width="5.14" height="3.7" fill="#f7dad1"/>
<rect x="770.29" y="303.81" width="5.14" height="3.7" fill="#fffefd"/>
<rect x="775.13" y="303.81" width="5.14" height="3.7" fill="#fefaf8"/>
<rect x="779.97" y="303.81" width="5.14" height="3.7" fill="#fcf0ec"/>
<rect x="784.81" y="303.81" width="5.14" height="3.7" fill="#f7d8cf"/>
<rect x="789.65" y="303.81" width="5.14" height="3.7" fill="#f7d9cf"/>
<rect x="794.49" y="303.81" width="5.14" height="3.7" fill="#fefcfb"/>
<rect x="799.33" y="303.81" width="5.14" height="3.7" fill="#f5d0c4"/>
<rect x="804.17" y="303.81" width="5.14" height="3.7" fill="#f7d9cf"/>
<rect x="809.01" y="303.81" width="5.14" height="3.7" fill="#f7d6cc"/>
<rect x="813.85" y="303.81" width="5.14" height="3.7" fill="#fbebe6"/>
<rect x="818.69" y="303.81" width="5.14" height="3.7" fill="#fae8e3"/>
<rect x="823.53" y="303.81" width="5.14" height="3.7" fill="#f9e1da"/>
<rect x="828.37" y="303.81" width="5.14" height="3.7" fill="#e39d8d"/>
<rect x="833.21" y="303.81" width="5.14" height="3.7" fill="#f5d0c4"/>
<rect x="838.05" y="303.81" width="5.14" height="3.7" fill="#fae8e3"/>
<rect x="842.89" y="303.81" width="5.14" height="3.7" fill="#e39f8e"/>
<rect x="847.73" y="303.81" width="5.14" height="3.7" fill="#e8ad9e"/>
<rect x="852.57" y="303.81" width="5.14" height="3.7" fill="#e29d8c"/>
<rect x="857.41" y="303.81" width="5.14" height="3.7" fill="#f5d0c4"/>
<rect x="862.24" y="303.81" width="5.14" height="3.7" fill="#fbebe6"/>
<rect x="867.08" y="303.81" width="5.14" height="3.7" fill="#fae8e2"/>
<rect x="871.92" y="303.81" width="5.14" height="3.7" fill="#fae9e3"/>
<rect x="876.76" y="303.81" width="5.14" height="3.7" fill="#f9e0d9"/>
<rect x="881.6" y="303.81" width="5.14" height="3.7" fill="#f8e0d8"/>
<rect x="886.44" y="303.81" width="5.14" height="3.7" fill="#dd8f7d"/>
<rect x="891.28" y="303.81" width="5.14" height="3.7" fill="#d47a66"/>
<rect x="896.12" y="303.81" width="5.14" height="3.7" fill="#e8ac9d"/>
<rect x="900.96" y="303.81" width="5.14" height="3.7" fill="#f5d0c4"/>
<rect x="721.9" y="307.21" width="5.14" height="3.7" fill="#fefbfa"/>
<rect x="726.74" y="307.21" width="5.14" height="3.7" fill="#f7d7cd"/>
<rect x="731.58" y="307.21" width="5.14" height="3.7" fill="#fffefe"/>
<rect x="736.42" y="307.21" width="5.14" height="3.7" fill="#fffdfd"/>
<rect x="741.26" y="307.21" width="5.14" height="3.7" fill="#ffffff"/>
<rect x="746.1" y="307.21" width="5.14" height="3.7" fill="#fffdfd"/>
<rect x="750.94" y="307.21" width="5.14" height="3.7" fill="#fcf2ef"/>
<rect x="755.78" y="307.21" width="5.14" height="3.7" fill="#fcf1ee"/>
<rect x="760.62" y="307.21" width="5.14" height="3.7" fill="#fcf2ee"/>
<rect x="765.46" y="307.21" width="5.14" height="3.7" fill="#f7d7cd"/>
<rect x="770.29" y="307.21" width="5.14" height="3.7" fill="#fffdfd"/>
<rect x="775.13" y="307.21" width="5.14" height="3.7" fill="#fefbfa"/>
<rect x="779.97" y="307.21" width="5.14" height="3.7" fill="#fcf1ed"/>
<rect x="784.81" y="307.21" width="5.14" height="3.7" fill="#f7d9cf"/>
<rect x="789.65" y="307.21" width="5.14" height="3.7" fill="#f7d7ce"/>
<rect x="794.49" y="307.21" width="5.14" height="3.7" fill="#fefcfb"/>
<rect x="799.33" y="307.21" width="5.14" height="3.7" fill="#f5cec2"/>
<rect x="804.17" y="307.21" width="5.14" height="3.7" fill="#f7d8ce"/>
<rect x="809.01" y="307.21" width="5.14" height="3.7" fill="#f7d8cf"/>
<rect x="813.85" y="307.21" width="5.14" height="3.7" fill="#fbebe6"/>
<rect x="818.69" y="307.21" width="5.14" height="3.7" fill="#fbebe6"/>
<rect x="823.53" y="307.21" width="5.14" height="3.7" fill="#f9e1d9"/>
<rect x="828.37" y="307.21" width="5.14" height="3.7" fill="#e39f8e"/>
<rect x="833.21" y="307.21" width="5.14" height="3.7" fill="#f4cdc1"/>
<rect x="838.05" y="307.21" width="5.14" height="3.7" fill="#fbeae5"/>
<rect x="842.89" y="307.21" width="5.14" height="3.7" fill="#e19a89"/>
<rect x="847.73" y="307.21" width="5.14" height="3.7" fill="#e8ac9c"/>
<rect x="852.57" y="307.21" width="5.14" height="3.7" fill="#e29c8b"/>
<rect x="857.41" y="307.21" width="5.14" height="3.7" fill="#f5cfc3"/>
<rect x="862.24" y="307.21" width="5.14" height="3.7" fill="#fbebe6"/>
<rect x="867.08" y="307.21" width="5.14" height="3.7" fill="#fbeae4"/>
<rect x="871.92" y="307.21" width="5.14" height="3.7" fill="#fae9e4"/>
<rect x="876.76" y="307.21" width="5.14" height="3.7" fill="#f8e0d8"/>
<rect x="881.6" y="307.21" width="5.14" height="3.7" fill="#f9e2db"/>
<rect x="886.44" y="307.21" width="5.14" height="3.7" fill="#dd8e7c"/>
<rect x="891.28" y="307.21" width="5.14" height="3.7" fill="#d37864"/>
<rect x="896.12" y="307.21" width="5.14" height="3.7" fill="#e8ac9d"/>
<rect x="900.96" y="307.21" width="5.14" height="3.7" fill="#f5cfc3"/>
<rect x="721.9" y="310.61" width="5.14" height="3.7" fill="#fffdfd"/>
<rect x="726.74" y="310.61" width="5.14" height="3.7" fill="#f9e1da"/>
<rect x="731.58" y="310.61" width="5.14" height="3.7" fill="#fffefd"/>
<rect x="736.42" y="310.61" width="5.14" height="3.7" fill="#fffdfd"/>
<rect x="741.26" y="310.61" width="5.14" height="3.7" fill="#fffefd"/>
<rect x="746.1" y="310.61" width="5.14" height="3.7" fill="#ffffff"/>
<rect x="750.94" y="310.61" width="5.14" height="3.7" fill="#fef9f7"/>
<rect x="755.78" y="310.61" width="5.14" height="3.7" fill="#fdf7f6"/>
<rect x="760.62" y="310.61" width="5.14" height="3.7" fill="#fdf7f5"/>
<rect x="765.46" y="310.61" width="5.14" height="3.7" fill="#f9e1da"/>
<rect x="770.29" y="310.61" width="5.14" height="3.7" fill="#ffffff"/>
<rect x="775.13" y="310.61" width="5.14" height="3.7" fill="#ffffff"/>
<rect x="779.97" y="310.61" width="5.14" height="3.7" fill="#fdf7f5"/>
<rect x="784.81" y="310.61" width="5.14" height="3.7" fill="#f9e0d8"/>
<rect x="789.65" y="310.61" width="5.14" height="3.7" fill="#f9e0d8"/>
<rect x="794.49" y="310.61" width="5.14" height="3.7" fill="#fefdfc"/>
<rect x="799.33" y="310.61" width="5.14" height="3.7" fill="#eebeb0"/>
<rect x="804.17" y="310.61" width="5.14" height="3.7" fill="#f5d0c4"/>
<rect x="809.01" y="310.61" width="5.14" height="3.7" fill="#f4cdc1"/>
<rect x="813.85" y="310.61" width="5.14" height="3.7" fill="#f9e3dc"/>
<rect x="818.69" y="310.61" width="5.14" height="3.7" fill="#f9e2da"/>
<rect x="823.53" y="310.61" width="5.14" height="3.7" fill="#f7d7cd"/>
<rect x="828.37" y="310.61" width="5.14" height="3.7" fill="#dd8e7c"/>
<rect x="833.21" y="310.61" width="5.14" height="3.7" fill="#f0c1b4"/>
<rect x="838.05" y="310.61" width="5.14" height="3.7" fill="#f9e1d9"/>
<rect x="842.89" y="310.61" width="5.14" height="3.7" fill="#dc8d7b"/>
<rect x="847.73" y="310.61" width="5.14" height="3.7" fill="#e19a89"/>
<rect x="852.57" y="310.61" width="5.14" height="3.7" fill="#dd8f7d"/>
<rect x="857.41" y="310.61" width="5.14" height="3.7" fill="#eebcaf"/>
<rect x="862.24" y="310.61" width="5.14" height="3.7" fill="#f9e1da"/>
<rect x="867.08" y="310.61" width="5.14" height="3.7" fill="#f9e0d8"/>
<rect x="871.92" y="310.61" width="5.14" height="3.7" fill="#f9e1da"/>
<rect x="876.76" y="310.61" width="5.14" height="3.7" fill="#f7d7cd"/>
<rect x="881.6" y="310.61" width="5.14" height="3.7" fill="#f7d9cf"/>
<rect x="886.44" y="310.61" width="5.14" height="3.7" fill="#d67d69"/>
<rect x="891.28" y="310.61" width="5.14" height="3.7" fill="#ca6a58"/>
<rect x="896.12" y="310.61" width="5.14" height="3.7" fill="#e29b8a"/>
<rect x="900.96" y="310.61" width="5.14" height="3.7" fill="#efbfb2"/>
<rect x="721.9" y="314.01" width="5.14" height="3.7" fill="#fcefeb"/>
<rect x="726.74" y="314.01" width="5.14" height="3.7" fill="#fffefe"/>
<rect x="731.58" y="314.01" width="5.14" height="3.7" fill="#f9e1da"/>
<rect x="736.42" y="314.01" width="5.14" height="3.7" fill="#f9e0d9"/>
<rect x="741.26" y="314.01" width="5.14" height="3.7" fill="#f8e0d8"/>
<rect x="746.1" y="314.01" width="5.14" height="3.7" fill="#f8e0d8"/>
<rect x="750.94" y="314.01" width="5.14" height="3.7" fill="#fdf8f6"/>
<rect x="755.78" y="314.01" width="5.14" height="3.7" fill="#fef9f7"/>
<rect x="760.62" y="314.01" width="5.14" height="3.7" fill="#fef9f8"/>
<rect x="765.46" y="314.01" width="5.14" height="3.7" fill="#ffffff"/>
<rect x="770.29" y="314.01" width="5.14" height="3.7" fill="#f9e0d9"/>
<rect x="775.13" y="314.01" width="5.14" height="3.7" fill="#fcefeb"/>
<rect x="779.97" y="314.01" width="5.14" height="3.7" fill="#fdf8f6"/>
<rect x="784.81" y="314.01" width="5.14" height="3.7" fill="#fffefe"/>
<rect x="789.65" y="314.01" width="5.14" height="3.7" fill="#fffdfd"/>
<rect x="794.49" y="314.01" width="5.14" height="3.7" fill="#fbeee9"/>
<rect x="799.33" y="314.01" width="5.14" height="3.7" fill="#c96857"/>
<rect x="804.17" y="314.01" width="5.14" height="3.7" fill="#d47966"/>
<rect x="809.01" y="314.01" width="5.14" height="3.7" fill="#d57b67"/>
<rect x="813.85" y="314.01" width="5.14" height="3.7" fill="#e39e8d"/>
<rect x="818.69" y="314.01" width="5.14" height="3.7" fill="#e39e8e"/>
<rect x="823.53" y="314.01" width="5.14" height="3.7" fill="#dd8f7d"/>
<rect x="828.37" y="314.01" width="5.14" height="3.7" fill="#a43127"/>
<rect x="833.21" y="314.01" width="5.14" height="3.7" fill="#c96958"/>
<rect x="838.05" y="314.01" width="5.14" height="3.7" fill="#e3a08f"/>
<rect x="842.89" y="314.01" width="5.14" height="3.7" fill="#a33026"/>
<rect x="847.73" y="314.01" width="5.14" height="3.7" fill="#b14538"/>
<rect x="852.57" y="314.01" width="5.14" height="3.7" fill="#a53228"/>
<rect x="857.41" y="314.01" width="5.14" height="3.7" fill="#ca6a58"/>
<rect x="862.24" y="314.01" width="5.14" height="3.7" fill="#e39f8f"/>
<rect x="867.08" y="314.01" width="5.14" height="3.7" fill="#e19a89"/>
<rect x="871.92" y="314.01" width="5.14" height="3.7" fill="#e39f8f"/>
<rect x="876.76" y="314.01" width="5.14" height="3.7" fill="#dc8d7b"/>
<rect x="881.6" y="314.01" width="5.14" height="3.7" fill="#db8976"/>
<rect x="886.44" y="314.01" width="5.14" height="3.7" fill="#9b231b"/>
<rect x="891.28" y="314.01" width="5.14" height="3.7" fill="#8d0e09"/>
<rect x="896.12" y="314.01" width="5.14" height="3.7" fill="#b24539"/>
<rect x="900.96" y="314.01" width="5.14" height="3.7" fill="#cb6b59"/>
<rect x="721.9" y="317.4" width="5.14" height="3.7" fill="#fffdfc"/>
<rect x="726.74" y="317.4" width="5.14" height="3.7" fill="#f9e0d8"/>
<rect x="731.58" y="317.4" width="5.14" height="3.7" fill="#ffffff"/>
<rect x="736.42" y="317.4" width="5.14" height="3.7" fill="#fffefe"/>
<rect x="741.26" y="317.4" width="5.14" height="3.7" fill="#ffffff"/>
<rect x="746.1" y="317.4" width="5.14" height="3.7" fill="#fffdfd"/>
<rect x="750.94" y="317.4" width="5.14" height="3.7" fill="#fdf7f5"/>
<rect x="755.78" y="317.4" width="5.14" height="3.7" fill="#fdf7f5"/>
<rect x="760.62" y="317.4" width="5.14" height="3.7" fill="#fef9f8"/>
<rect x="765.46" y="317.4" width="5.14" height="3.7" fill="#f8dfd7"/>
<rect x="770.29" y="317.4" width="5.14" height="3.7" fill="#fffefe"/>
<rect x="775.13" y="317.4" width="5.14" height="3.7" fill="#fffefe"/>
<rect x="779.97" y="317.4" width="5.14" height="3.7" fill="#fef8f7"/>
<rect x="784.81" y="317.4" width="5.14" height="3.7" fill="#f9e0d9"/>
<rect x="789.65" y="317.4" width="5.14" height="3.7" fill="#f9e1da"/>
<rect x="794.49" y="317.4" width="5.14" height="3.7" fill="#fffefd"/>
<rect x="799.33" y="317.4" width="5.14" height="3.7" fill="#f0c1b4"/>
<rect x="804.17" y="317.4" width="5.14" height="3.7" fill="#f4ccbf"/>
<rect x="809.01" y="317.4" width="5.14" height="3.7" fill="#f5d0c5"/>
<rect x="813.85" y="317.4" width="5.14" height="3.7" fill="#f8dfd8"/>
<rect x="818.69" y="317.4" width="5.14" height="3.7" fill="#f9e2db"/>
<rect x="823.53" y="317.4" width="5.14" height="3.7" fill="#f7d9d0"/>
<rect x="828.37" y="317.4" width="5.14" height="3.7" fill="#db8b78"/>
<rect x="833.21" y="317.4" width="5.14" height="3.7" fill="#efbeb0"/>
<rect x="838.05" y="317.4" width="5.14" height="3.7" fill="#f9e0d8"/>
<rect x="842.89" y="317.4" width="5.14" height="3.7" fill="#dc8c7a"/>
<rect x="847.73" y="317.4" width="5.14" height="3.7" fill="#e29c8b"/>
<rect x="852.57" y="317.4" width="5.14" height="3.7" fill="#dd8f7d"/>
<rect x="857.41" y="317.4" width="5.14" height="3.7" fill="#eebdaf"/>
<rect x="862.24" y="317.4" width="5.14" height="3.7" fill="#f9e1d9"/>
<rect x="867.08" y="317.4" width="5.14" height="3.7" fill="#f8dfd8"/>
<rect x="871.92" y="317.4" width="5.14" height="3.7" fill="#f9e3dc"/>
<rect x="876.76" y="317.4" width="5.14" height="3.7" fill="#f7d9d0"/>
<rect x="881.6" y="317.4" width="5.14" height="3.7" fill="#f7d7cd"/>
<rect x="886.44" y="317.4" width="5.14" height="3.7" fill="#d37865"/>
<rect x="891.28" y="317.4" width="5.14" height="3.7" fill="#ca6a58"/>
<rect x="896.12" y="317.4" width="5.14" height="3.7" fill="#e29c8b"/>
<rect x="900.96" y="317.4" width="5.14" height="3.7" fill="#efbeb0"/>
<path d="M721.9,191.7 H905.8 V320.8" fill="none" stroke="#555" stroke-width="0.6"/>
<path d="M799.33,191.7 V320.8 M721.9,266.44 H905.8" stroke="#444" stroke-width="0.6"/>
<text x="912.8" y="238.2" font-size="5" fill="#222" text-anchor="start" font-weight="normal" >DTW_Dist</text>
<defs><linearGradient id="hg" x1="0" y1="1" x2="0" y2="0"><stop offset="0" stop-color="#fff"/><stop offset="0.35" stop-color="#f5cfc3"/><stop offset="0.65" stop-color="#d67c68"/><stop offset="1" stop-color="#8a0a05"/></linearGradient></defs>
<rect x="913.6" y="241.7" width="7" height="36.1" fill="url(#hg)"/>
<text x="923" y="248.2" font-size="4.2" fill="#444" text-anchor="start" font-weight="normal" >400</text>
<text x="923" y="256.37" font-size="4.2" fill="#444" text-anchor="start" font-weight="normal" >300</text>
<text x="923" y="264.54" font-size="4.2" fill="#444" text-anchor="start" font-weight="normal" >200</text>
<text x="923" y="272.71" font-size="4.2" fill="#444" text-anchor="start" font-weight="normal" >100</text>
<text x="923" y="280.88" font-size="4.2" fill="#444" text-anchor="start" font-weight="normal" >0</text>
<rect x="134" y="376" width="257" height="150" fill="#fff"/>
<text x="152.4" y="384.3" font-size="6.3" fill="#222">Silhouette Plot for DTW−K−Medoids (k = 2)</text>
<text x="152.4" y="392.2" font-size="5.28" fill="#222">Average silhouette width = 0.644</text>
<path d="M150.6,513.45 H362.5" stroke="#f4f4f4" stroke-width="0.5"/>
<path d="M150.6,476.15 H362.5" stroke="#f4f4f4" stroke-width="0.5"/>
<path d="M150.6,438.85 H362.5" stroke="#f4f4f4" stroke-width="0.5"/>
<path d="M150.6,494.8 H362.5" stroke="#ebebeb" stroke-width="0.7"/>
<text x="148" y="496.4" font-size="4.6" fill="#555" text-anchor="end" font-weight="normal" >0.0</text>
<path d="M149.3,494.8 H151.3" stroke="#888" stroke-width="0.6"/>
<path d="M150.6,457.5 H362.5" stroke="#ebebeb" stroke-width="0.7"/>
<text x="148" y="459.1" font-size="4.6" fill="#555" text-anchor="end" font-weight="normal" >0.4</text>
<path d="M149.3,457.5 H151.3" stroke="#888" stroke-width="0.6"/>
<path d="M150.6,420.2 H362.5" stroke="#ebebeb" stroke-width="0.7"/>
<text x="148" y="421.8" font-size="4.6" fill="#555" text-anchor="end" font-weight="normal" >0.8</text>
<path d="M149.3,420.2 H151.3" stroke="#888" stroke-width="0.6"/>
<path d="M156.15,394.5 V522" stroke="#ebebeb" stroke-width="0.6"/>
<path d="M161.63,394.5 V522" stroke="#ebebeb" stroke-width="0.6"/>
<path d="M167.12,394.5 V522" stroke="#ebebeb" stroke-width="0.6"/>
<path d="M172.62,394.5 V522" stroke="#ebebeb" stroke-width="0.6"/>
<path d="M178.11,394.5 V522" stroke="#ebebeb" stroke-width="0.6"/>
<path d="M183.59,394.5 V522" stroke="#ebebeb" stroke-width="0.6"/>
<path d="M189.09,394.5 V522" stroke="#ebebeb" stroke-width="0.6"/>
<path d="M194.58,394.5 V522" stroke="#ebebeb" stroke-width="0.6"/>
<path d="M200.06,394.5 V522" stroke="#ebebeb" stroke-width="0.6"/>
<path d="M205.56,394.5 V522" stroke="#ebebeb" stroke-width="0.6"/>
<path d="M211.05,394.5 V522" stroke="#ebebeb" stroke-width="0.6"/>
<path d="M216.54,394.5 V522" stroke="#ebebeb" stroke-width="0.6"/>
<path d="M222.03,394.5 V522" stroke="#ebebeb" stroke-width="0.6"/>
<path d="M227.52,394.5 V522" stroke="#ebebeb" stroke-width="0.6"/>
<path d="M233,394.5 V522" stroke="#ebebeb" stroke-width="0.6"/>
<path d="M238.5,394.5 V522" stroke="#ebebeb" stroke-width="0.6"/>
<path d="M243.99,394.5 V522" stroke="#ebebeb" stroke-width="0.6"/>
<path d="M249.48,394.5 V522" stroke="#ebebeb" stroke-width="0.6"/>
<path d="M254.97,394.5 V522" stroke="#ebebeb" stroke-width="0.6"/>
<path d="M260.46,394.5 V522" stroke="#ebebeb" stroke-width="0.6"/>
<path d="M265.94,394.5 V522" stroke="#ebebeb" stroke-width="0.6"/>
<path d="M271.44,394.5 V522" stroke="#ebebeb" stroke-width="0.6"/>
<path d="M276.93,394.5 V522" stroke="#ebebeb" stroke-width="0.6"/>
<path d="M282.42,394.5 V522" stroke="#ebebeb" stroke-width="0.6"/>
<path d="M287.9,394.5 V522" stroke="#ebebeb" stroke-width="0.6"/>
<path d="M293.39,394.5 V522" stroke="#ebebeb" stroke-width="0.6"/>
<path d="M298.88,394.5 V522" stroke="#ebebeb" stroke-width="0.6"/>
<path d="M304.38,394.5 V522" stroke="#ebebeb" stroke-width="0.6"/>
<path d="M309.87,394.5 V522" stroke="#ebebeb" stroke-width="0.6"/>
<path d="M315.36,394.5 V522" stroke="#ebebeb" stroke-width="0.6"/>
<path d="M320.85,394.5 V522" stroke="#ebebeb" stroke-width="0.6"/>
<path d="M326.34,394.5 V522" stroke="#ebebeb" stroke-width="0.6"/>
<path d="M331.83,394.5 V522" stroke="#ebebeb" stroke-width="0.6"/>
<path d="M337.32,394.5 V522" stroke="#ebebeb" stroke-width="0.6"/>
<path d="M342.81,394.5 V522" stroke="#ebebeb" stroke-width="0.6"/>
<path d="M348.3,394.5 V522" stroke="#ebebeb" stroke-width="0.6"/>
<path d="M353.79,394.5 V522" stroke="#ebebeb" stroke-width="0.6"/>
<path d="M359.27,394.5 V522" stroke="#ebebeb" stroke-width="0.6"/>
<path d="M153.4,434.6 H362.5" stroke="#e58a8a" stroke-width="0.7" stroke-dasharray="1.2,1.2"/>
<rect x="153.65" y="418.89" width="4.99" height="75.91" fill="#006400"/>
<rect x="159.14" y="418.89" width="4.99" height="75.91" fill="#006400"/>
<rect x="164.63" y="419.27" width="4.99" height="75.53" fill="#006400"/>
<rect x="170.12" y="421.13" width="4.99" height="73.67" fill="#006400"/>
<rect x="175.61" y="423.28" width="4.99" height="71.52" fill="#006400"/>
<rect x="181.1" y="426.73" width="4.99" height="68.07" fill="#006400"/>
<rect x="186.59" y="426.73" width="4.99" height="68.07" fill="#006400"/>
<rect x="192.08" y="428.59" width="4.99" height="66.21" fill="#006400"/>
<rect x="197.57" y="428.59" width="4.99" height="66.21" fill="#006400"/>
<rect x="203.06" y="430.18" width="4.99" height="64.62" fill="#006400"/>
<rect x="208.55" y="459.83" width="4.99" height="34.97" fill="#006400"/>
<rect x="214.04" y="462.72" width="4.99" height="32.08" fill="#006400"/>
<rect x="219.53" y="470.93" width="4.99" height="23.87" fill="#006400"/>
<rect x="225.02" y="491.26" width="4.99" height="3.54" fill="#006400"/>
<rect x="230.51" y="494.8" width="4.99" height="15.95" fill="#006400"/>
<rect x="236" y="494.8" width="4.99" height="25.46" fill="#006400"/>
<rect x="241.49" y="413.39" width="4.99" height="81.41" fill="#d00000"/>
<rect x="246.98" y="413.95" width="4.99" height="80.85" fill="#d00000"/>
<rect x="252.47" y="414.14" width="4.99" height="80.66" fill="#d00000"/>
<rect x="257.96" y="414.14" width="4.99" height="80.66" fill="#d00000"/>
<rect x="263.45" y="414.33" width="4.99" height="80.47" fill="#d00000"/>
<rect x="268.94" y="414.51" width="4.99" height="80.29" fill="#d00000"/>
<rect x="274.43" y="414.88" width="4.99" height="79.92" fill="#d00000"/>
<rect x="279.92" y="415.07" width="4.99" height="79.73" fill="#d00000"/>
<rect x="285.41" y="415.07" width="4.99" height="79.73" fill="#d00000"/>
<rect x="290.9" y="416.19" width="4.99" height="78.61" fill="#d00000"/>
<rect x="296.39" y="416.56" width="4.99" height="78.24" fill="#d00000"/>
<rect x="301.88" y="420.76" width="4.99" height="74.04" fill="#d00000"/>
<rect x="307.37" y="422.25" width="4.99" height="72.55" fill="#d00000"/>
<rect x="312.86" y="424.4" width="4.99" height="70.4" fill="#d00000"/>
<rect x="318.35" y="429.06" width="4.99" height="65.74" fill="#d00000"/>
<rect x="323.84" y="431.76" width="4.99" height="63.04" fill="#d00000"/>
<rect x="329.33" y="434" width="4.99" height="60.8" fill="#d00000"/>
<rect x="334.82" y="434.75" width="4.99" height="60.05" fill="#d00000"/>
<rect x="340.31" y="434.75" width="4.99" height="60.05" fill="#d00000"/>
<rect x="345.8" y="447.06" width="4.99" height="47.74" fill="#d00000"/>
<rect x="351.29" y="464.12" width="4.99" height="30.68" fill="#d00000"/>
<rect x="356.78" y="469.62" width="4.99" height="25.18" fill="#d00000"/>
<text transform="translate(139.4,460) rotate(-90)" font-size="5.5" fill="#222" text-anchor="middle">Silhouette width Si</text>
<text x="370" y="453" font-size="5.4" fill="#222" text-anchor="start" font-weight="normal" >cluster</text>
<rect x="370.2" y="456.9" width="8.3" height="7.3" fill="#006400"/>
<rect x="370.2" y="465.6" width="8.3" height="7.3" fill="#d40000"/>
<text x="381.5" y="463" font-size="4.6" fill="#333" text-anchor="start" font-weight="normal" >1</text>
<text x="381.5" y="471.7" font-size="4.6" fill="#333" text-anchor="start" font-weight="normal" >2</text>
<rect x="493" y="345" width="401" height="181" fill="#fff"/>
<polygon points="511.1,414.4 518.9,417.8 530,415.6 540,406.7 538.9,391.1 543.3,384.4 554.4,386.7 561.1,383.8 567.8,390 574.4,392.2 576.3,389.8 583.7,389.1 590.4,392 597,389.8 600.7,393.5 601.5,398.7 600,404.6 601.5,410.6 608.9,413.5 612.6,416.5 614.8,420.9 614.1,427.6 616.3,431.3 616.3,434.4 629.6,438.9 640,443.3 651.9,441.9 660.7,441.1 672.6,440.4 679,438.3 688.1,435.3 691.1,440.4 701.3,441.4 713.5,448.5 712.5,453.6 711.5,470.9 709.4,491.3 721.7,501.5 719.6,505.5 709.4,504.5 703.3,495.4 693.3,496.7 677,490.7 675.6,490.7 663.7,488.5 651.9,483.3 644.4,478.9 640,475.9 629.6,477.4 620.7,478.9 620.7,481.9 604.4,485.6 589.6,481.9 574.8,477.4 560,475.9 534.4,477.8 526.7,473.3 514.4,475.6 503.3,474.4 496.7,467.8 498.9,463.3 512.2,455.6 515,451 512.2,443.3 513.3,434.4" fill="#ffff00" />
<polygon points="603,432.2 616.3,434.4 629.6,438.9 640,443.3 651.9,441.9 660.7,441.1 672.6,440.4 679,438.3 688.1,435.3 691.1,440.4 701.3,441.4 713.5,448.5 712.5,453.6 707.4,451.6 700.3,455.6 699.3,462.8 689.1,466.9 683,475 678.9,485.2 677,490.7 675.6,490.7 663.7,488.5 651.9,483.3 644.4,478.9 640,475.9 629.6,477.4 620.7,478.9 620,471.5 620.7,459.6 619.3,453.7 604.4,444.8 600,438.9" fill="#ff0000" />
<polygon points="586.8,396 589.4,394.7 593,392.5 597.1,391.4 601,393.4 601.7,402.5 603.6,409 608,412.5 612.7,416.8 615.3,424.5 616.6,431 607.5,431.5 602.3,428.4 597.1,425.8 592,423.2 590,415.5 592,409 590.6,401.2" fill="#0cf20c" />
<polygon points="595,441.5 598.8,442.3 598.6,450.8 594.6,450.3" fill="#0cf20c" />
<polygon points="600,453 602.5,453.5 602,457 599.8,456.5" fill="#0cf20c" />
<polygon points="562,445.5 564.5,445.8 564.3,448.5 562,448.3" fill="#0cf20c" />
<polygon points="543.9,383.6 552,383.2 559.5,383 564,386.9 570,390.5 575,394 575.7,401.2 571.2,403.8 568,410.3 568.6,420.6 560.8,423.2 549,425.2 537.8,417.8 530,415.6 538,408 540,396 541,388" fill="#ff0000" />
<polygon points="512.2,455.6 523.3,454.4 527,458 526.7,473.3 514.4,475.6 503.3,474.4 496.7,467.8 498.9,463.3" fill="#ff0000" />
<polygon points="607.5,402.5 610,396 615.3,392 631,390.8 650.4,391.4 660,390.8 684.4,390 691.1,396.7 686.7,401.1 677.8,405.6 666,409.5 654.3,411.6 628.3,409.6 616.6,409" fill="#ff0000" />
<polygon points="694,395.5 697.5,396 697,398.5 694,398" fill="#ff0000" />
<polygon points="644,487 650,487.3 649,490 643.5,489.6" fill="#ff0000" />
<polygon points="761,387 772,388.5 781,392 788,395 786,398 775,395 764,393" fill="#ff0000" />
<polygon points="700,400 707,402 710,406 704,406.5" fill="#ff0000" />
<polygon points="792,404 799,406 800,410 794,409" fill="#ff0000" />
<polygon points="721,402 723,402.5 722.5,404.5 721,404" fill="#ff0000" />
<polygon points="730,398 733,398.3 732,400" fill="#ff0000" />
<polyline points="538,397 552,401 562,403 571.5,404" fill="none" stroke="#fff" stroke-width="0.45" opacity="0.8"/>
<polyline points="598,411 592,416 584,418 575,419 568,419.5" fill="none" stroke="#fff" stroke-width="0.45" opacity="0.8"/>
<polyline points="518.9,417.8 522,425 518,434 530,436 545,435 560,433 575,432 592.6,426.1" fill="none" stroke="#fff" stroke-width="0.45" opacity="0.8"/>
<polyline points="513.3,434.4 528,438 540,440 552,444 558,452 566,456 586,452 600,438.9" fill="none" stroke="#fff" stroke-width="0.45" opacity="0.8"/>
<polyline points="523.3,454.4 540,455 552,457 560,465 580,462 592,466 604.4,444.8" fill="none" stroke="#fff" stroke-width="0.45" opacity="0.8"/>
<polyline points="537,462 545,472 560,475.9" fill="none" stroke="#fff" stroke-width="0.45" opacity="0.8"/>
<polyline points="575,462 578,477.4" fill="none" stroke="#fff" stroke-width="0.45" opacity="0.8"/>
<polyline points="586,452 592,466 595,482" fill="none" stroke="#fff" stroke-width="0.45" opacity="0.8"/>
<polyline points="620.7,459.6 632,458 641,452 652,456 666,452 683,458 700.3,455.6" fill="none" stroke="#fff" stroke-width="0.45" opacity="0.8"/>
<polyline points="641,452 640,462 640,475.9" fill="none" stroke="#fff" stroke-width="0.45" opacity="0.8"/>
<polyline points="666,452 670,444 675,440" fill="none" stroke="#fff" stroke-width="0.45" opacity="0.8"/>
<polyline points="683,458 687,466.9" fill="none" stroke="#fff" stroke-width="0.45" opacity="0.8"/>
<polyline points="612,432.8 620,440 630,444 641,452" fill="none" stroke="#fff" stroke-width="0.45" opacity="0.8"/>
<polyline points="633.3,391.1 632,401 634,410" fill="none" stroke="#fff" stroke-width="0.45" opacity="0.8"/>
<polyline points="660,390.5 658,400 656,411" fill="none" stroke="#fff" stroke-width="0.45" opacity="0.8"/>
<polyline points="668,390.5 667,400 665,409" fill="none" stroke="#fff" stroke-width="0.45" opacity="0.8"/>
<polyline points="600,438.9 607,443 619.3,453.7" fill="none" stroke="#fff" stroke-width="0.45" opacity="0.8"/>
<text x="556.7" y="397.5" font-size="6.0" fill="#000055" text-anchor="middle" font-weight="normal" fill-opacity="0.85">tuban</text>
<text x="552.2" y="414.5" font-size="6.0" fill="#000055" text-anchor="middle" font-weight="normal" fill-opacity="0.85">bojonegoro</text>
<text x="582" y="407.5" font-size="6.0" fill="#000055" text-anchor="middle" font-weight="normal" fill-opacity="0.85">lamongan</text>
<text x="617.4" y="403.3" font-size="6.0" fill="#000055" text-anchor="middle" font-weight="normal" fill-opacity="0.85">bangkalan</text>
<text x="640" y="403.5" font-size="6.0" fill="#000055" text-anchor="middle" font-weight="normal" fill-opacity="0.85">sampang</text>
<text x="655" y="403.5" font-size="6.0" fill="#000055" text-anchor="middle" font-weight="normal" fill-opacity="0.85">pamekasan</text>
<text x="676.7" y="399.5" font-size="6.0" fill="#000055" text-anchor="middle" font-weight="normal" fill-opacity="0.85">sumenep</text>
<text x="607" y="416.5" font-size="6.0" fill="#000055" text-anchor="middle" font-weight="normal" fill-opacity="0.85">surabaya</text>
<text x="525.6" y="426.3" font-size="6.0" fill="#000055" text-anchor="middle" font-weight="normal" fill-opacity="0.85">ngawi</text>
<text x="582" y="429" font-size="6.0" fill="#000055" text-anchor="middle" font-weight="normal" fill-opacity="0.85">kota mojokerto</text>
<text x="607" y="426.5" font-size="6.0" fill="#000055" text-anchor="middle" font-weight="normal" fill-opacity="0.85">sidoarjo</text>
<text x="577.4" y="434.5" font-size="6.0" fill="#000055" text-anchor="middle" font-weight="normal" fill-opacity="0.85">jombang</text>
<text x="598" y="433" font-size="6.0" fill="#000055" text-anchor="middle" font-weight="normal" fill-opacity="0.85">mojokerto</text>
<text x="521.1" y="439.7" font-size="6.0" fill="#000055" text-anchor="middle" font-weight="normal" fill-opacity="0.85">magetan</text>
<text x="534.4" y="438.2" font-size="6.0" fill="#000055" text-anchor="middle" font-weight="normal" fill-opacity="0.85">kota madiun</text>
<text x="545" y="438.2" font-size="6.0" fill="#000055" text-anchor="middle" font-weight="normal" fill-opacity="0.85">madiun</text>
<text x="561.1" y="438.2" font-size="6.0" fill="#000055" text-anchor="middle" font-weight="normal" fill-opacity="0.85">nganjuk</text>
<text x="618.9" y="440.3" font-size="6.0" fill="#000055" text-anchor="middle" font-weight="normal" fill-opacity="0.85">kota pasuruan</text>
<text x="614.4" y="446.2" font-size="6.0" fill="#000055" text-anchor="middle" font-weight="normal" fill-opacity="0.85">pasuruan</text>
<text x="638" y="447.8" font-size="6.0" fill="#000055" text-anchor="middle" font-weight="normal" fill-opacity="0.85">kota probolinggo</text>
<text x="638" y="452.2" font-size="6.0" fill="#000055" text-anchor="middle" font-weight="normal" fill-opacity="0.85">probolinggo</text>
<text x="559.6" y="450.1" font-size="6.0" fill="#000055" text-anchor="middle" font-weight="normal" fill-opacity="0.85">kota kediri</text>
<text x="566" y="450.1" font-size="6.0" fill="#000055" text-anchor="middle" font-weight="normal" fill-opacity="0.85">kediri</text>
<text x="593.7" y="450.7" font-size="6.0" fill="#000055" text-anchor="middle" font-weight="normal" fill-opacity="0.85">batu</text>
<text x="700.4" y="449.2" font-size="6.0" fill="#000055" text-anchor="middle" font-weight="normal" fill-opacity="0.85">situbondo</text>
<text x="601.1" y="459.6" font-size="6.0" fill="#000055" text-anchor="middle" font-weight="normal" fill-opacity="0.85">kota malang</text>
<text x="682.6" y="458.1" font-size="6.0" fill="#000055" text-anchor="middle" font-weight="normal" fill-opacity="0.85">bondowoso</text>
<text x="531.5" y="459" font-size="6.0" fill="#000055" text-anchor="middle" font-weight="normal" fill-opacity="0.85">ponorogo</text>
<text x="559.6" y="466.1" font-size="6.0" fill="#000055" text-anchor="middle" font-weight="normal" fill-opacity="0.85">tulungagung</text>
<text x="568" y="466.1" font-size="6.0" fill="#000055" text-anchor="middle" font-weight="normal" fill-opacity="0.85">kota blitar</text>
<text x="578.9" y="469.1" font-size="6.0" fill="#000055" text-anchor="middle" font-weight="normal" fill-opacity="0.85">blitar</text>
<text x="512.2" y="467" font-size="6.0" fill="#000055" text-anchor="middle" font-weight="normal" fill-opacity="0.85">pacitan</text>
<text x="534.4" y="469.9" font-size="6.0" fill="#000055" text-anchor="middle" font-weight="normal" fill-opacity="0.85">trenggalek</text>
<text x="604" y="467.8" font-size="6.0" fill="#000055" text-anchor="middle" font-weight="normal" fill-opacity="0.85">malang</text>
<text x="636.7" y="469.1" font-size="6.0" fill="#000055" text-anchor="middle" font-weight="normal" fill-opacity="0.85">lumajang</text>
<text x="658.9" y="477.4" font-size="6.0" fill="#000055" text-anchor="middle" font-weight="normal" fill-opacity="0.85">jember</text>
<text x="696" y="482.7" font-size="6.0" fill="#000055" text-anchor="middle" font-weight="normal" fill-opacity="0.85">banyuwangi</text>
<text x="845.8" y="372.5" font-size="8.7" fill="#111" text-anchor="start" font-weight="normal" >Klaster</text>
<rect x="846.2" y="378.1" width="13.6" height="12.8" fill="#00ff00"/>
<rect x="846.2" y="392.2" width="13.6" height="12.8" fill="#ffff00"/>
<rect x="846.2" y="406.6" width="13.6" height="13.3" fill="#ff0000"/>
<text x="865" y="388.3" font-size="7.8" fill="#222" text-anchor="start" font-weight="normal" >1</text>
<text x="865" y="402.6" font-size="7.8" fill="#222" text-anchor="start" font-weight="normal" >2</text>
<text x="865" y="416.9" font-size="7.8" fill="#222" text-anchor="start" font-weight="normal" >3</text>
</svg></body></html>
